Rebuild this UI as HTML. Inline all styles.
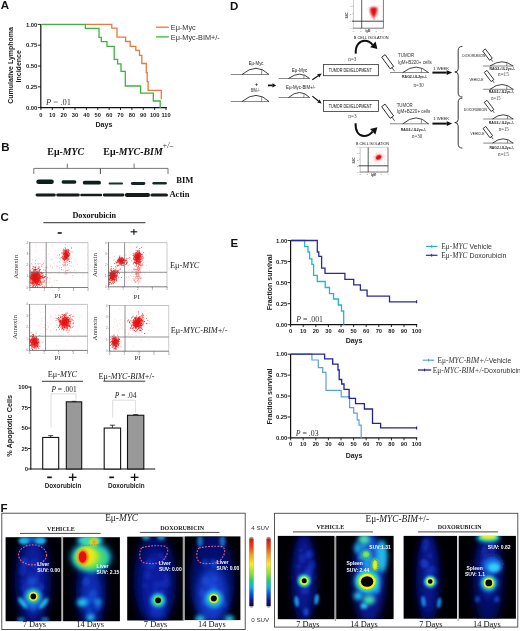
<!DOCTYPE html>
<html><head><meta charset="utf-8"><style>
html,body{margin:0;padding:0;background:#fff;width:520px;height:631px;overflow:hidden}
svg{display:block;filter:blur(0.35px)}
</style></head><body>
<svg width="520" height="631" viewBox="0 0 520 631">

<defs>
<filter id="bandblur" x="-20%" y="-50%" width="140%" height="200%"><feGaussianBlur stdDeviation="0.6"/></filter>
<filter id="b03" x="-50%" y="-50%" width="200%" height="200%"><feGaussianBlur stdDeviation="0.3"/></filter>
<filter id="b1" x="-50%" y="-50%" width="200%" height="200%"><feGaussianBlur stdDeviation="1"/></filter>
<filter id="b15" x="-50%" y="-50%" width="200%" height="200%"><feGaussianBlur stdDeviation="1.5"/></filter>
<filter id="b2" x="-50%" y="-50%" width="200%" height="200%"><feGaussianBlur stdDeviation="2"/></filter>
<filter id="b3" x="-50%" y="-50%" width="200%" height="200%"><feGaussianBlur stdDeviation="3"/></filter>
<filter id="b4" x="-50%" y="-50%" width="200%" height="200%"><feGaussianBlur stdDeviation="4"/></filter>
<linearGradient id="cbar" x1="0" y1="0" x2="0" y2="1">
<stop offset="0" stop-color="#d01818"/><stop offset="0.12" stop-color="#f04010"/><stop offset="0.25" stop-color="#f8a020"/>
<stop offset="0.38" stop-color="#f0f020"/><stop offset="0.52" stop-color="#90e030"/><stop offset="0.62" stop-color="#20d070"/>
<stop offset="0.72" stop-color="#10b0e0"/><stop offset="0.82" stop-color="#1050e0"/><stop offset="0.92" stop-color="#101890"/>
<stop offset="1" stop-color="#0a0a40"/></linearGradient>
</defs>

<rect x="0" y="0" width="520" height="631" fill="#fff"/>
<defs><clipPath id="fc11"><rect x="29.8" y="242.6" width="58.2" height="44.900000000000006"/></clipPath><clipPath id="fc12"><rect x="108.5" y="242.6" width="58.5" height="44.20000000000002"/></clipPath><clipPath id="fc13"><rect x="29.6" y="304.4" width="57.9" height="46.0"/></clipPath><clipPath id="fc14"><rect x="109.5" y="305.5" width="59.19999999999999" height="45.69999999999999"/></clipPath><clipPath id="dc21"><rect x="353.4" y="0" width="30.0" height="28.2"/></clipPath><clipPath id="dc22"><rect x="360.2" y="147.4" width="27.80000000000001" height="24.599999999999994"/></clipPath><clipPath id="pc1"><rect x="5.6" y="537.2" width="55.8" height="84.0"/></clipPath><clipPath id="pc2"><rect x="63.1" y="537.2" width="56.8" height="84.0"/></clipPath><clipPath id="pc3"><rect x="127.2" y="536.7" width="55.6" height="83.8"/></clipPath><clipPath id="pc4"><rect x="184.6" y="536.4" width="55.8" height="83.7"/></clipPath><clipPath id="pc5"><rect x="277.8" y="535.9" width="56.7" height="83.3"/></clipPath><clipPath id="pc6"><rect x="336.2" y="535.9" width="57.4" height="83.2"/></clipPath><clipPath id="pc7"><rect x="403.6" y="535.9" width="53.4" height="82.8"/></clipPath><clipPath id="pc8"><rect x="458.9" y="535.9" width="57.0" height="82.8"/></clipPath></defs>
<text x="0.80" y="9.30" font-family='"Liberation Sans", sans-serif' font-size="11.5" font-weight="bold" font-style="normal" text-anchor="start" fill="#111" >A</text>
<line x1="40.80" y1="23.90" x2="40.80" y2="108.20" stroke="#111" stroke-width="1.2" />
<line x1="40.20" y1="107.60" x2="166.90" y2="107.60" stroke="#111" stroke-width="1.2" />
<line x1="37.80" y1="107.60" x2="40.80" y2="107.60" stroke="#111" stroke-width="0.9" />
<text x="37.40" y="109.70" font-family='"Liberation Sans", sans-serif' font-size="5.9" font-weight="bold" font-style="normal" text-anchor="end" fill="#222" >0.00</text>
<line x1="37.80" y1="86.80" x2="40.80" y2="86.80" stroke="#111" stroke-width="0.9" />
<text x="37.40" y="88.90" font-family='"Liberation Sans", sans-serif' font-size="5.9" font-weight="bold" font-style="normal" text-anchor="end" fill="#222" >0.25</text>
<line x1="37.80" y1="66.00" x2="40.80" y2="66.00" stroke="#111" stroke-width="0.9" />
<text x="37.40" y="68.10" font-family='"Liberation Sans", sans-serif' font-size="5.9" font-weight="bold" font-style="normal" text-anchor="end" fill="#222" >0.50</text>
<line x1="37.80" y1="45.20" x2="40.80" y2="45.20" stroke="#111" stroke-width="0.9" />
<text x="37.40" y="47.30" font-family='"Liberation Sans", sans-serif' font-size="5.9" font-weight="bold" font-style="normal" text-anchor="end" fill="#222" >0.75</text>
<line x1="37.80" y1="24.40" x2="40.80" y2="24.40" stroke="#111" stroke-width="0.9" />
<text x="37.40" y="26.50" font-family='"Liberation Sans", sans-serif' font-size="5.9" font-weight="bold" font-style="normal" text-anchor="end" fill="#222" >1.00</text>
<line x1="40.90" y1="107.60" x2="40.90" y2="110.00" stroke="#111" stroke-width="0.9" />
<text x="40.90" y="117.30" font-family='"Liberation Sans", sans-serif' font-size="5.7" font-weight="bold" font-style="normal" text-anchor="middle" fill="#222" >0</text>
<line x1="52.27" y1="107.60" x2="52.27" y2="110.00" stroke="#111" stroke-width="0.9" />
<text x="52.27" y="117.30" font-family='"Liberation Sans", sans-serif' font-size="5.7" font-weight="bold" font-style="normal" text-anchor="middle" fill="#222" >10</text>
<line x1="63.65" y1="107.60" x2="63.65" y2="110.00" stroke="#111" stroke-width="0.9" />
<text x="63.65" y="117.30" font-family='"Liberation Sans", sans-serif' font-size="5.7" font-weight="bold" font-style="normal" text-anchor="middle" fill="#222" >20</text>
<line x1="75.02" y1="107.60" x2="75.02" y2="110.00" stroke="#111" stroke-width="0.9" />
<text x="75.02" y="117.30" font-family='"Liberation Sans", sans-serif' font-size="5.7" font-weight="bold" font-style="normal" text-anchor="middle" fill="#222" >30</text>
<line x1="86.40" y1="107.60" x2="86.40" y2="110.00" stroke="#111" stroke-width="0.9" />
<text x="86.40" y="117.30" font-family='"Liberation Sans", sans-serif' font-size="5.7" font-weight="bold" font-style="normal" text-anchor="middle" fill="#222" >40</text>
<line x1="97.77" y1="107.60" x2="97.77" y2="110.00" stroke="#111" stroke-width="0.9" />
<text x="97.77" y="117.30" font-family='"Liberation Sans", sans-serif' font-size="5.7" font-weight="bold" font-style="normal" text-anchor="middle" fill="#222" >50</text>
<line x1="109.15" y1="107.60" x2="109.15" y2="110.00" stroke="#111" stroke-width="0.9" />
<text x="109.15" y="117.30" font-family='"Liberation Sans", sans-serif' font-size="5.7" font-weight="bold" font-style="normal" text-anchor="middle" fill="#222" >60</text>
<line x1="120.52" y1="107.60" x2="120.52" y2="110.00" stroke="#111" stroke-width="0.9" />
<text x="120.52" y="117.30" font-family='"Liberation Sans", sans-serif' font-size="5.7" font-weight="bold" font-style="normal" text-anchor="middle" fill="#222" >70</text>
<line x1="131.90" y1="107.60" x2="131.90" y2="110.00" stroke="#111" stroke-width="0.9" />
<text x="131.90" y="117.30" font-family='"Liberation Sans", sans-serif' font-size="5.7" font-weight="bold" font-style="normal" text-anchor="middle" fill="#222" >80</text>
<line x1="143.28" y1="107.60" x2="143.28" y2="110.00" stroke="#111" stroke-width="0.9" />
<text x="143.28" y="117.30" font-family='"Liberation Sans", sans-serif' font-size="5.7" font-weight="bold" font-style="normal" text-anchor="middle" fill="#222" >90</text>
<line x1="154.65" y1="107.60" x2="154.65" y2="110.00" stroke="#111" stroke-width="0.9" />
<text x="154.65" y="117.30" font-family='"Liberation Sans", sans-serif' font-size="5.7" font-weight="bold" font-style="normal" text-anchor="middle" fill="#222" >100</text>
<line x1="166.03" y1="107.60" x2="166.03" y2="110.00" stroke="#111" stroke-width="0.9" />
<text x="166.03" y="117.30" font-family='"Liberation Sans", sans-serif' font-size="5.7" font-weight="bold" font-style="normal" text-anchor="middle" fill="#222" >110</text>
<text x="103.90" y="127.20" font-family='"Liberation Sans", sans-serif' font-size="7.1" font-weight="bold" font-style="normal" text-anchor="middle" fill="#222" >Days</text>
<text transform="translate(13.3,65.4) rotate(-90)" font-family='"Liberation Sans", sans-serif' font-size="7.0" font-weight="bold" text-anchor="middle" fill="#222">Cumulative Lymphoma</text>
<text transform="translate(21.4,66.3) rotate(-90)" font-family='"Liberation Sans", sans-serif' font-size="7.0" font-weight="bold" text-anchor="middle" fill="#222">Incidence</text>
<polyline points="85.40,24.40 111.80,24.40 111.80,28.10 117.00,28.10 117.00,37.10 125.60,37.10 125.60,41.50 130.20,41.50 130.20,46.30 135.80,46.30 135.80,50.40 139.50,50.40 139.50,55.40 141.80,55.40 141.80,63.50 146.30,63.50 146.30,72.70 147.20,72.70 147.20,81.70 148.10,81.70 148.10,90.30 161.30,90.30 161.30,99.20" fill="none" stroke="#e8793a" stroke-width="1.3" />
<polyline points="41.40,24.40 85.40,24.40 85.40,28.30 99.00,28.30 99.00,37.30 101.30,37.30 101.30,41.60 107.00,41.60 107.00,46.30 114.20,46.30 114.20,59.40 117.60,59.40 117.60,63.80 121.00,63.80 121.00,71.30 125.30,71.30 125.30,86.00 140.60,86.00 140.60,93.20 153.30,93.20 153.30,101.00 160.20,101.00 160.20,108.00" fill="none" stroke="#3cb43c" stroke-width="1.3" />
<line x1="156.00" y1="27.20" x2="168.80" y2="27.20" stroke="#e8793a" stroke-width="1.3" />
<line x1="156.00" y1="36.90" x2="168.80" y2="36.90" stroke="#3cb43c" stroke-width="1.3" />
<text x="170.80" y="29.80" font-family='"Liberation Sans", sans-serif' font-size="7.3" font-weight="normal" font-style="normal" text-anchor="start" fill="#333" >Eμ-Myc</text>
<text x="170.80" y="39.50" font-family='"Liberation Sans", sans-serif' font-size="7.3" font-weight="normal" font-style="normal" text-anchor="start" fill="#333" >Eμ-Myc-BIM+/-</text>
<text x="46.0" y="105.4" font-family='"Liberation Serif", serif' font-size="8.5" fill="#333"><tspan font-style="italic">P</tspan> <tspan fill="#888">=</tspan> .01</text>
<text x="1.20" y="151.20" font-family='"Liberation Sans", sans-serif' font-size="11.5" font-weight="bold" font-style="normal" text-anchor="start" fill="#111" >B</text>
<text x="47.3" y="154.5" font-family='"Liberation Serif", serif' font-size="9.9" font-weight="bold" fill="#111">Eμ-<tspan font-style="italic">MYC</tspan></text>
<text x="103.3" y="154.5" font-family='"Liberation Serif", serif' font-size="9.9" font-weight="bold" fill="#111">Eμ-<tspan font-style="italic">MYC-BIM</tspan></text>
<text x="162.2" y="148.2" font-family='"Liberation Serif", serif' font-size="7.6" font-style="italic" fill="#222">+/–</text>
<path d="M33.8,174 L33.8,168.4 L100.5,168.4 L100.5,174 M67.3,168.4 L67.3,163.6" fill="none" stroke="#555" stroke-width="0.8"/>
<path d="M100.3,174 L100.3,168.4 L168.0,168.4 L168.0,174 M134.1,168.4 L134.1,163.6" fill="none" stroke="#555" stroke-width="0.8"/>
<g filter="url(#bandblur)">
<rect x="36.3" y="179.40" width="17.50" height="4.6" rx="2.30" fill="#0c1e1c"/>
<rect x="61.6" y="180.30" width="14.80" height="3.4" rx="1.70" fill="#0e201e"/>
<rect x="82.8" y="180.80" width="18.20" height="3.8" rx="1.90" fill="#0c1e1c"/>
<rect x="108.6" y="182.50" width="14.40" height="2.0" rx="1.00" fill="#1c302e"/>
<rect x="130.9" y="182.10" width="14.40" height="2.8" rx="1.40" fill="#142826"/>
<rect x="152.4" y="182.00" width="14.40" height="2.4" rx="1.20" fill="#182c2a"/>
<rect x="35.6" y="193.60" width="20.20" height="2.8" rx="1.40" fill="#151a1a"/>
<rect x="56.2" y="193.60" width="23.60" height="2.8" rx="1.40" fill="#151a1a"/>
<rect x="80.2" y="193.70" width="22.00" height="2.6" rx="1.30" fill="#151a1a"/>
<rect x="102.8" y="193.55" width="21.70" height="2.9" rx="1.45" fill="#151a1a"/>
<rect x="124.9" y="193.10" width="25.10" height="3.8" rx="1.90" fill="#151a1a"/>
<rect x="150.4" y="193.40" width="17.60" height="3.2" rx="1.60" fill="#151a1a"/>
</g>
<text x="176.20" y="183.00" font-family='"Liberation Serif", serif' font-size="8.6" font-weight="bold" font-style="normal" text-anchor="start" fill="#111" >BIM</text>
<text x="169.40" y="197.30" font-family='"Liberation Serif", serif' font-size="8.6" font-weight="bold" font-style="normal" text-anchor="start" fill="#111" >Actin</text>
<text x="0.60" y="220.70" font-family='"Liberation Sans", sans-serif' font-size="11.5" font-weight="bold" font-style="normal" text-anchor="start" fill="#111" >C</text>
<text x="72.40" y="217.80" font-family='"Liberation Serif", serif' font-size="8.2" font-weight="bold" font-style="normal" text-anchor="start" fill="#111" >Doxorubicin</text>
<line x1="43.30" y1="222.60" x2="145.40" y2="222.60" stroke="#555" stroke-width="1.2" />
<rect x="57.7" y="232.2" width="4.0" height="1.6" fill="#111"/>
<line x1="130.60" y1="231.80" x2="137.20" y2="231.80" stroke="#111" stroke-width="1.1" />
<line x1="133.90" y1="228.90" x2="133.90" y2="234.70" stroke="#111" stroke-width="1.1" />
<rect x="29.8" y="242.6" width="58.2" height="44.900000000000006" fill="#fff"/>
<g clip-path="url(#fc11)">
<ellipse cx="35.4" cy="277.5" rx="4.50" ry="5.75" fill="#e80808" fill-opacity="0.9" filter="url(#b1)"/>
<ellipse cx="65.8" cy="254.5" rx="2.38" ry="4.00" fill="#e80808" fill-opacity="0.9" filter="url(#b1)" transform="rotate(10 65.8 254.5)"/>
<path fill="#e41010" fill-opacity="0.9" d="M31.0 279.2h.8v.8h-.8zM39.0 275.1h.8v.8h-.8zM30.6 277.2h.8v.8h-.8zM37.1 282.6h.8v.8h-.8zM31.0 271.6h.8v.8h-.8zM37.9 279.7h.8v.8h-.8zM40.9 282.0h.8v.8h-.8zM35.0 276.2h.8v.8h-.8zM44.7 276.2h.8v.8h-.8zM32.6 272.3h.8v.8h-.8zM35.7 278.2h.8v.8h-.8zM34.2 277.2h.8v.8h-.8zM36.4 280.7h.8v.8h-.8zM39.3 278.5h.8v.8h-.8zM29.0 280.7h.8v.8h-.8zM30.3 276.7h.8v.8h-.8zM30.1 277.5h.8v.8h-.8zM32.6 278.5h.8v.8h-.8zM47.3 277.3h.8v.8h-.8zM38.4 271.4h.8v.8h-.8zM34.4 280.5h.8v.8h-.8zM35.1 279.2h.8v.8h-.8zM35.8 272.9h.8v.8h-.8zM37.4 273.8h.8v.8h-.8zM42.1 275.2h.8v.8h-.8zM37.9 277.5h.8v.8h-.8zM38.8 274.7h.8v.8h-.8zM39.0 276.9h.8v.8h-.8zM39.9 280.4h.8v.8h-.8zM35.9 273.9h.8v.8h-.8zM38.2 279.7h.8v.8h-.8zM41.3 275.8h.8v.8h-.8zM37.4 279.8h.8v.8h-.8zM36.4 278.5h.8v.8h-.8zM36.1 274.7h.8v.8h-.8zM31.7 275.7h.8v.8h-.8zM37.5 284.5h.8v.8h-.8zM38.9 282.3h.8v.8h-.8zM38.2 280.7h.8v.8h-.8zM36.1 281.0h.8v.8h-.8zM41.8 276.0h.8v.8h-.8zM32.9 286.5h.8v.8h-.8zM36.3 282.0h.8v.8h-.8zM38.5 272.3h.8v.8h-.8zM44.2 285.7h.8v.8h-.8zM36.0 281.0h.8v.8h-.8zM35.9 273.4h.8v.8h-.8zM35.0 279.2h.8v.8h-.8zM39.4 280.8h.8v.8h-.8zM35.6 283.7h.8v.8h-.8zM32.7 281.1h.8v.8h-.8zM39.4 276.2h.8v.8h-.8zM29.0 273.3h.8v.8h-.8zM36.3 279.9h.8v.8h-.8zM41.0 272.9h.8v.8h-.8zM35.4 280.5h.8v.8h-.8zM34.8 266.6h.8v.8h-.8zM38.3 288.1h.8v.8h-.8zM39.0 273.3h.8v.8h-.8zM33.9 278.5h.8v.8h-.8zM44.4 280.3h.8v.8h-.8zM35.8 284.7h.8v.8h-.8zM35.1 286.1h.8v.8h-.8zM32.9 275.3h.8v.8h-.8zM38.0 284.1h.8v.8h-.8zM37.8 278.9h.8v.8h-.8zM28.8 274.2h.8v.8h-.8zM33.2 275.0h.8v.8h-.8zM37.5 276.0h.8v.8h-.8zM38.2 277.9h.8v.8h-.8zM34.2 278.0h.8v.8h-.8zM36.9 281.4h.8v.8h-.8zM33.7 276.4h.8v.8h-.8zM30.5 284.9h.8v.8h-.8zM40.6 276.7h.8v.8h-.8zM33.7 271.8h.8v.8h-.8zM36.0 278.4h.8v.8h-.8zM43.3 278.6h.8v.8h-.8zM32.6 266.3h.8v.8h-.8zM40.5 278.4h.8v.8h-.8zM29.6 278.3h.8v.8h-.8zM29.6 293.5h.8v.8h-.8zM39.4 280.1h.8v.8h-.8zM34.8 267.7h.8v.8h-.8zM34.9 270.3h.8v.8h-.8zM37.5 267.7h.8v.8h-.8zM32.1 283.1h.8v.8h-.8zM41.3 272.1h.8v.8h-.8zM29.9 281.5h.8v.8h-.8zM38.5 273.0h.8v.8h-.8zM32.9 274.3h.8v.8h-.8zM31.1 274.4h.8v.8h-.8zM39.9 280.7h.8v.8h-.8zM42.8 277.1h.8v.8h-.8zM34.9 273.0h.8v.8h-.8zM35.0 271.5h.8v.8h-.8zM29.0 280.7h.8v.8h-.8zM40.6 281.3h.8v.8h-.8zM40.2 278.7h.8v.8h-.8zM32.8 277.9h.8v.8h-.8zM34.1 272.4h.8v.8h-.8zM29.3 270.7h.8v.8h-.8zM35.4 278.2h.8v.8h-.8zM33.7 284.1h.8v.8h-.8zM36.0 280.2h.8v.8h-.8zM39.8 273.7h.8v.8h-.8zM28.3 281.0h.8v.8h-.8zM32.9 283.5h.8v.8h-.8zM36.6 282.1h.8v.8h-.8zM38.1 267.9h.8v.8h-.8zM38.0 274.4h.8v.8h-.8zM32.7 275.5h.8v.8h-.8zM38.2 281.6h.8v.8h-.8zM39.0 269.9h.8v.8h-.8zM33.3 266.6h.8v.8h-.8zM35.0 280.3h.8v.8h-.8zM32.6 278.6h.8v.8h-.8zM36.2 282.1h.8v.8h-.8zM32.4 273.7h.8v.8h-.8zM32.7 285.6h.8v.8h-.8zM39.3 276.9h.8v.8h-.8zM36.2 278.0h.8v.8h-.8zM36.1 276.5h.8v.8h-.8zM34.2 271.7h.8v.8h-.8zM33.1 285.1h.8v.8h-.8zM37.3 277.8h.8v.8h-.8zM34.6 277.8h.8v.8h-.8zM36.7 274.5h.8v.8h-.8zM36.1 278.6h.8v.8h-.8zM32.7 273.9h.8v.8h-.8zM31.8 272.6h.8v.8h-.8zM38.6 266.6h.8v.8h-.8zM34.4 274.7h.8v.8h-.8zM33.2 277.9h.8v.8h-.8zM39.5 277.9h.8v.8h-.8zM34.9 274.7h.8v.8h-.8zM34.9 281.7h.8v.8h-.8zM34.0 272.2h.8v.8h-.8zM30.8 272.4h.8v.8h-.8zM30.4 282.6h.8v.8h-.8zM36.7 276.4h.8v.8h-.8zM40.7 274.5h.8v.8h-.8zM38.1 281.2h.8v.8h-.8zM29.8 270.3h.8v.8h-.8zM32.1 281.7h.8v.8h-.8zM40.1 271.9h.8v.8h-.8zM39.2 275.7h.8v.8h-.8zM34.0 275.0h.8v.8h-.8zM34.2 269.1h.8v.8h-.8zM31.8 271.8h.8v.8h-.8zM37.2 287.1h.8v.8h-.8zM45.2 276.0h.8v.8h-.8zM29.2 275.6h.8v.8h-.8zM32.0 286.6h.8v.8h-.8zM37.5 274.1h.8v.8h-.8zM38.8 280.0h.8v.8h-.8zM29.5 275.1h.8v.8h-.8zM34.5 277.6h.8v.8h-.8zM35.9 275.9h.8v.8h-.8zM36.1 274.8h.8v.8h-.8zM32.2 284.5h.8v.8h-.8zM36.7 279.5h.8v.8h-.8zM29.7 276.7h.8v.8h-.8zM38.3 271.6h.8v.8h-.8zM39.4 275.7h.8v.8h-.8zM36.8 276.9h.8v.8h-.8zM36.2 283.0h.8v.8h-.8zM33.9 284.7h.8v.8h-.8zM32.6 273.2h.8v.8h-.8zM38.0 272.6h.8v.8h-.8zM34.1 281.7h.8v.8h-.8zM39.8 269.3h.8v.8h-.8zM37.2 286.2h.8v.8h-.8zM39.7 276.4h.8v.8h-.8zM33.2 276.1h.8v.8h-.8zM31.2 276.3h.8v.8h-.8zM34.7 276.8h.8v.8h-.8zM39.7 276.4h.8v.8h-.8zM30.2 282.3h.8v.8h-.8zM31.5 275.4h.8v.8h-.8zM34.9 275.9h.8v.8h-.8zM31.8 276.4h.8v.8h-.8zM43.3 274.7h.8v.8h-.8zM34.9 282.7h.8v.8h-.8zM38.1 281.0h.8v.8h-.8zM38.5 268.4h.8v.8h-.8zM32.3 278.1h.8v.8h-.8zM37.2 283.5h.8v.8h-.8zM37.1 276.4h.8v.8h-.8zM35.5 276.5h.8v.8h-.8zM36.3 280.6h.8v.8h-.8zM34.2 273.8h.8v.8h-.8zM32.3 282.5h.8v.8h-.8zM40.0 282.1h.8v.8h-.8zM38.5 281.3h.8v.8h-.8zM35.4 280.6h.8v.8h-.8zM31.6 276.6h.8v.8h-.8zM32.8 280.8h.8v.8h-.8zM33.3 277.0h.8v.8h-.8zM36.8 283.7h.8v.8h-.8zM32.5 273.2h.8v.8h-.8zM38.3 272.4h.8v.8h-.8zM37.0 274.9h.8v.8h-.8zM35.0 269.1h.8v.8h-.8zM38.0 275.2h.8v.8h-.8zM32.2 287.1h.8v.8h-.8zM38.0 293.6h.8v.8h-.8zM36.9 275.9h.8v.8h-.8zM35.8 284.9h.8v.8h-.8zM35.3 279.6h.8v.8h-.8zM37.3 273.3h.8v.8h-.8zM35.9 275.2h.8v.8h-.8zM30.9 281.5h.8v.8h-.8zM37.8 277.8h.8v.8h-.8zM32.1 268.3h.8v.8h-.8zM37.1 277.1h.8v.8h-.8zM29.3 277.2h.8v.8h-.8zM29.9 277.4h.8v.8h-.8zM35.9 279.1h.8v.8h-.8zM36.2 278.3h.8v.8h-.8zM31.3 275.7h.8v.8h-.8zM33.6 276.4h.8v.8h-.8zM36.4 280.3h.8v.8h-.8zM41.3 265.7h.8v.8h-.8zM36.8 276.6h.8v.8h-.8zM43.6 281.8h.8v.8h-.8zM29.4 279.3h.8v.8h-.8zM33.5 282.1h.8v.8h-.8zM31.6 277.0h.8v.8h-.8zM34.9 277.1h.8v.8h-.8zM33.3 269.0h.8v.8h-.8zM37.1 282.1h.8v.8h-.8zM35.2 272.8h.8v.8h-.8zM36.1 280.1h.8v.8h-.8zM34.8 277.4h.8v.8h-.8zM40.5 272.4h.8v.8h-.8zM33.4 268.7h.8v.8h-.8zM32.9 274.1h.8v.8h-.8zM31.9 274.3h.8v.8h-.8zM41.9 276.6h.8v.8h-.8zM35.0 287.6h.8v.8h-.8zM35.2 269.5h.8v.8h-.8zM36.9 273.2h.8v.8h-.8zM41.3 271.8h.8v.8h-.8zM33.3 270.1h.8v.8h-.8zM35.8 272.8h.8v.8h-.8zM35.2 275.8h.8v.8h-.8zM33.2 281.8h.8v.8h-.8zM38.8 277.8h.8v.8h-.8zM32.2 272.6h.8v.8h-.8zM36.4 288.5h.8v.8h-.8zM33.8 273.9h.8v.8h-.8zM32.9 272.5h.8v.8h-.8zM31.9 276.6h.8v.8h-.8zM40.6 277.5h.8v.8h-.8zM33.6 270.1h.8v.8h-.8zM36.2 277.4h.8v.8h-.8zM31.0 272.5h.8v.8h-.8zM35.2 282.2h.8v.8h-.8zM37.7 278.4h.8v.8h-.8zM34.2 279.0h.8v.8h-.8zM35.4 287.5h.8v.8h-.8zM31.3 275.8h.8v.8h-.8zM40.0 276.3h.8v.8h-.8zM40.5 277.3h.8v.8h-.8zM35.9 275.8h.8v.8h-.8zM30.4 273.0h.8v.8h-.8zM43.4 280.5h.8v.8h-.8zM37.6 281.9h.8v.8h-.8zM37.4 282.2h.8v.8h-.8zM34.4 276.5h.8v.8h-.8zM38.9 275.9h.8v.8h-.8zM30.6 276.5h.8v.8h-.8zM33.4 280.3h.8v.8h-.8zM32.8 272.6h.8v.8h-.8zM34.2 284.6h.8v.8h-.8zM35.2 278.2h.8v.8h-.8zM35.4 278.9h.8v.8h-.8zM38.7 283.9h.8v.8h-.8zM29.5 283.8h.8v.8h-.8zM35.4 276.0h.8v.8h-.8zM44.0 276.7h.8v.8h-.8zM42.4 282.0h.8v.8h-.8zM31.7 279.7h.8v.8h-.8zM38.1 276.9h.8v.8h-.8zM27.0 275.9h.8v.8h-.8zM34.7 272.4h.8v.8h-.8zM42.0 276.4h.8v.8h-.8zM34.0 276.1h.8v.8h-.8zM32.6 273.9h.8v.8h-.8zM35.7 278.9h.8v.8h-.8zM33.6 277.1h.8v.8h-.8zM30.4 279.9h.8v.8h-.8zM32.7 278.5h.8v.8h-.8zM32.1 275.1h.8v.8h-.8zM36.2 271.9h.8v.8h-.8zM44.3 277.3h.8v.8h-.8zM35.1 274.1h.8v.8h-.8zM41.1 283.9h.8v.8h-.8zM36.5 271.2h.8v.8h-.8zM33.6 280.3h.8v.8h-.8zM33.6 272.1h.8v.8h-.8zM31.1 274.0h.8v.8h-.8zM35.4 274.5h.8v.8h-.8zM35.5 290.3h.8v.8h-.8zM41.8 272.7h.8v.8h-.8zM36.6 277.9h.8v.8h-.8zM34.9 282.3h.8v.8h-.8zM34.2 276.0h.8v.8h-.8zM34.1 277.0h.8v.8h-.8zM40.0 281.1h.8v.8h-.8zM30.6 275.5h.8v.8h-.8zM32.5 281.3h.8v.8h-.8zM36.2 281.6h.8v.8h-.8zM35.2 268.7h.8v.8h-.8zM37.0 278.5h.8v.8h-.8zM37.2 271.5h.8v.8h-.8zM35.7 274.3h.8v.8h-.8zM32.9 279.1h.8v.8h-.8zM36.7 273.4h.8v.8h-.8zM29.2 266.1h.8v.8h-.8zM33.3 282.7h.8v.8h-.8zM35.2 267.1h.8v.8h-.8zM32.3 279.4h.8v.8h-.8zM41.4 282.9h.8v.8h-.8zM36.7 278.4h.8v.8h-.8zM31.6 275.4h.8v.8h-.8zM34.2 273.9h.8v.8h-.8zM35.6 275.7h.8v.8h-.8zM36.6 284.1h.8v.8h-.8zM38.1 279.4h.8v.8h-.8zM34.5 270.5h.8v.8h-.8zM35.0 280.0h.8v.8h-.8zM31.8 283.3h.8v.8h-.8zM34.2 279.2h.8v.8h-.8zM34.2 271.7h.8v.8h-.8zM42.8 272.2h.8v.8h-.8zM38.7 274.9h.8v.8h-.8zM36.4 273.8h.8v.8h-.8zM33.9 281.7h.8v.8h-.8zM42.4 273.6h.8v.8h-.8zM35.4 281.9h.8v.8h-.8zM33.1 280.8h.8v.8h-.8zM32.6 280.3h.8v.8h-.8zM37.0 283.1h.8v.8h-.8zM36.7 272.0h.8v.8h-.8zM37.8 272.4h.8v.8h-.8zM38.1 284.4h.8v.8h-.8zM37.5 275.0h.8v.8h-.8zM39.7 278.3h.8v.8h-.8zM30.9 275.9h.8v.8h-.8zM40.5 276.1h.8v.8h-.8zM35.8 275.9h.8v.8h-.8zM29.3 275.2h.8v.8h-.8zM36.7 278.5h.8v.8h-.8zM34.8 267.7h.8v.8h-.8zM39.8 280.8h.8v.8h-.8zM39.1 283.5h.8v.8h-.8zM33.8 274.7h.8v.8h-.8zM36.5 285.2h.8v.8h-.8zM29.3 276.4h.8v.8h-.8zM32.8 280.1h.8v.8h-.8zM40.7 276.1h.8v.8h-.8zM30.9 277.7h.8v.8h-.8zM34.4 270.4h.8v.8h-.8zM38.6 275.1h.8v.8h-.8zM37.9 271.4h.8v.8h-.8zM39.3 270.9h.8v.8h-.8zM39.2 269.2h.8v.8h-.8zM40.4 275.8h.8v.8h-.8zM29.8 276.4h.8v.8h-.8zM36.6 272.9h.8v.8h-.8zM33.6 278.7h.8v.8h-.8zM34.8 263.4h.8v.8h-.8zM33.9 279.5h.8v.8h-.8zM36.5 282.1h.8v.8h-.8zM32.9 289.2h.8v.8h-.8zM38.3 278.9h.8v.8h-.8zM39.3 281.9h.8v.8h-.8zM35.8 274.6h.8v.8h-.8zM39.1 279.4h.8v.8h-.8zM28.6 272.4h.8v.8h-.8zM37.1 278.0h.8v.8h-.8zM36.4 280.5h.8v.8h-.8zM35.9 284.8h.8v.8h-.8zM33.3 275.7h.8v.8h-.8zM36.6 280.9h.8v.8h-.8zM38.2 284.3h.8v.8h-.8zM33.7 282.9h.8v.8h-.8zM37.1 272.7h.8v.8h-.8zM34.9 287.1h.8v.8h-.8zM38.2 275.3h.8v.8h-.8zM26.8 274.1h.8v.8h-.8zM32.9 277.9h.8v.8h-.8zM43.7 280.9h.8v.8h-.8zM36.5 273.2h.8v.8h-.8zM31.1 276.5h.8v.8h-.8zM33.7 291.3h.8v.8h-.8zM33.9 274.7h.8v.8h-.8zM39.5 277.9h.8v.8h-.8zM31.0 283.4h.8v.8h-.8zM34.3 271.4h.8v.8h-.8zM36.6 279.7h.8v.8h-.8zM34.2 280.7h.8v.8h-.8zM38.4 273.4h.8v.8h-.8zM28.0 266.5h.8v.8h-.8zM34.9 283.2h.8v.8h-.8zM39.0 283.9h.8v.8h-.8zM42.1 277.6h.8v.8h-.8zM39.2 270.5h.8v.8h-.8zM37.9 279.3h.8v.8h-.8zM35.1 275.5h.8v.8h-.8zM31.4 278.1h.8v.8h-.8zM40.0 275.8h.8v.8h-.8zM37.3 274.4h.8v.8h-.8zM36.3 272.9h.8v.8h-.8zM36.8 276.5h.8v.8h-.8zM36.5 274.7h.8v.8h-.8zM31.2 276.0h.8v.8h-.8zM39.1 284.8h.8v.8h-.8zM34.2 281.2h.8v.8h-.8zM38.1 279.3h.8v.8h-.8zM29.8 279.0h.8v.8h-.8zM31.9 282.9h.8v.8h-.8zM38.2 280.3h.8v.8h-.8zM26.3 280.4h.8v.8h-.8zM37.9 271.6h.8v.8h-.8zM38.9 277.8h.8v.8h-.8zM34.7 274.2h.8v.8h-.8zM31.7 275.5h.8v.8h-.8zM46.5 278.4h.8v.8h-.8zM36.1 274.5h.8v.8h-.8zM33.2 275.0h.8v.8h-.8zM32.2 281.5h.8v.8h-.8zM34.4 281.5h.8v.8h-.8zM31.2 281.8h.8v.8h-.8zM35.3 280.6h.8v.8h-.8zM35.0 273.4h.8v.8h-.8zM39.8 275.5h.8v.8h-.8zM34.9 273.4h.8v.8h-.8zM36.1 275.7h.8v.8h-.8zM36.4 279.1h.8v.8h-.8zM32.9 271.0h.8v.8h-.8zM37.0 281.7h.8v.8h-.8zM37.9 272.2h.8v.8h-.8zM37.6 279.3h.8v.8h-.8zM36.4 279.5h.8v.8h-.8zM34.2 278.5h.8v.8h-.8zM38.7 275.2h.8v.8h-.8zM30.2 277.0h.8v.8h-.8zM36.1 269.0h.8v.8h-.8zM33.0 280.2h.8v.8h-.8zM34.9 277.9h.8v.8h-.8zM30.9 281.7h.8v.8h-.8zM41.7 276.6h.8v.8h-.8zM32.8 272.2h.8v.8h-.8zM38.6 278.0h.8v.8h-.8zM32.5 283.1h.8v.8h-.8zM38.2 280.3h.8v.8h-.8zM29.1 277.0h.8v.8h-.8zM37.7 271.9h.8v.8h-.8zM38.7 284.1h.8v.8h-.8zM39.1 274.2h.8v.8h-.8zM32.9 281.8h.8v.8h-.8zM39.0 283.2h.8v.8h-.8zM39.7 277.0h.8v.8h-.8zM33.9 269.0h.8v.8h-.8zM38.2 288.0h.8v.8h-.8zM33.7 275.3h.8v.8h-.8zM37.7 279.2h.8v.8h-.8zM30.5 274.2h.8v.8h-.8zM31.4 286.8h.8v.8h-.8zM32.8 281.4h.8v.8h-.8zM42.3 286.2h.8v.8h-.8zM40.5 285.0h.8v.8h-.8zM31.0 275.9h.8v.8h-.8zM32.8 276.2h.8v.8h-.8zM44.8 269.8h.8v.8h-.8zM37.4 271.8h.8v.8h-.8zM40.2 283.5h.8v.8h-.8zM33.6 287.0h.8v.8h-.8zM35.7 283.5h.8v.8h-.8zM36.5 274.9h.8v.8h-.8zM34.0 277.0h.8v.8h-.8zM37.6 278.1h.8v.8h-.8zM43.9 276.6h.8v.8h-.8zM33.7 274.2h.8v.8h-.8zM32.6 270.9h.8v.8h-.8zM31.9 281.7h.8v.8h-.8zM35.6 276.7h.8v.8h-.8zM36.7 282.4h.8v.8h-.8zM37.6 281.1h.8v.8h-.8zM33.4 276.3h.8v.8h-.8zM32.6 277.1h.8v.8h-.8zM32.5 275.8h.8v.8h-.8zM34.8 276.5h.8v.8h-.8zM34.4 275.2h.8v.8h-.8zM40.1 275.9h.8v.8h-.8zM31.8 278.4h.8v.8h-.8zM31.5 272.6h.8v.8h-.8zM68.0 251.6h.8v.8h-.8zM67.8 252.5h.8v.8h-.8zM62.3 257.8h.8v.8h-.8zM62.7 257.8h.8v.8h-.8zM65.7 257.4h.8v.8h-.8zM66.1 258.3h.8v.8h-.8zM66.1 256.4h.8v.8h-.8zM65.7 258.0h.8v.8h-.8zM64.5 257.6h.8v.8h-.8zM68.7 254.8h.8v.8h-.8zM66.9 253.0h.8v.8h-.8zM65.1 255.2h.8v.8h-.8zM65.7 251.6h.8v.8h-.8zM65.6 255.1h.8v.8h-.8zM66.0 256.8h.8v.8h-.8zM61.7 258.4h.8v.8h-.8zM65.9 252.0h.8v.8h-.8zM64.9 255.8h.8v.8h-.8zM67.6 253.6h.8v.8h-.8zM67.0 249.5h.8v.8h-.8zM66.2 254.2h.8v.8h-.8zM64.5 257.1h.8v.8h-.8zM68.6 258.3h.8v.8h-.8zM63.5 259.1h.8v.8h-.8zM65.2 254.3h.8v.8h-.8zM64.5 255.7h.8v.8h-.8zM66.8 255.1h.8v.8h-.8zM65.5 254.0h.8v.8h-.8zM64.5 257.4h.8v.8h-.8zM64.9 253.9h.8v.8h-.8zM65.8 252.1h.8v.8h-.8zM66.2 249.8h.8v.8h-.8zM66.3 256.3h.8v.8h-.8zM64.4 259.3h.8v.8h-.8zM64.0 256.0h.8v.8h-.8zM67.0 253.0h.8v.8h-.8zM64.9 257.2h.8v.8h-.8zM65.8 255.4h.8v.8h-.8zM68.3 255.6h.8v.8h-.8zM63.1 251.6h.8v.8h-.8zM67.4 254.4h.8v.8h-.8zM64.9 247.9h.8v.8h-.8zM65.6 259.3h.8v.8h-.8zM64.7 247.3h.8v.8h-.8zM67.0 253.0h.8v.8h-.8zM65.4 253.4h.8v.8h-.8zM63.9 255.6h.8v.8h-.8zM67.3 255.9h.8v.8h-.8zM64.2 257.6h.8v.8h-.8zM65.3 256.3h.8v.8h-.8zM63.7 256.3h.8v.8h-.8zM66.5 258.8h.8v.8h-.8zM65.6 255.9h.8v.8h-.8zM64.2 257.1h.8v.8h-.8zM66.6 258.1h.8v.8h-.8zM65.8 250.6h.8v.8h-.8zM65.8 253.8h.8v.8h-.8zM64.1 256.1h.8v.8h-.8zM67.3 256.0h.8v.8h-.8zM67.6 256.1h.8v.8h-.8zM64.3 252.4h.8v.8h-.8zM64.8 256.5h.8v.8h-.8zM67.4 255.2h.8v.8h-.8zM68.1 252.3h.8v.8h-.8zM64.8 259.1h.8v.8h-.8zM66.0 257.9h.8v.8h-.8zM63.2 248.7h.8v.8h-.8zM63.7 257.4h.8v.8h-.8zM69.1 253.1h.8v.8h-.8zM64.5 251.0h.8v.8h-.8zM63.9 255.9h.8v.8h-.8zM64.2 260.2h.8v.8h-.8zM67.5 252.6h.8v.8h-.8zM66.3 254.1h.8v.8h-.8zM66.8 257.6h.8v.8h-.8zM64.7 257.2h.8v.8h-.8zM66.9 254.4h.8v.8h-.8zM65.9 256.7h.8v.8h-.8zM65.6 252.3h.8v.8h-.8zM68.1 254.9h.8v.8h-.8zM64.5 255.7h.8v.8h-.8zM63.1 254.2h.8v.8h-.8zM63.5 252.7h.8v.8h-.8zM62.9 251.7h.8v.8h-.8zM67.6 254.2h.8v.8h-.8zM62.6 259.5h.8v.8h-.8zM63.8 258.9h.8v.8h-.8zM65.6 249.8h.8v.8h-.8zM69.4 253.8h.8v.8h-.8zM66.6 258.4h.8v.8h-.8zM63.4 254.3h.8v.8h-.8zM64.4 256.2h.8v.8h-.8zM66.5 250.6h.8v.8h-.8zM65.5 256.9h.8v.8h-.8zM65.0 256.2h.8v.8h-.8zM64.9 254.2h.8v.8h-.8zM66.4 255.1h.8v.8h-.8zM67.6 257.9h.8v.8h-.8zM67.0 257.0h.8v.8h-.8zM66.7 251.0h.8v.8h-.8zM66.8 260.2h.8v.8h-.8zM66.4 253.8h.8v.8h-.8zM65.1 258.2h.8v.8h-.8zM66.9 251.6h.8v.8h-.8zM65.9 252.1h.8v.8h-.8zM65.9 251.7h.8v.8h-.8zM63.4 258.8h.8v.8h-.8zM68.6 249.9h.8v.8h-.8zM64.3 252.8h.8v.8h-.8zM65.8 250.1h.8v.8h-.8zM68.3 249.8h.8v.8h-.8zM66.7 256.9h.8v.8h-.8zM65.5 252.4h.8v.8h-.8zM65.8 255.0h.8v.8h-.8zM62.7 250.0h.8v.8h-.8zM66.8 254.4h.8v.8h-.8zM65.6 251.3h.8v.8h-.8zM64.9 251.9h.8v.8h-.8zM71.6 251.6h.8v.8h-.8zM68.4 256.5h.8v.8h-.8zM66.1 255.2h.8v.8h-.8zM64.2 259.4h.8v.8h-.8zM66.8 254.6h.8v.8h-.8zM65.5 255.1h.8v.8h-.8zM63.9 253.2h.8v.8h-.8zM64.3 256.2h.8v.8h-.8zM67.9 249.0h.8v.8h-.8zM64.9 257.5h.8v.8h-.8zM64.1 250.5h.8v.8h-.8zM67.7 254.5h.8v.8h-.8zM65.6 250.6h.8v.8h-.8zM66.4 252.9h.8v.8h-.8zM66.0 255.9h.8v.8h-.8zM67.3 253.8h.8v.8h-.8zM64.8 254.5h.8v.8h-.8zM65.5 255.0h.8v.8h-.8zM65.0 253.6h.8v.8h-.8zM65.1 252.5h.8v.8h-.8zM65.5 258.1h.8v.8h-.8zM64.5 256.2h.8v.8h-.8zM66.4 255.0h.8v.8h-.8zM67.4 253.0h.8v.8h-.8zM66.7 255.6h.8v.8h-.8zM59.2 254.5h.8v.8h-.8zM65.8 260.7h.8v.8h-.8zM63.8 254.5h.8v.8h-.8zM67.0 251.7h.8v.8h-.8zM67.8 256.3h.8v.8h-.8zM65.0 250.6h.8v.8h-.8zM63.8 261.7h.8v.8h-.8zM71.1 247.6h.8v.8h-.8zM62.1 256.0h.8v.8h-.8zM66.0 252.5h.8v.8h-.8zM66.9 255.0h.8v.8h-.8zM66.2 255.4h.8v.8h-.8zM63.1 258.2h.8v.8h-.8zM64.4 257.9h.8v.8h-.8zM67.1 254.9h.8v.8h-.8zM66.1 254.4h.8v.8h-.8zM62.6 252.9h.8v.8h-.8zM67.5 249.7h.8v.8h-.8zM62.5 257.4h.8v.8h-.8zM68.1 250.0h.8v.8h-.8zM66.7 254.5h.8v.8h-.8zM67.8 253.8h.8v.8h-.8zM65.8 252.1h.8v.8h-.8zM66.2 254.2h.8v.8h-.8zM64.8 253.2h.8v.8h-.8zM64.1 256.2h.8v.8h-.8zM64.8 249.4h.8v.8h-.8zM63.4 257.6h.8v.8h-.8zM64.5 256.4h.8v.8h-.8zM67.4 253.2h.8v.8h-.8zM66.9 256.3h.8v.8h-.8zM66.1 252.3h.8v.8h-.8zM66.4 250.5h.8v.8h-.8zM65.6 252.6h.8v.8h-.8zM66.4 255.7h.8v.8h-.8zM64.2 257.0h.8v.8h-.8zM68.0 255.1h.8v.8h-.8zM64.2 255.8h.8v.8h-.8zM61.6 251.9h.8v.8h-.8zM65.8 260.9h.8v.8h-.8zM63.6 259.0h.8v.8h-.8zM69.1 261.1h.8v.8h-.8zM60.9 257.2h.8v.8h-.8zM65.6 257.7h.8v.8h-.8zM65.8 252.5h.8v.8h-.8zM64.6 259.1h.8v.8h-.8zM67.5 253.9h.8v.8h-.8zM66.0 257.3h.8v.8h-.8zM66.9 254.6h.8v.8h-.8zM65.0 252.0h.8v.8h-.8zM65.3 252.6h.8v.8h-.8zM63.7 249.6h.8v.8h-.8zM68.0 251.3h.8v.8h-.8zM63.4 253.9h.8v.8h-.8zM67.8 258.9h.8v.8h-.8zM65.6 251.1h.8v.8h-.8zM65.3 251.5h.8v.8h-.8z"/>
<path fill="#e41010" fill-opacity="0.5" d="M37.5 263.3h.8v.8h-.8zM17.7 277.0h.8v.8h-.8zM43.2 263.3h.8v.8h-.8zM31.6 279.0h.8v.8h-.8zM25.1 268.9h.8v.8h-.8zM29.8 273.6h.8v.8h-.8zM25.2 281.3h.8v.8h-.8zM36.1 277.1h.8v.8h-.8zM35.0 260.2h.8v.8h-.8zM36.1 265.6h.8v.8h-.8zM37.1 269.0h.8v.8h-.8zM35.1 273.5h.8v.8h-.8zM41.6 280.4h.8v.8h-.8zM31.0 274.9h.8v.8h-.8zM45.8 278.5h.8v.8h-.8zM32.6 274.2h.8v.8h-.8zM34.9 281.6h.8v.8h-.8zM37.2 277.6h.8v.8h-.8zM50.3 265.4h.8v.8h-.8zM30.9 262.9h.8v.8h-.8zM27.4 281.0h.8v.8h-.8zM38.8 286.4h.8v.8h-.8zM25.2 268.8h.8v.8h-.8zM45.7 282.2h.8v.8h-.8zM42.3 281.1h.8v.8h-.8zM37.2 274.9h.8v.8h-.8zM37.2 280.9h.8v.8h-.8zM36.0 277.2h.8v.8h-.8zM45.7 267.1h.8v.8h-.8zM32.5 279.0h.8v.8h-.8zM35.4 273.9h.8v.8h-.8zM49.6 277.9h.8v.8h-.8zM34.5 282.7h.8v.8h-.8zM52.1 267.2h.8v.8h-.8zM33.0 275.8h.8v.8h-.8zM33.2 290.2h.8v.8h-.8zM40.2 272.2h.8v.8h-.8zM39.9 269.4h.8v.8h-.8zM33.4 275.7h.8v.8h-.8zM51.3 259.2h.8v.8h-.8zM39.5 284.5h.8v.8h-.8zM41.4 288.5h.8v.8h-.8zM39.7 276.0h.8v.8h-.8zM36.2 269.0h.8v.8h-.8zM46.8 266.7h.8v.8h-.8zM36.3 271.3h.8v.8h-.8zM32.3 259.4h.8v.8h-.8zM34.7 276.0h.8v.8h-.8zM37.9 280.9h.8v.8h-.8zM36.0 270.5h.8v.8h-.8zM38.8 279.7h.8v.8h-.8zM31.6 264.4h.8v.8h-.8zM30.8 282.4h.8v.8h-.8zM43.0 268.8h.8v.8h-.8zM37.7 280.9h.8v.8h-.8zM45.0 270.4h.8v.8h-.8zM35.6 284.9h.8v.8h-.8zM51.5 285.7h.8v.8h-.8zM30.2 278.1h.8v.8h-.8zM35.2 274.6h.8v.8h-.8zM33.0 271.6h.8v.8h-.8zM36.9 287.6h.8v.8h-.8zM41.2 278.0h.8v.8h-.8zM37.2 269.7h.8v.8h-.8zM35.6 283.7h.8v.8h-.8zM42.0 288.7h.8v.8h-.8zM38.6 274.9h.8v.8h-.8zM27.3 277.8h.8v.8h-.8zM26.7 285.7h.8v.8h-.8zM33.2 275.0h.8v.8h-.8zM28.9 271.5h.8v.8h-.8zM31.4 282.9h.8v.8h-.8zM38.5 266.7h.8v.8h-.8zM25.4 274.5h.8v.8h-.8zM34.1 267.2h.8v.8h-.8zM40.5 273.7h.8v.8h-.8zM37.7 270.9h.8v.8h-.8zM33.6 271.8h.8v.8h-.8zM27.4 279.4h.8v.8h-.8zM39.4 262.9h.8v.8h-.8zM37.6 283.1h.8v.8h-.8zM38.4 284.1h.8v.8h-.8zM35.4 275.0h.8v.8h-.8zM29.2 268.7h.8v.8h-.8zM26.1 268.7h.8v.8h-.8zM38.5 278.6h.8v.8h-.8zM44.0 275.9h.8v.8h-.8zM31.1 278.0h.8v.8h-.8zM36.1 287.5h.8v.8h-.8zM48.8 281.7h.8v.8h-.8zM30.2 271.3h.8v.8h-.8zM38.1 270.0h.8v.8h-.8zM40.1 279.8h.8v.8h-.8zM42.0 276.6h.8v.8h-.8zM31.7 269.1h.8v.8h-.8zM36.3 284.3h.8v.8h-.8zM46.4 281.8h.8v.8h-.8zM39.2 279.7h.8v.8h-.8zM41.9 284.0h.8v.8h-.8zM42.1 264.3h.8v.8h-.8zM42.7 277.7h.8v.8h-.8zM34.2 278.7h.8v.8h-.8zM38.7 274.6h.8v.8h-.8zM26.9 275.8h.8v.8h-.8zM40.3 274.7h.8v.8h-.8zM27.5 278.2h.8v.8h-.8zM41.3 276.3h.8v.8h-.8zM39.6 272.5h.8v.8h-.8zM33.1 278.7h.8v.8h-.8zM34.9 276.3h.8v.8h-.8zM56.5 280.0h.8v.8h-.8zM37.8 263.6h.8v.8h-.8zM37.6 280.3h.8v.8h-.8zM32.8 273.3h.8v.8h-.8zM23.5 278.9h.8v.8h-.8zM33.4 279.8h.8v.8h-.8zM45.2 273.9h.8v.8h-.8zM42.9 276.8h.8v.8h-.8zM35.8 273.0h.8v.8h-.8zM31.9 284.0h.8v.8h-.8zM64.4 264.9h.8v.8h-.8zM62.8 257.4h.8v.8h-.8zM65.2 261.9h.8v.8h-.8zM63.7 257.3h.8v.8h-.8zM62.6 257.5h.8v.8h-.8zM67.6 260.6h.8v.8h-.8zM56.7 265.7h.8v.8h-.8zM65.8 256.8h.8v.8h-.8zM65.2 244.0h.8v.8h-.8zM61.1 269.0h.8v.8h-.8zM72.4 275.0h.8v.8h-.8zM63.8 262.2h.8v.8h-.8zM68.3 254.7h.8v.8h-.8zM71.2 257.7h.8v.8h-.8zM67.1 255.1h.8v.8h-.8zM67.1 261.9h.8v.8h-.8zM69.2 255.1h.8v.8h-.8zM66.0 272.9h.8v.8h-.8zM62.4 264.1h.8v.8h-.8zM67.3 259.0h.8v.8h-.8zM65.2 270.5h.8v.8h-.8zM69.4 265.4h.8v.8h-.8zM66.8 255.2h.8v.8h-.8zM66.3 272.7h.8v.8h-.8zM69.2 253.9h.8v.8h-.8zM59.8 258.0h.8v.8h-.8zM66.5 258.7h.8v.8h-.8zM65.1 264.1h.8v.8h-.8zM68.7 263.3h.8v.8h-.8zM69.8 253.5h.8v.8h-.8zM67.4 264.6h.8v.8h-.8zM61.5 269.5h.8v.8h-.8zM61.2 253.3h.8v.8h-.8zM74.0 269.8h.8v.8h-.8zM67.1 270.1h.8v.8h-.8zM69.5 255.2h.8v.8h-.8zM67.5 270.4h.8v.8h-.8zM65.5 262.4h.8v.8h-.8zM64.6 266.4h.8v.8h-.8zM64.3 258.5h.8v.8h-.8zM62.3 256.4h.8v.8h-.8zM66.7 264.8h.8v.8h-.8zM64.8 255.7h.8v.8h-.8zM67.0 264.2h.8v.8h-.8zM69.8 259.0h.8v.8h-.8zM64.8 265.1h.8v.8h-.8zM70.6 261.7h.8v.8h-.8zM65.8 256.3h.8v.8h-.8zM64.9 267.7h.8v.8h-.8zM68.6 268.7h.8v.8h-.8zM61.1 267.1h.8v.8h-.8zM63.2 265.6h.8v.8h-.8zM58.9 261.4h.8v.8h-.8zM63.3 269.7h.8v.8h-.8zM66.4 269.9h.8v.8h-.8zM64.7 273.9h.8v.8h-.8zM64.7 273.5h.8v.8h-.8zM64.5 256.1h.8v.8h-.8zM68.7 259.6h.8v.8h-.8zM65.8 253.9h.8v.8h-.8zM65.0 262.7h.8v.8h-.8zM63.9 264.4h.8v.8h-.8zM59.1 267.4h.8v.8h-.8zM64.8 270.9h.8v.8h-.8zM64.9 258.0h.8v.8h-.8zM64.6 263.7h.8v.8h-.8zM67.8 259.2h.8v.8h-.8zM63.6 264.6h.8v.8h-.8zM68.5 251.4h.8v.8h-.8zM62.8 257.9h.8v.8h-.8z"/>
<path fill="#e41010" fill-opacity="0.25" d="M82.6 274.5h.8v.8h-.8zM67.9 267.0h.8v.8h-.8zM36.9 273.4h.8v.8h-.8zM47.9 254.0h.8v.8h-.8zM86.3 247.4h.8v.8h-.8zM77.4 264.1h.8v.8h-.8zM40.1 263.8h.8v.8h-.8zM41.4 263.9h.8v.8h-.8zM44.6 250.0h.8v.8h-.8zM98.1 256.9h.8v.8h-.8zM71.0 261.5h.8v.8h-.8zM66.0 249.2h.8v.8h-.8zM38.2 228.9h.8v.8h-.8zM71.3 266.5h.8v.8h-.8zM36.0 270.5h.8v.8h-.8zM64.7 291.7h.8v.8h-.8zM58.9 271.3h.8v.8h-.8zM65.0 269.8h.8v.8h-.8zM54.7 257.8h.8v.8h-.8zM66.6 274.5h.8v.8h-.8zM36.1 250.5h.8v.8h-.8zM54.4 280.3h.8v.8h-.8zM51.7 244.8h.8v.8h-.8zM68.1 269.7h.8v.8h-.8zM86.6 264.0h.8v.8h-.8zM87.0 254.7h.8v.8h-.8zM69.7 263.4h.8v.8h-.8zM35.7 259.2h.8v.8h-.8zM76.6 273.4h.8v.8h-.8zM48.9 273.3h.8v.8h-.8zM69.7 271.1h.8v.8h-.8zM59.7 265.1h.8v.8h-.8zM41.7 261.4h.8v.8h-.8zM57.1 254.6h.8v.8h-.8zM50.4 263.7h.8v.8h-.8zM58.5 272.7h.8v.8h-.8zM38.4 258.0h.8v.8h-.8zM59.4 258.2h.8v.8h-.8zM60.5 257.3h.8v.8h-.8zM74.2 259.7h.8v.8h-.8zM36.7 269.6h.8v.8h-.8zM82.0 242.6h.8v.8h-.8zM53.0 262.8h.8v.8h-.8zM71.8 277.2h.8v.8h-.8zM52.5 246.3h.8v.8h-.8zM65.9 272.2h.8v.8h-.8zM62.6 262.9h.8v.8h-.8zM41.9 286.7h.8v.8h-.8zM35.7 246.8h.8v.8h-.8zM70.9 265.0h.8v.8h-.8zM66.0 265.7h.8v.8h-.8zM82.4 276.5h.8v.8h-.8zM46.2 272.2h.8v.8h-.8zM36.1 244.8h.8v.8h-.8zM74.6 257.7h.8v.8h-.8zM20.4 261.9h.8v.8h-.8zM44.4 267.2h.8v.8h-.8zM54.2 254.3h.8v.8h-.8zM43.6 269.8h.8v.8h-.8zM40.1 263.4h.8v.8h-.8zM39.1 266.6h.8v.8h-.8zM83.9 267.8h.8v.8h-.8zM73.1 266.6h.8v.8h-.8zM39.6 259.0h.8v.8h-.8zM56.2 266.5h.8v.8h-.8zM45.4 268.3h.8v.8h-.8zM43.5 262.7h.8v.8h-.8zM54.9 250.4h.8v.8h-.8zM71.3 262.6h.8v.8h-.8zM56.9 261.7h.8v.8h-.8z"/>
</g>
<line x1="29.80" y1="242.60" x2="88.00" y2="242.60" stroke="#999" stroke-width="0.6" />
<line x1="88.00" y1="242.60" x2="88.00" y2="287.50" stroke="#aaa" stroke-width="0.6" />
<line x1="46.20" y1="242.60" x2="46.20" y2="287.50" stroke="#666" stroke-width="0.7" />
<line x1="29.80" y1="272.70" x2="88.00" y2="272.70" stroke="#666" stroke-width="0.7" />
<line x1="29.80" y1="242.30" x2="29.80" y2="287.50" stroke="#444" stroke-width="0.7" />
<line x1="29.80" y1="287.50" x2="88.00" y2="287.50" stroke="#444" stroke-width="0.7" />
<line x1="28.60" y1="287.50" x2="29.80" y2="287.50" stroke="#555" stroke-width="0.4" />
<text x="27.20" y="288.50" font-family='"Liberation Sans", sans-serif' font-size="2.8" font-weight="normal" font-style="normal" text-anchor="middle" fill="#777" >0</text>
<line x1="29.80" y1="287.50" x2="29.80" y2="288.70" stroke="#555" stroke-width="0.4" />
<text x="29.80" y="291.10" font-family='"Liberation Sans", sans-serif' font-size="2.8" font-weight="normal" font-style="normal" text-anchor="middle" fill="#777" >0</text>
<line x1="28.60" y1="276.27" x2="29.80" y2="276.27" stroke="#555" stroke-width="0.4" />
<text x="27.20" y="277.27" font-family='"Liberation Sans", sans-serif' font-size="2.8" font-weight="normal" font-style="normal" text-anchor="middle" fill="#777" >1</text>
<line x1="44.35" y1="287.50" x2="44.35" y2="288.70" stroke="#555" stroke-width="0.4" />
<text x="44.35" y="291.10" font-family='"Liberation Sans", sans-serif' font-size="2.8" font-weight="normal" font-style="normal" text-anchor="middle" fill="#777" >1</text>
<line x1="28.60" y1="265.05" x2="29.80" y2="265.05" stroke="#555" stroke-width="0.4" />
<text x="27.20" y="266.05" font-family='"Liberation Sans", sans-serif' font-size="2.8" font-weight="normal" font-style="normal" text-anchor="middle" fill="#777" >2</text>
<line x1="58.90" y1="287.50" x2="58.90" y2="288.70" stroke="#555" stroke-width="0.4" />
<text x="58.90" y="291.10" font-family='"Liberation Sans", sans-serif' font-size="2.8" font-weight="normal" font-style="normal" text-anchor="middle" fill="#777" >2</text>
<line x1="28.60" y1="253.82" x2="29.80" y2="253.82" stroke="#555" stroke-width="0.4" />
<text x="27.20" y="254.82" font-family='"Liberation Sans", sans-serif' font-size="2.8" font-weight="normal" font-style="normal" text-anchor="middle" fill="#777" >3</text>
<line x1="73.45" y1="287.50" x2="73.45" y2="288.70" stroke="#555" stroke-width="0.4" />
<text x="73.45" y="291.10" font-family='"Liberation Sans", sans-serif' font-size="2.8" font-weight="normal" font-style="normal" text-anchor="middle" fill="#777" >3</text>
<line x1="28.60" y1="242.60" x2="29.80" y2="242.60" stroke="#555" stroke-width="0.4" />
<text x="27.20" y="243.60" font-family='"Liberation Sans", sans-serif' font-size="2.8" font-weight="normal" font-style="normal" text-anchor="middle" fill="#777" >4</text>
<line x1="88.00" y1="287.50" x2="88.00" y2="288.70" stroke="#555" stroke-width="0.4" />
<text x="88.00" y="291.10" font-family='"Liberation Sans", sans-serif' font-size="2.8" font-weight="normal" font-style="normal" text-anchor="middle" fill="#777" >4</text>
<rect x="108.5" y="242.6" width="58.5" height="44.20000000000002" fill="#fff"/>
<g clip-path="url(#fc12)">
<ellipse cx="112.8" cy="275.5" rx="2.88" ry="4.75" fill="#e80808" fill-opacity="0.9" filter="url(#b1)" transform="rotate(20 112.8 275.5)"/>
<ellipse cx="121.0" cy="260.8" rx="3.25" ry="2.38" fill="#e80808" fill-opacity="0.9" filter="url(#b1)"/>
<ellipse cx="137.6" cy="257.0" rx="2.62" ry="4.25" fill="#e80808" fill-opacity="0.9" filter="url(#b1)"/>
<path fill="#e41010" fill-opacity="0.9" d="M109.4 275.2h.8v.8h-.8zM112.8 273.6h.8v.8h-.8zM114.8 276.5h.8v.8h-.8zM109.9 281.7h.8v.8h-.8zM113.4 270.6h.8v.8h-.8zM110.5 272.5h.8v.8h-.8zM113.1 279.1h.8v.8h-.8zM112.9 283.0h.8v.8h-.8zM115.7 279.2h.8v.8h-.8zM114.8 279.0h.8v.8h-.8zM110.5 278.2h.8v.8h-.8zM113.2 275.0h.8v.8h-.8zM116.2 280.1h.8v.8h-.8zM111.9 275.1h.8v.8h-.8zM118.3 276.7h.8v.8h-.8zM113.6 278.6h.8v.8h-.8zM113.2 278.3h.8v.8h-.8zM112.4 273.7h.8v.8h-.8zM113.0 274.3h.8v.8h-.8zM112.6 282.0h.8v.8h-.8zM110.2 277.0h.8v.8h-.8zM111.6 272.5h.8v.8h-.8zM112.2 275.9h.8v.8h-.8zM115.3 266.0h.8v.8h-.8zM116.2 275.9h.8v.8h-.8zM110.6 277.7h.8v.8h-.8zM113.4 270.1h.8v.8h-.8zM113.4 277.6h.8v.8h-.8zM109.9 278.1h.8v.8h-.8zM115.2 271.9h.8v.8h-.8zM116.3 278.1h.8v.8h-.8zM109.8 276.5h.8v.8h-.8zM111.8 279.4h.8v.8h-.8zM108.5 278.4h.8v.8h-.8zM114.0 279.0h.8v.8h-.8zM112.5 281.0h.8v.8h-.8zM114.3 276.8h.8v.8h-.8zM109.5 279.1h.8v.8h-.8zM114.6 277.6h.8v.8h-.8zM112.2 278.5h.8v.8h-.8zM106.9 274.9h.8v.8h-.8zM107.1 274.6h.8v.8h-.8zM112.7 283.4h.8v.8h-.8zM111.2 276.9h.8v.8h-.8zM115.6 267.6h.8v.8h-.8zM114.5 276.2h.8v.8h-.8zM114.2 272.4h.8v.8h-.8zM112.6 276.0h.8v.8h-.8zM115.3 277.8h.8v.8h-.8zM121.0 277.0h.8v.8h-.8zM112.3 275.3h.8v.8h-.8zM109.1 280.5h.8v.8h-.8zM115.9 271.6h.8v.8h-.8zM111.6 280.0h.8v.8h-.8zM109.5 275.1h.8v.8h-.8zM109.2 284.0h.8v.8h-.8zM114.3 274.6h.8v.8h-.8zM109.1 282.1h.8v.8h-.8zM108.8 283.6h.8v.8h-.8zM109.7 273.8h.8v.8h-.8zM113.2 273.0h.8v.8h-.8zM111.5 278.0h.8v.8h-.8zM113.3 270.0h.8v.8h-.8zM113.9 282.1h.8v.8h-.8zM110.9 276.3h.8v.8h-.8zM105.8 277.4h.8v.8h-.8zM110.7 272.6h.8v.8h-.8zM119.2 272.9h.8v.8h-.8zM114.3 271.8h.8v.8h-.8zM110.3 270.0h.8v.8h-.8zM115.2 271.2h.8v.8h-.8zM110.6 277.9h.8v.8h-.8zM114.2 270.8h.8v.8h-.8zM116.0 277.3h.8v.8h-.8zM117.3 273.0h.8v.8h-.8zM118.3 272.2h.8v.8h-.8zM109.6 272.8h.8v.8h-.8zM111.7 276.4h.8v.8h-.8zM110.8 277.6h.8v.8h-.8zM116.6 274.4h.8v.8h-.8zM110.4 273.2h.8v.8h-.8zM113.6 279.3h.8v.8h-.8zM113.4 271.9h.8v.8h-.8zM111.5 279.2h.8v.8h-.8zM109.6 279.8h.8v.8h-.8zM113.0 276.9h.8v.8h-.8zM109.7 280.1h.8v.8h-.8zM114.9 270.3h.8v.8h-.8zM115.2 274.8h.8v.8h-.8zM115.0 277.2h.8v.8h-.8zM111.2 275.8h.8v.8h-.8zM112.9 272.3h.8v.8h-.8zM111.8 278.7h.8v.8h-.8zM113.1 275.4h.8v.8h-.8zM110.9 277.3h.8v.8h-.8zM112.2 279.4h.8v.8h-.8zM110.8 283.7h.8v.8h-.8zM109.5 274.2h.8v.8h-.8zM112.8 279.4h.8v.8h-.8zM111.1 270.1h.8v.8h-.8zM111.4 279.5h.8v.8h-.8zM117.2 271.1h.8v.8h-.8zM111.6 280.0h.8v.8h-.8zM114.3 272.0h.8v.8h-.8zM113.0 270.3h.8v.8h-.8zM115.8 275.7h.8v.8h-.8zM113.0 272.2h.8v.8h-.8zM113.7 272.3h.8v.8h-.8zM110.8 274.8h.8v.8h-.8zM111.7 277.2h.8v.8h-.8zM111.6 280.1h.8v.8h-.8zM112.4 276.6h.8v.8h-.8zM114.4 272.9h.8v.8h-.8zM116.2 274.6h.8v.8h-.8zM107.7 278.9h.8v.8h-.8zM115.0 274.2h.8v.8h-.8zM113.7 279.9h.8v.8h-.8zM115.9 272.0h.8v.8h-.8zM114.6 272.1h.8v.8h-.8zM112.2 273.2h.8v.8h-.8zM110.3 276.8h.8v.8h-.8zM110.3 277.3h.8v.8h-.8zM114.0 273.6h.8v.8h-.8zM112.3 278.3h.8v.8h-.8zM115.7 275.7h.8v.8h-.8zM115.9 279.1h.8v.8h-.8zM117.3 271.8h.8v.8h-.8zM108.9 279.2h.8v.8h-.8zM111.7 277.2h.8v.8h-.8zM117.4 271.4h.8v.8h-.8zM111.3 283.0h.8v.8h-.8zM114.5 276.6h.8v.8h-.8zM114.1 276.2h.8v.8h-.8zM112.8 281.0h.8v.8h-.8zM111.6 277.6h.8v.8h-.8zM112.5 278.6h.8v.8h-.8zM116.1 272.5h.8v.8h-.8zM114.2 279.7h.8v.8h-.8zM110.8 273.8h.8v.8h-.8zM110.0 273.5h.8v.8h-.8zM115.1 271.8h.8v.8h-.8zM112.3 271.9h.8v.8h-.8zM112.3 272.3h.8v.8h-.8zM109.8 276.9h.8v.8h-.8zM113.4 272.5h.8v.8h-.8zM115.7 274.4h.8v.8h-.8zM116.4 271.9h.8v.8h-.8zM116.5 275.2h.8v.8h-.8zM110.2 276.4h.8v.8h-.8zM111.3 270.7h.8v.8h-.8zM114.0 274.1h.8v.8h-.8zM113.5 276.5h.8v.8h-.8zM113.2 276.3h.8v.8h-.8zM114.4 276.2h.8v.8h-.8zM114.0 279.9h.8v.8h-.8zM110.9 267.8h.8v.8h-.8zM116.8 275.3h.8v.8h-.8zM113.4 275.4h.8v.8h-.8zM110.5 283.8h.8v.8h-.8zM111.2 275.3h.8v.8h-.8zM114.3 271.8h.8v.8h-.8zM111.3 274.0h.8v.8h-.8zM112.3 277.0h.8v.8h-.8zM110.6 268.5h.8v.8h-.8zM116.7 276.3h.8v.8h-.8zM115.2 274.8h.8v.8h-.8zM108.5 282.7h.8v.8h-.8zM111.3 271.4h.8v.8h-.8zM114.3 276.3h.8v.8h-.8zM109.1 274.9h.8v.8h-.8zM116.4 270.8h.8v.8h-.8zM110.6 278.0h.8v.8h-.8zM120.0 268.8h.8v.8h-.8zM111.3 275.2h.8v.8h-.8zM112.0 271.7h.8v.8h-.8zM111.1 277.1h.8v.8h-.8zM109.4 277.9h.8v.8h-.8zM113.5 279.4h.8v.8h-.8zM116.8 275.0h.8v.8h-.8zM111.4 279.2h.8v.8h-.8zM114.4 280.0h.8v.8h-.8zM112.5 273.6h.8v.8h-.8zM110.5 273.1h.8v.8h-.8zM111.5 273.2h.8v.8h-.8zM110.9 278.3h.8v.8h-.8zM114.8 276.2h.8v.8h-.8zM110.4 274.6h.8v.8h-.8zM112.7 279.1h.8v.8h-.8zM112.2 278.7h.8v.8h-.8zM110.6 277.5h.8v.8h-.8zM114.9 275.0h.8v.8h-.8zM109.6 279.5h.8v.8h-.8zM109.8 277.3h.8v.8h-.8zM112.7 274.2h.8v.8h-.8zM112.9 273.9h.8v.8h-.8zM110.4 282.0h.8v.8h-.8zM116.2 276.3h.8v.8h-.8zM112.7 279.3h.8v.8h-.8zM109.5 281.9h.8v.8h-.8zM112.1 277.9h.8v.8h-.8zM112.2 270.9h.8v.8h-.8zM111.5 272.6h.8v.8h-.8zM115.5 275.3h.8v.8h-.8zM115.3 274.9h.8v.8h-.8zM110.5 275.5h.8v.8h-.8zM114.1 269.4h.8v.8h-.8zM111.4 279.9h.8v.8h-.8zM113.9 271.2h.8v.8h-.8zM112.8 270.7h.8v.8h-.8zM113.5 272.1h.8v.8h-.8zM112.4 276.2h.8v.8h-.8zM117.2 272.6h.8v.8h-.8zM106.3 279.9h.8v.8h-.8zM114.2 274.7h.8v.8h-.8zM115.1 272.7h.8v.8h-.8zM111.2 277.8h.8v.8h-.8zM112.0 275.9h.8v.8h-.8zM113.6 276.4h.8v.8h-.8zM111.6 277.3h.8v.8h-.8zM114.0 281.2h.8v.8h-.8zM109.9 277.7h.8v.8h-.8zM110.6 269.1h.8v.8h-.8zM113.0 277.9h.8v.8h-.8zM118.0 270.6h.8v.8h-.8zM115.9 274.6h.8v.8h-.8zM111.2 276.9h.8v.8h-.8zM117.1 273.4h.8v.8h-.8zM109.9 272.2h.8v.8h-.8zM111.0 279.8h.8v.8h-.8zM114.0 274.9h.8v.8h-.8zM112.3 273.6h.8v.8h-.8zM117.1 270.5h.8v.8h-.8zM112.5 272.0h.8v.8h-.8zM115.1 277.0h.8v.8h-.8zM110.4 277.8h.8v.8h-.8zM115.7 280.8h.8v.8h-.8zM110.3 273.9h.8v.8h-.8zM117.6 270.1h.8v.8h-.8zM110.7 273.2h.8v.8h-.8zM115.0 273.1h.8v.8h-.8zM113.4 275.2h.8v.8h-.8zM115.1 271.6h.8v.8h-.8zM110.8 266.2h.8v.8h-.8zM111.9 279.2h.8v.8h-.8zM115.9 270.3h.8v.8h-.8zM109.4 273.2h.8v.8h-.8zM113.2 268.3h.8v.8h-.8zM112.6 272.3h.8v.8h-.8zM112.1 276.9h.8v.8h-.8zM113.0 276.4h.8v.8h-.8zM114.1 275.6h.8v.8h-.8zM112.3 274.0h.8v.8h-.8zM115.7 275.5h.8v.8h-.8zM112.4 282.1h.8v.8h-.8zM119.4 269.3h.8v.8h-.8zM111.9 279.2h.8v.8h-.8zM112.8 272.7h.8v.8h-.8zM110.6 272.1h.8v.8h-.8zM115.3 268.9h.8v.8h-.8zM113.9 272.6h.8v.8h-.8zM121.1 258.8h.8v.8h-.8zM121.3 261.1h.8v.8h-.8zM119.2 259.6h.8v.8h-.8zM123.5 262.0h.8v.8h-.8zM119.0 261.7h.8v.8h-.8zM118.0 259.8h.8v.8h-.8zM113.5 259.8h.8v.8h-.8zM122.8 259.9h.8v.8h-.8zM122.6 259.6h.8v.8h-.8zM121.8 260.5h.8v.8h-.8zM118.5 264.8h.8v.8h-.8zM118.8 258.3h.8v.8h-.8zM121.4 261.7h.8v.8h-.8zM121.9 260.6h.8v.8h-.8zM122.2 262.6h.8v.8h-.8zM122.7 258.2h.8v.8h-.8zM125.5 260.8h.8v.8h-.8zM115.7 262.4h.8v.8h-.8zM120.7 261.4h.8v.8h-.8zM126.2 259.8h.8v.8h-.8zM119.4 259.0h.8v.8h-.8zM121.5 262.1h.8v.8h-.8zM122.1 261.1h.8v.8h-.8zM115.5 261.3h.8v.8h-.8zM123.8 259.9h.8v.8h-.8zM119.6 258.9h.8v.8h-.8zM121.7 257.9h.8v.8h-.8zM126.0 260.5h.8v.8h-.8zM119.5 258.5h.8v.8h-.8zM122.4 262.7h.8v.8h-.8zM119.6 261.2h.8v.8h-.8zM121.8 262.7h.8v.8h-.8zM122.6 263.2h.8v.8h-.8zM117.4 265.8h.8v.8h-.8zM119.7 258.7h.8v.8h-.8zM118.6 261.6h.8v.8h-.8zM123.0 265.4h.8v.8h-.8zM124.2 259.4h.8v.8h-.8zM120.1 259.9h.8v.8h-.8zM119.5 260.5h.8v.8h-.8zM119.4 263.1h.8v.8h-.8zM121.9 262.0h.8v.8h-.8zM120.6 258.6h.8v.8h-.8zM122.2 260.1h.8v.8h-.8zM126.2 263.2h.8v.8h-.8zM117.9 259.0h.8v.8h-.8zM119.6 260.4h.8v.8h-.8zM124.0 260.5h.8v.8h-.8zM122.2 260.2h.8v.8h-.8zM120.5 263.2h.8v.8h-.8zM121.1 264.6h.8v.8h-.8zM120.9 261.6h.8v.8h-.8zM122.1 262.1h.8v.8h-.8zM126.1 259.5h.8v.8h-.8zM119.7 259.0h.8v.8h-.8zM125.7 261.7h.8v.8h-.8zM122.2 261.7h.8v.8h-.8zM116.2 262.3h.8v.8h-.8zM121.4 261.4h.8v.8h-.8zM121.3 260.7h.8v.8h-.8zM120.9 259.8h.8v.8h-.8zM120.5 262.0h.8v.8h-.8zM115.6 262.4h.8v.8h-.8zM122.7 258.8h.8v.8h-.8zM122.4 261.4h.8v.8h-.8zM119.7 264.0h.8v.8h-.8zM121.5 260.6h.8v.8h-.8zM117.7 265.0h.8v.8h-.8zM121.6 261.4h.8v.8h-.8zM120.5 264.8h.8v.8h-.8zM120.7 263.8h.8v.8h-.8zM123.8 262.7h.8v.8h-.8zM122.7 263.0h.8v.8h-.8zM120.7 256.9h.8v.8h-.8zM114.1 263.0h.8v.8h-.8zM115.7 263.4h.8v.8h-.8zM129.1 257.3h.8v.8h-.8zM122.6 261.7h.8v.8h-.8zM119.2 257.1h.8v.8h-.8zM120.8 264.0h.8v.8h-.8zM120.8 260.8h.8v.8h-.8zM121.3 260.9h.8v.8h-.8zM121.8 265.2h.8v.8h-.8zM118.8 257.4h.8v.8h-.8zM123.2 259.8h.8v.8h-.8zM119.7 258.2h.8v.8h-.8zM120.6 260.0h.8v.8h-.8zM122.2 260.1h.8v.8h-.8zM117.3 261.8h.8v.8h-.8zM120.8 257.2h.8v.8h-.8zM120.2 262.3h.8v.8h-.8zM120.9 260.2h.8v.8h-.8zM122.6 259.6h.8v.8h-.8zM119.2 261.8h.8v.8h-.8zM120.6 259.7h.8v.8h-.8zM121.6 261.3h.8v.8h-.8zM123.5 262.7h.8v.8h-.8zM121.3 260.8h.8v.8h-.8zM118.6 261.2h.8v.8h-.8zM120.1 262.4h.8v.8h-.8zM123.1 262.1h.8v.8h-.8zM120.9 261.5h.8v.8h-.8zM124.9 264.1h.8v.8h-.8zM119.5 255.5h.8v.8h-.8zM122.7 257.9h.8v.8h-.8zM121.2 261.7h.8v.8h-.8zM124.9 260.5h.8v.8h-.8zM120.8 259.8h.8v.8h-.8zM121.8 258.5h.8v.8h-.8zM122.5 261.5h.8v.8h-.8zM124.6 260.3h.8v.8h-.8zM121.9 261.2h.8v.8h-.8zM121.0 259.0h.8v.8h-.8zM119.6 260.9h.8v.8h-.8zM122.3 262.8h.8v.8h-.8zM119.5 261.3h.8v.8h-.8zM122.6 262.5h.8v.8h-.8zM121.7 261.2h.8v.8h-.8zM120.2 260.9h.8v.8h-.8zM120.6 257.6h.8v.8h-.8zM119.2 256.3h.8v.8h-.8zM122.4 262.5h.8v.8h-.8zM120.1 261.2h.8v.8h-.8zM121.5 260.4h.8v.8h-.8zM124.9 260.5h.8v.8h-.8zM121.9 260.7h.8v.8h-.8zM126.3 257.8h.8v.8h-.8zM121.6 258.3h.8v.8h-.8zM119.2 259.1h.8v.8h-.8zM123.1 258.8h.8v.8h-.8zM118.5 260.2h.8v.8h-.8zM118.6 259.0h.8v.8h-.8zM125.2 259.6h.8v.8h-.8zM119.0 263.5h.8v.8h-.8zM121.3 263.0h.8v.8h-.8zM116.9 260.3h.8v.8h-.8zM122.3 261.3h.8v.8h-.8zM122.5 263.2h.8v.8h-.8zM122.6 262.9h.8v.8h-.8zM123.0 259.4h.8v.8h-.8zM121.6 263.3h.8v.8h-.8zM118.6 261.9h.8v.8h-.8zM122.7 263.4h.8v.8h-.8zM116.8 265.4h.8v.8h-.8zM117.1 260.9h.8v.8h-.8zM127.6 258.3h.8v.8h-.8zM126.9 261.4h.8v.8h-.8zM126.0 263.6h.8v.8h-.8zM121.5 259.4h.8v.8h-.8zM120.3 258.4h.8v.8h-.8zM117.5 261.6h.8v.8h-.8zM117.3 261.5h.8v.8h-.8zM120.9 260.6h.8v.8h-.8zM118.4 258.5h.8v.8h-.8zM123.2 259.0h.8v.8h-.8zM119.6 260.5h.8v.8h-.8zM122.8 264.6h.8v.8h-.8zM126.2 262.4h.8v.8h-.8zM122.8 262.1h.8v.8h-.8zM120.5 260.5h.8v.8h-.8zM116.6 261.9h.8v.8h-.8zM119.8 261.6h.8v.8h-.8zM126.9 262.5h.8v.8h-.8zM124.1 262.5h.8v.8h-.8zM119.6 259.6h.8v.8h-.8zM117.3 259.8h.8v.8h-.8zM121.5 262.2h.8v.8h-.8zM122.6 260.2h.8v.8h-.8zM118.1 260.9h.8v.8h-.8zM121.9 257.1h.8v.8h-.8zM121.3 258.1h.8v.8h-.8zM119.9 260.6h.8v.8h-.8zM118.5 259.9h.8v.8h-.8zM121.1 259.0h.8v.8h-.8zM122.8 262.1h.8v.8h-.8zM122.5 258.9h.8v.8h-.8zM120.6 260.2h.8v.8h-.8zM121.4 262.3h.8v.8h-.8zM119.7 260.9h.8v.8h-.8zM123.2 260.2h.8v.8h-.8zM139.2 257.0h.8v.8h-.8zM134.7 257.0h.8v.8h-.8zM138.0 255.7h.8v.8h-.8zM141.7 255.8h.8v.8h-.8zM134.6 256.6h.8v.8h-.8zM137.2 258.8h.8v.8h-.8zM142.9 257.6h.8v.8h-.8zM139.4 254.6h.8v.8h-.8zM135.7 254.7h.8v.8h-.8zM137.2 255.6h.8v.8h-.8zM137.6 254.9h.8v.8h-.8zM135.1 254.4h.8v.8h-.8zM139.3 253.2h.8v.8h-.8zM139.3 262.6h.8v.8h-.8zM135.7 260.1h.8v.8h-.8zM139.4 248.1h.8v.8h-.8zM139.4 259.3h.8v.8h-.8zM136.0 263.1h.8v.8h-.8zM133.9 261.5h.8v.8h-.8zM138.2 253.6h.8v.8h-.8zM137.9 251.9h.8v.8h-.8zM138.9 258.9h.8v.8h-.8zM140.2 261.8h.8v.8h-.8zM136.2 258.8h.8v.8h-.8zM136.3 247.2h.8v.8h-.8zM139.6 261.0h.8v.8h-.8zM138.1 263.0h.8v.8h-.8zM137.5 251.2h.8v.8h-.8zM136.7 256.1h.8v.8h-.8zM138.2 255.7h.8v.8h-.8zM132.9 252.9h.8v.8h-.8zM137.3 260.9h.8v.8h-.8zM136.2 252.6h.8v.8h-.8zM136.6 260.2h.8v.8h-.8zM140.2 253.7h.8v.8h-.8zM139.1 261.6h.8v.8h-.8zM139.3 253.3h.8v.8h-.8zM138.9 255.4h.8v.8h-.8zM136.6 263.6h.8v.8h-.8zM137.6 258.8h.8v.8h-.8zM140.2 262.6h.8v.8h-.8zM138.2 255.0h.8v.8h-.8zM137.5 254.7h.8v.8h-.8zM137.4 256.7h.8v.8h-.8zM134.5 254.4h.8v.8h-.8zM134.6 256.9h.8v.8h-.8zM139.3 259.5h.8v.8h-.8zM138.0 253.8h.8v.8h-.8zM137.5 252.4h.8v.8h-.8zM138.8 251.8h.8v.8h-.8zM136.3 262.9h.8v.8h-.8zM138.5 253.7h.8v.8h-.8zM137.2 253.6h.8v.8h-.8zM135.9 255.6h.8v.8h-.8zM135.8 257.7h.8v.8h-.8zM139.9 254.1h.8v.8h-.8zM135.7 254.3h.8v.8h-.8zM136.3 257.5h.8v.8h-.8zM136.2 254.1h.8v.8h-.8zM136.2 260.4h.8v.8h-.8zM139.7 260.6h.8v.8h-.8zM138.0 253.8h.8v.8h-.8zM140.5 264.6h.8v.8h-.8zM136.3 255.0h.8v.8h-.8zM139.9 259.4h.8v.8h-.8zM138.5 264.1h.8v.8h-.8zM137.2 254.3h.8v.8h-.8zM136.9 257.8h.8v.8h-.8zM138.0 261.3h.8v.8h-.8zM139.2 254.6h.8v.8h-.8zM139.2 256.4h.8v.8h-.8zM140.8 260.9h.8v.8h-.8zM136.4 258.9h.8v.8h-.8zM134.9 258.6h.8v.8h-.8zM137.8 258.6h.8v.8h-.8zM135.1 254.1h.8v.8h-.8zM136.4 256.3h.8v.8h-.8zM139.0 254.2h.8v.8h-.8zM133.4 255.2h.8v.8h-.8zM139.2 260.0h.8v.8h-.8zM134.9 259.2h.8v.8h-.8zM137.8 259.5h.8v.8h-.8zM138.0 261.3h.8v.8h-.8zM136.1 264.4h.8v.8h-.8zM139.9 253.0h.8v.8h-.8zM134.3 260.5h.8v.8h-.8zM134.3 254.3h.8v.8h-.8zM138.6 256.5h.8v.8h-.8zM137.9 249.7h.8v.8h-.8zM136.0 258.7h.8v.8h-.8zM142.0 258.4h.8v.8h-.8zM137.7 257.4h.8v.8h-.8zM139.7 259.2h.8v.8h-.8zM135.7 250.3h.8v.8h-.8zM137.1 255.7h.8v.8h-.8zM141.4 254.1h.8v.8h-.8zM139.2 250.2h.8v.8h-.8zM139.2 252.6h.8v.8h-.8zM137.6 256.3h.8v.8h-.8zM137.8 257.0h.8v.8h-.8zM135.2 259.0h.8v.8h-.8zM135.7 256.8h.8v.8h-.8zM135.8 256.8h.8v.8h-.8zM137.3 256.3h.8v.8h-.8zM135.9 261.1h.8v.8h-.8zM137.2 257.2h.8v.8h-.8zM132.9 259.0h.8v.8h-.8zM134.2 256.2h.8v.8h-.8zM133.2 263.4h.8v.8h-.8zM133.8 256.0h.8v.8h-.8zM134.9 252.6h.8v.8h-.8zM133.8 261.9h.8v.8h-.8zM142.1 256.5h.8v.8h-.8zM139.3 255.2h.8v.8h-.8zM135.3 263.1h.8v.8h-.8zM138.9 253.0h.8v.8h-.8zM137.3 256.8h.8v.8h-.8zM136.9 256.6h.8v.8h-.8zM136.1 256.6h.8v.8h-.8zM136.6 255.8h.8v.8h-.8zM135.9 262.2h.8v.8h-.8zM136.6 256.1h.8v.8h-.8zM138.0 256.9h.8v.8h-.8zM134.8 259.8h.8v.8h-.8zM134.9 254.6h.8v.8h-.8zM138.4 256.1h.8v.8h-.8zM136.0 256.9h.8v.8h-.8zM135.7 254.8h.8v.8h-.8zM135.0 252.6h.8v.8h-.8zM135.4 257.0h.8v.8h-.8zM136.4 256.3h.8v.8h-.8zM139.4 255.2h.8v.8h-.8zM133.6 257.1h.8v.8h-.8zM141.2 246.9h.8v.8h-.8zM136.9 253.0h.8v.8h-.8zM134.3 259.5h.8v.8h-.8zM137.4 256.7h.8v.8h-.8zM134.7 255.0h.8v.8h-.8zM135.1 262.0h.8v.8h-.8zM137.4 249.9h.8v.8h-.8zM136.8 261.8h.8v.8h-.8zM135.8 255.8h.8v.8h-.8zM137.3 258.4h.8v.8h-.8zM138.5 254.7h.8v.8h-.8zM136.7 259.1h.8v.8h-.8zM135.3 255.6h.8v.8h-.8zM138.2 256.0h.8v.8h-.8zM135.4 262.4h.8v.8h-.8zM137.8 255.8h.8v.8h-.8zM131.4 260.5h.8v.8h-.8zM139.4 256.6h.8v.8h-.8zM137.5 254.0h.8v.8h-.8zM141.7 259.9h.8v.8h-.8zM142.2 264.5h.8v.8h-.8zM133.7 259.0h.8v.8h-.8zM133.1 258.1h.8v.8h-.8zM137.6 254.9h.8v.8h-.8zM138.9 257.3h.8v.8h-.8zM136.8 256.0h.8v.8h-.8zM139.4 258.5h.8v.8h-.8zM139.3 258.0h.8v.8h-.8zM136.6 255.2h.8v.8h-.8zM138.0 254.4h.8v.8h-.8zM136.2 259.6h.8v.8h-.8zM138.0 256.1h.8v.8h-.8zM138.0 255.6h.8v.8h-.8zM140.2 256.2h.8v.8h-.8zM137.6 252.9h.8v.8h-.8zM136.1 252.5h.8v.8h-.8zM138.4 258.8h.8v.8h-.8zM138.8 255.7h.8v.8h-.8zM137.6 258.1h.8v.8h-.8zM136.8 251.2h.8v.8h-.8zM141.7 258.6h.8v.8h-.8zM139.4 259.6h.8v.8h-.8zM136.0 256.8h.8v.8h-.8zM136.5 260.5h.8v.8h-.8zM137.9 254.5h.8v.8h-.8zM138.2 266.3h.8v.8h-.8zM137.5 258.6h.8v.8h-.8zM142.0 253.8h.8v.8h-.8zM138.2 261.1h.8v.8h-.8zM138.9 254.9h.8v.8h-.8zM137.5 257.3h.8v.8h-.8zM139.6 260.4h.8v.8h-.8zM133.4 257.1h.8v.8h-.8zM136.0 257.9h.8v.8h-.8zM136.7 258.2h.8v.8h-.8zM134.4 257.7h.8v.8h-.8zM138.7 261.1h.8v.8h-.8zM140.8 256.9h.8v.8h-.8zM136.4 261.5h.8v.8h-.8zM138.4 258.0h.8v.8h-.8zM138.8 252.0h.8v.8h-.8zM135.7 253.9h.8v.8h-.8zM135.2 262.2h.8v.8h-.8zM133.7 256.4h.8v.8h-.8zM137.4 253.9h.8v.8h-.8zM138.4 254.1h.8v.8h-.8zM134.6 252.6h.8v.8h-.8zM140.4 255.6h.8v.8h-.8zM138.0 258.9h.8v.8h-.8zM138.5 254.4h.8v.8h-.8zM139.3 260.5h.8v.8h-.8zM134.6 259.8h.8v.8h-.8zM138.7 260.7h.8v.8h-.8zM138.8 256.4h.8v.8h-.8zM136.0 259.2h.8v.8h-.8zM138.4 258.4h.8v.8h-.8zM136.6 260.9h.8v.8h-.8zM139.5 260.7h.8v.8h-.8zM136.4 259.0h.8v.8h-.8zM139.6 252.5h.8v.8h-.8zM136.1 257.9h.8v.8h-.8zM134.6 256.7h.8v.8h-.8zM137.8 252.0h.8v.8h-.8zM138.8 257.0h.8v.8h-.8zM140.2 256.9h.8v.8h-.8zM136.6 256.9h.8v.8h-.8zM138.5 250.8h.8v.8h-.8zM137.0 259.5h.8v.8h-.8zM139.2 258.3h.8v.8h-.8zM135.3 256.7h.8v.8h-.8zM138.6 257.1h.8v.8h-.8zM138.0 263.4h.8v.8h-.8zM141.7 255.5h.8v.8h-.8zM135.6 257.1h.8v.8h-.8zM140.4 253.5h.8v.8h-.8zM135.6 252.8h.8v.8h-.8zM140.0 255.4h.8v.8h-.8zM137.5 262.5h.8v.8h-.8zM139.0 256.0h.8v.8h-.8zM134.9 260.8h.8v.8h-.8zM137.8 255.9h.8v.8h-.8zM138.1 254.6h.8v.8h-.8zM138.1 257.8h.8v.8h-.8zM135.4 257.9h.8v.8h-.8zM138.9 261.9h.8v.8h-.8zM139.5 264.2h.8v.8h-.8zM139.5 257.0h.8v.8h-.8zM138.4 257.2h.8v.8h-.8zM135.7 256.3h.8v.8h-.8zM138.0 253.6h.8v.8h-.8zM137.5 259.0h.8v.8h-.8zM141.2 256.7h.8v.8h-.8zM137.0 254.8h.8v.8h-.8zM134.3 259.0h.8v.8h-.8zM136.6 254.8h.8v.8h-.8zM135.3 262.0h.8v.8h-.8zM140.5 258.6h.8v.8h-.8zM136.9 253.1h.8v.8h-.8zM133.1 254.5h.8v.8h-.8zM136.0 262.1h.8v.8h-.8zM137.0 251.5h.8v.8h-.8zM140.5 259.1h.8v.8h-.8zM136.8 258.3h.8v.8h-.8zM139.0 255.5h.8v.8h-.8zM135.8 257.6h.8v.8h-.8zM138.9 258.8h.8v.8h-.8zM135.3 253.8h.8v.8h-.8zM137.6 255.0h.8v.8h-.8zM137.0 263.3h.8v.8h-.8zM134.2 256.1h.8v.8h-.8zM135.5 257.8h.8v.8h-.8zM141.5 258.3h.8v.8h-.8zM140.4 254.0h.8v.8h-.8zM138.2 261.7h.8v.8h-.8zM136.9 254.5h.8v.8h-.8zM134.5 262.0h.8v.8h-.8zM137.4 261.7h.8v.8h-.8zM138.0 257.2h.8v.8h-.8zM139.3 257.8h.8v.8h-.8zM140.1 255.1h.8v.8h-.8zM136.4 257.2h.8v.8h-.8zM136.6 256.4h.8v.8h-.8zM139.3 258.2h.8v.8h-.8zM137.4 262.9h.8v.8h-.8zM134.8 255.1h.8v.8h-.8zM137.2 260.3h.8v.8h-.8zM138.9 258.8h.8v.8h-.8zM140.7 256.8h.8v.8h-.8zM136.1 261.1h.8v.8h-.8zM140.9 253.7h.8v.8h-.8zM136.4 256.7h.8v.8h-.8zM138.4 257.4h.8v.8h-.8zM139.2 251.6h.8v.8h-.8zM136.6 251.8h.8v.8h-.8zM139.4 260.4h.8v.8h-.8zM138.1 257.1h.8v.8h-.8zM137.4 256.7h.8v.8h-.8zM135.9 258.6h.8v.8h-.8zM138.9 254.7h.8v.8h-.8zM138.5 261.9h.8v.8h-.8zM140.9 264.8h.8v.8h-.8zM143.3 252.1h.8v.8h-.8zM136.6 255.5h.8v.8h-.8zM138.6 262.1h.8v.8h-.8zM134.6 259.0h.8v.8h-.8zM138.3 261.3h.8v.8h-.8zM138.7 254.8h.8v.8h-.8z"/>
<path fill="#e41010" fill-opacity="0.55" d="M137.6 267.9h.8v.8h-.8zM136.7 269.4h.8v.8h-.8zM137.0 273.5h.8v.8h-.8zM137.9 278.5h.8v.8h-.8zM138.5 260.0h.8v.8h-.8zM138.4 268.5h.8v.8h-.8zM139.1 268.4h.8v.8h-.8zM135.2 262.0h.8v.8h-.8zM136.8 276.2h.8v.8h-.8zM135.1 273.3h.8v.8h-.8zM136.4 258.1h.8v.8h-.8zM136.6 269.3h.8v.8h-.8zM138.1 260.4h.8v.8h-.8zM138.4 270.6h.8v.8h-.8zM139.0 268.3h.8v.8h-.8zM135.6 269.5h.8v.8h-.8zM137.0 277.8h.8v.8h-.8zM135.4 269.1h.8v.8h-.8zM134.8 268.8h.8v.8h-.8zM137.6 280.2h.8v.8h-.8zM136.7 272.6h.8v.8h-.8zM137.1 277.8h.8v.8h-.8zM136.4 269.4h.8v.8h-.8zM137.7 269.3h.8v.8h-.8zM137.5 270.5h.8v.8h-.8zM136.3 276.5h.8v.8h-.8zM136.6 268.5h.8v.8h-.8zM138.1 282.7h.8v.8h-.8zM137.7 269.9h.8v.8h-.8zM138.6 274.4h.8v.8h-.8zM134.9 278.5h.8v.8h-.8zM139.9 267.7h.8v.8h-.8zM136.2 275.0h.8v.8h-.8zM137.8 271.9h.8v.8h-.8zM139.9 261.1h.8v.8h-.8zM135.9 274.4h.8v.8h-.8zM138.0 267.4h.8v.8h-.8zM133.2 278.6h.8v.8h-.8zM139.0 271.9h.8v.8h-.8zM137.8 277.7h.8v.8h-.8zM142.1 264.5h.8v.8h-.8zM137.1 258.4h.8v.8h-.8zM134.4 278.5h.8v.8h-.8zM136.4 257.0h.8v.8h-.8zM134.2 280.5h.8v.8h-.8zM138.1 279.0h.8v.8h-.8zM140.4 267.5h.8v.8h-.8zM137.1 266.9h.8v.8h-.8zM135.0 277.0h.8v.8h-.8zM137.5 266.5h.8v.8h-.8zM133.5 268.3h.8v.8h-.8zM136.4 266.4h.8v.8h-.8zM138.7 274.6h.8v.8h-.8zM138.0 278.8h.8v.8h-.8zM136.3 270.7h.8v.8h-.8zM141.5 265.4h.8v.8h-.8zM137.6 275.9h.8v.8h-.8zM137.5 270.6h.8v.8h-.8zM138.1 276.2h.8v.8h-.8zM137.4 269.1h.8v.8h-.8zM133.4 269.1h.8v.8h-.8zM135.3 266.0h.8v.8h-.8zM135.0 262.7h.8v.8h-.8zM135.3 271.5h.8v.8h-.8zM134.3 262.3h.8v.8h-.8zM139.6 276.4h.8v.8h-.8zM135.9 272.9h.8v.8h-.8zM136.6 273.2h.8v.8h-.8zM138.2 263.5h.8v.8h-.8zM132.9 276.2h.8v.8h-.8zM138.0 265.2h.8v.8h-.8zM139.9 272.8h.8v.8h-.8zM137.3 279.8h.8v.8h-.8zM140.2 277.8h.8v.8h-.8zM137.8 267.7h.8v.8h-.8zM137.4 268.4h.8v.8h-.8zM138.8 277.6h.8v.8h-.8zM137.2 277.5h.8v.8h-.8zM134.5 279.0h.8v.8h-.8zM137.7 257.7h.8v.8h-.8zM137.1 276.0h.8v.8h-.8zM138.1 265.3h.8v.8h-.8zM139.0 276.1h.8v.8h-.8zM137.2 280.2h.8v.8h-.8zM135.9 273.2h.8v.8h-.8zM137.0 257.3h.8v.8h-.8zM137.9 274.7h.8v.8h-.8zM135.7 271.0h.8v.8h-.8zM139.3 269.4h.8v.8h-.8zM138.3 272.9h.8v.8h-.8zM137.3 275.8h.8v.8h-.8zM133.5 262.6h.8v.8h-.8zM134.8 276.0h.8v.8h-.8zM139.5 269.0h.8v.8h-.8zM133.8 280.0h.8v.8h-.8zM136.0 264.9h.8v.8h-.8zM137.7 266.5h.8v.8h-.8zM138.3 273.8h.8v.8h-.8zM134.9 282.1h.8v.8h-.8zM137.0 273.5h.8v.8h-.8zM140.1 278.4h.8v.8h-.8zM131.6 270.8h.8v.8h-.8zM136.4 274.1h.8v.8h-.8zM138.5 280.9h.8v.8h-.8zM132.8 270.7h.8v.8h-.8zM139.4 268.6h.8v.8h-.8zM140.6 277.8h.8v.8h-.8zM139.1 265.3h.8v.8h-.8zM133.2 268.8h.8v.8h-.8zM136.7 272.0h.8v.8h-.8zM139.4 269.0h.8v.8h-.8zM134.6 282.4h.8v.8h-.8zM139.0 267.1h.8v.8h-.8zM136.6 245.9h.8v.8h-.8zM134.4 270.2h.8v.8h-.8zM138.1 269.7h.8v.8h-.8zM136.6 266.8h.8v.8h-.8zM135.3 281.1h.8v.8h-.8zM141.3 277.7h.8v.8h-.8zM136.0 256.4h.8v.8h-.8zM138.7 263.8h.8v.8h-.8zM136.2 272.7h.8v.8h-.8zM140.3 265.1h.8v.8h-.8zM136.2 275.9h.8v.8h-.8zM138.9 269.8h.8v.8h-.8zM137.8 275.1h.8v.8h-.8zM136.0 259.5h.8v.8h-.8zM136.6 280.7h.8v.8h-.8zM134.3 265.4h.8v.8h-.8zM139.0 280.7h.8v.8h-.8zM137.8 272.9h.8v.8h-.8zM133.2 262.6h.8v.8h-.8zM135.4 259.1h.8v.8h-.8zM139.0 263.4h.8v.8h-.8zM142.2 263.0h.8v.8h-.8zM137.6 267.9h.8v.8h-.8zM136.4 277.9h.8v.8h-.8zM134.6 268.9h.8v.8h-.8zM139.4 265.1h.8v.8h-.8zM142.9 261.9h.8v.8h-.8zM138.7 272.4h.8v.8h-.8zM138.0 270.7h.8v.8h-.8zM136.0 273.7h.8v.8h-.8zM135.8 264.8h.8v.8h-.8zM140.9 258.5h.8v.8h-.8zM138.4 267.3h.8v.8h-.8zM132.5 255.1h.8v.8h-.8zM134.9 274.3h.8v.8h-.8zM139.9 270.5h.8v.8h-.8zM139.8 271.6h.8v.8h-.8z"/>
<path fill="#e41010" fill-opacity="0.25" d="M129.2 264.0h.8v.8h-.8zM141.5 250.4h.8v.8h-.8zM104.1 275.5h.8v.8h-.8zM127.7 265.1h.8v.8h-.8zM140.0 266.1h.8v.8h-.8zM126.2 276.7h.8v.8h-.8zM140.4 259.8h.8v.8h-.8zM130.0 257.7h.8v.8h-.8zM125.6 255.2h.8v.8h-.8zM136.3 252.2h.8v.8h-.8zM119.4 269.7h.8v.8h-.8zM129.4 277.9h.8v.8h-.8zM120.4 262.5h.8v.8h-.8zM124.9 271.6h.8v.8h-.8zM125.7 267.8h.8v.8h-.8zM109.0 257.1h.8v.8h-.8zM145.3 262.4h.8v.8h-.8zM131.5 273.1h.8v.8h-.8zM130.6 254.2h.8v.8h-.8zM129.8 258.4h.8v.8h-.8zM126.7 262.6h.8v.8h-.8zM137.3 274.7h.8v.8h-.8zM145.4 254.3h.8v.8h-.8zM130.2 275.4h.8v.8h-.8zM120.6 256.0h.8v.8h-.8zM149.0 269.9h.8v.8h-.8zM136.9 258.1h.8v.8h-.8zM143.9 272.9h.8v.8h-.8zM128.3 265.0h.8v.8h-.8zM135.0 261.6h.8v.8h-.8zM128.2 276.6h.8v.8h-.8zM123.8 247.8h.8v.8h-.8zM139.9 280.5h.8v.8h-.8zM121.5 267.0h.8v.8h-.8zM129.1 255.0h.8v.8h-.8zM118.7 265.6h.8v.8h-.8zM107.0 264.7h.8v.8h-.8zM159.9 289.5h.8v.8h-.8zM103.7 261.6h.8v.8h-.8zM115.9 264.9h.8v.8h-.8zM122.8 260.5h.8v.8h-.8zM128.9 266.8h.8v.8h-.8zM131.2 269.0h.8v.8h-.8zM139.8 281.8h.8v.8h-.8zM135.9 264.2h.8v.8h-.8zM141.7 267.4h.8v.8h-.8zM138.4 253.6h.8v.8h-.8zM111.0 273.2h.8v.8h-.8zM111.5 252.9h.8v.8h-.8zM125.5 254.3h.8v.8h-.8zM136.2 265.6h.8v.8h-.8zM132.1 277.9h.8v.8h-.8zM129.4 259.0h.8v.8h-.8zM113.8 256.1h.8v.8h-.8zM118.6 264.5h.8v.8h-.8zM148.5 261.4h.8v.8h-.8zM129.7 243.5h.8v.8h-.8zM149.4 252.5h.8v.8h-.8zM130.6 247.4h.8v.8h-.8zM137.4 263.6h.8v.8h-.8zM116.6 277.0h.8v.8h-.8zM146.0 265.2h.8v.8h-.8zM122.1 264.2h.8v.8h-.8zM120.2 267.6h.8v.8h-.8zM122.6 255.2h.8v.8h-.8zM127.8 280.3h.8v.8h-.8zM110.5 272.3h.8v.8h-.8zM134.6 269.3h.8v.8h-.8zM131.1 268.7h.8v.8h-.8zM102.8 261.3h.8v.8h-.8z"/>
</g>
<line x1="108.50" y1="242.60" x2="167.00" y2="242.60" stroke="#999" stroke-width="0.6" />
<line x1="167.00" y1="242.60" x2="167.00" y2="286.80" stroke="#aaa" stroke-width="0.6" />
<line x1="124.60" y1="242.60" x2="124.60" y2="286.80" stroke="#666" stroke-width="0.7" />
<line x1="108.50" y1="272.30" x2="167.00" y2="272.30" stroke="#666" stroke-width="0.7" />
<line x1="108.50" y1="242.30" x2="108.50" y2="286.80" stroke="#444" stroke-width="0.7" />
<line x1="108.50" y1="286.80" x2="167.00" y2="286.80" stroke="#444" stroke-width="0.7" />
<line x1="107.30" y1="286.80" x2="108.50" y2="286.80" stroke="#555" stroke-width="0.4" />
<text x="105.90" y="287.80" font-family='"Liberation Sans", sans-serif' font-size="2.8" font-weight="normal" font-style="normal" text-anchor="middle" fill="#777" >0</text>
<line x1="108.50" y1="286.80" x2="108.50" y2="288.00" stroke="#555" stroke-width="0.4" />
<text x="108.50" y="290.40" font-family='"Liberation Sans", sans-serif' font-size="2.8" font-weight="normal" font-style="normal" text-anchor="middle" fill="#777" >0</text>
<line x1="107.30" y1="275.75" x2="108.50" y2="275.75" stroke="#555" stroke-width="0.4" />
<text x="105.90" y="276.75" font-family='"Liberation Sans", sans-serif' font-size="2.8" font-weight="normal" font-style="normal" text-anchor="middle" fill="#777" >1</text>
<line x1="123.12" y1="286.80" x2="123.12" y2="288.00" stroke="#555" stroke-width="0.4" />
<text x="123.12" y="290.40" font-family='"Liberation Sans", sans-serif' font-size="2.8" font-weight="normal" font-style="normal" text-anchor="middle" fill="#777" >1</text>
<line x1="107.30" y1="264.70" x2="108.50" y2="264.70" stroke="#555" stroke-width="0.4" />
<text x="105.90" y="265.70" font-family='"Liberation Sans", sans-serif' font-size="2.8" font-weight="normal" font-style="normal" text-anchor="middle" fill="#777" >2</text>
<line x1="137.75" y1="286.80" x2="137.75" y2="288.00" stroke="#555" stroke-width="0.4" />
<text x="137.75" y="290.40" font-family='"Liberation Sans", sans-serif' font-size="2.8" font-weight="normal" font-style="normal" text-anchor="middle" fill="#777" >2</text>
<line x1="107.30" y1="253.65" x2="108.50" y2="253.65" stroke="#555" stroke-width="0.4" />
<text x="105.90" y="254.65" font-family='"Liberation Sans", sans-serif' font-size="2.8" font-weight="normal" font-style="normal" text-anchor="middle" fill="#777" >3</text>
<line x1="152.38" y1="286.80" x2="152.38" y2="288.00" stroke="#555" stroke-width="0.4" />
<text x="152.38" y="290.40" font-family='"Liberation Sans", sans-serif' font-size="2.8" font-weight="normal" font-style="normal" text-anchor="middle" fill="#777" >3</text>
<line x1="107.30" y1="242.60" x2="108.50" y2="242.60" stroke="#555" stroke-width="0.4" />
<text x="105.90" y="243.60" font-family='"Liberation Sans", sans-serif' font-size="2.8" font-weight="normal" font-style="normal" text-anchor="middle" fill="#777" >4</text>
<line x1="167.00" y1="286.80" x2="167.00" y2="288.00" stroke="#555" stroke-width="0.4" />
<text x="167.00" y="290.40" font-family='"Liberation Sans", sans-serif' font-size="2.8" font-weight="normal" font-style="normal" text-anchor="middle" fill="#777" >4</text>
<rect x="29.6" y="304.4" width="57.9" height="46.0" fill="#fff"/>
<g clip-path="url(#fc13)">
<ellipse cx="34.2" cy="341.6" rx="3.00" ry="3.88" fill="#e80808" fill-opacity="0.9" filter="url(#b1)"/>
<ellipse cx="64.8" cy="321.8" rx="3.75" ry="4.50" fill="#e80808" fill-opacity="0.9" filter="url(#b1)" transform="rotate(25 64.8 321.8)"/>
<path fill="#e41010" fill-opacity="0.9" d="M34.0 346.3h.8v.8h-.8zM32.3 336.1h.8v.8h-.8zM34.9 343.7h.8v.8h-.8zM35.2 343.4h.8v.8h-.8zM34.1 340.0h.8v.8h-.8zM32.6 341.2h.8v.8h-.8zM33.5 344.8h.8v.8h-.8zM35.9 338.0h.8v.8h-.8zM36.1 341.8h.8v.8h-.8zM37.1 346.6h.8v.8h-.8zM35.8 336.4h.8v.8h-.8zM36.0 337.1h.8v.8h-.8zM38.3 339.9h.8v.8h-.8zM34.0 347.6h.8v.8h-.8zM30.2 342.0h.8v.8h-.8zM31.9 340.3h.8v.8h-.8zM32.5 344.1h.8v.8h-.8zM33.7 343.0h.8v.8h-.8zM36.0 336.6h.8v.8h-.8zM37.9 341.2h.8v.8h-.8zM30.4 339.9h.8v.8h-.8zM36.6 345.1h.8v.8h-.8zM32.8 342.3h.8v.8h-.8zM35.1 345.2h.8v.8h-.8zM34.1 345.0h.8v.8h-.8zM32.3 339.7h.8v.8h-.8zM36.1 344.2h.8v.8h-.8zM34.4 343.9h.8v.8h-.8zM35.0 344.4h.8v.8h-.8zM37.3 343.6h.8v.8h-.8zM36.5 340.7h.8v.8h-.8zM33.1 334.5h.8v.8h-.8zM35.5 342.1h.8v.8h-.8zM35.8 336.0h.8v.8h-.8zM33.3 340.2h.8v.8h-.8zM30.1 344.8h.8v.8h-.8zM37.5 337.9h.8v.8h-.8zM35.6 347.4h.8v.8h-.8zM31.5 345.1h.8v.8h-.8zM38.4 347.9h.8v.8h-.8zM31.1 338.6h.8v.8h-.8zM35.0 345.8h.8v.8h-.8zM31.4 339.6h.8v.8h-.8zM31.7 345.5h.8v.8h-.8zM33.1 343.8h.8v.8h-.8zM36.1 345.6h.8v.8h-.8zM35.5 343.0h.8v.8h-.8zM37.3 343.5h.8v.8h-.8zM31.4 340.3h.8v.8h-.8zM36.7 342.4h.8v.8h-.8zM33.6 342.7h.8v.8h-.8zM42.6 341.8h.8v.8h-.8zM35.7 343.4h.8v.8h-.8zM33.8 345.8h.8v.8h-.8zM36.6 343.2h.8v.8h-.8zM31.2 346.0h.8v.8h-.8zM36.4 341.7h.8v.8h-.8zM27.9 341.8h.8v.8h-.8zM31.5 341.2h.8v.8h-.8zM33.2 339.3h.8v.8h-.8zM37.0 342.3h.8v.8h-.8zM37.5 338.9h.8v.8h-.8zM34.0 346.3h.8v.8h-.8zM35.3 339.7h.8v.8h-.8zM32.3 340.1h.8v.8h-.8zM34.3 344.2h.8v.8h-.8zM34.8 344.4h.8v.8h-.8zM36.5 342.3h.8v.8h-.8zM37.7 344.3h.8v.8h-.8zM34.0 341.4h.8v.8h-.8zM34.4 339.6h.8v.8h-.8zM31.2 342.1h.8v.8h-.8zM33.2 343.8h.8v.8h-.8zM33.0 342.3h.8v.8h-.8zM35.0 340.5h.8v.8h-.8zM35.0 339.7h.8v.8h-.8zM33.4 344.5h.8v.8h-.8zM35.4 341.9h.8v.8h-.8zM32.5 344.2h.8v.8h-.8zM39.4 335.0h.8v.8h-.8zM37.1 342.6h.8v.8h-.8zM37.2 345.7h.8v.8h-.8zM32.0 347.5h.8v.8h-.8zM33.0 341.1h.8v.8h-.8zM36.0 341.7h.8v.8h-.8zM35.1 340.3h.8v.8h-.8zM31.9 342.0h.8v.8h-.8zM31.8 346.2h.8v.8h-.8zM35.1 346.4h.8v.8h-.8zM31.4 335.3h.8v.8h-.8zM28.8 340.7h.8v.8h-.8zM31.3 343.1h.8v.8h-.8zM30.9 337.5h.8v.8h-.8zM35.2 340.7h.8v.8h-.8zM36.1 344.5h.8v.8h-.8zM35.3 338.1h.8v.8h-.8zM32.3 349.1h.8v.8h-.8zM33.9 342.9h.8v.8h-.8zM34.8 341.8h.8v.8h-.8zM34.0 340.1h.8v.8h-.8zM33.2 335.5h.8v.8h-.8zM38.6 341.6h.8v.8h-.8zM31.2 343.6h.8v.8h-.8zM36.1 337.3h.8v.8h-.8zM33.2 346.7h.8v.8h-.8zM35.8 343.3h.8v.8h-.8zM36.9 341.5h.8v.8h-.8zM33.7 347.0h.8v.8h-.8zM34.0 341.7h.8v.8h-.8zM36.0 342.0h.8v.8h-.8zM31.4 347.9h.8v.8h-.8zM34.3 347.6h.8v.8h-.8zM35.7 339.0h.8v.8h-.8zM38.3 341.4h.8v.8h-.8zM32.3 341.8h.8v.8h-.8zM29.2 343.2h.8v.8h-.8zM32.7 341.1h.8v.8h-.8zM32.3 344.1h.8v.8h-.8zM35.3 345.4h.8v.8h-.8zM38.6 342.8h.8v.8h-.8zM34.7 342.9h.8v.8h-.8zM32.5 340.2h.8v.8h-.8zM36.3 339.2h.8v.8h-.8zM29.7 340.8h.8v.8h-.8zM35.1 346.6h.8v.8h-.8zM32.7 339.0h.8v.8h-.8zM34.7 341.4h.8v.8h-.8zM35.1 340.3h.8v.8h-.8zM34.9 340.1h.8v.8h-.8zM36.9 342.8h.8v.8h-.8zM35.9 340.5h.8v.8h-.8zM30.9 342.0h.8v.8h-.8zM34.3 345.4h.8v.8h-.8zM36.8 341.8h.8v.8h-.8zM34.3 338.8h.8v.8h-.8zM34.3 342.6h.8v.8h-.8zM33.4 338.5h.8v.8h-.8zM37.6 339.0h.8v.8h-.8zM38.5 345.7h.8v.8h-.8zM38.2 339.2h.8v.8h-.8zM36.0 337.5h.8v.8h-.8zM33.6 337.1h.8v.8h-.8zM32.6 340.3h.8v.8h-.8zM36.8 345.3h.8v.8h-.8zM33.5 341.0h.8v.8h-.8zM32.1 338.3h.8v.8h-.8zM30.1 341.2h.8v.8h-.8zM35.9 339.5h.8v.8h-.8zM35.3 338.3h.8v.8h-.8zM32.0 340.2h.8v.8h-.8zM36.6 340.2h.8v.8h-.8zM36.3 340.8h.8v.8h-.8zM31.7 335.6h.8v.8h-.8zM33.3 338.9h.8v.8h-.8zM36.6 343.3h.8v.8h-.8zM30.4 344.5h.8v.8h-.8zM35.7 332.7h.8v.8h-.8zM31.9 342.6h.8v.8h-.8zM30.5 339.6h.8v.8h-.8zM35.7 342.6h.8v.8h-.8zM35.5 343.8h.8v.8h-.8zM32.3 349.3h.8v.8h-.8zM35.7 348.6h.8v.8h-.8zM33.8 343.6h.8v.8h-.8zM35.2 341.4h.8v.8h-.8zM35.2 342.7h.8v.8h-.8zM36.4 342.9h.8v.8h-.8zM34.5 343.4h.8v.8h-.8zM37.9 342.1h.8v.8h-.8zM35.9 342.3h.8v.8h-.8zM29.6 339.0h.8v.8h-.8zM32.2 337.5h.8v.8h-.8zM32.9 336.3h.8v.8h-.8zM35.0 340.2h.8v.8h-.8zM37.4 343.0h.8v.8h-.8zM31.3 341.2h.8v.8h-.8zM34.5 339.7h.8v.8h-.8zM33.5 338.5h.8v.8h-.8zM32.6 342.7h.8v.8h-.8zM33.6 345.6h.8v.8h-.8zM29.3 339.4h.8v.8h-.8zM33.5 346.4h.8v.8h-.8zM37.1 344.2h.8v.8h-.8zM36.7 346.8h.8v.8h-.8zM36.0 341.1h.8v.8h-.8zM34.8 339.6h.8v.8h-.8zM33.8 343.0h.8v.8h-.8zM33.1 342.1h.8v.8h-.8zM33.3 337.7h.8v.8h-.8zM30.9 343.9h.8v.8h-.8zM34.4 344.4h.8v.8h-.8zM34.1 341.7h.8v.8h-.8zM35.0 340.7h.8v.8h-.8zM37.7 344.9h.8v.8h-.8zM35.3 338.5h.8v.8h-.8zM33.0 342.4h.8v.8h-.8zM37.1 341.6h.8v.8h-.8zM34.3 343.4h.8v.8h-.8zM34.6 341.3h.8v.8h-.8zM31.6 345.5h.8v.8h-.8zM34.2 340.1h.8v.8h-.8zM34.0 337.6h.8v.8h-.8zM30.3 336.2h.8v.8h-.8zM35.2 337.6h.8v.8h-.8zM34.5 338.0h.8v.8h-.8zM30.0 339.8h.8v.8h-.8zM32.5 339.5h.8v.8h-.8zM38.4 342.3h.8v.8h-.8zM32.8 344.4h.8v.8h-.8zM33.5 345.4h.8v.8h-.8zM30.5 345.0h.8v.8h-.8zM31.7 339.4h.8v.8h-.8zM34.7 338.3h.8v.8h-.8zM30.3 340.4h.8v.8h-.8zM33.5 336.6h.8v.8h-.8zM36.6 339.1h.8v.8h-.8zM32.7 340.9h.8v.8h-.8zM34.3 344.9h.8v.8h-.8zM29.1 341.6h.8v.8h-.8zM36.3 342.4h.8v.8h-.8zM34.0 338.2h.8v.8h-.8zM35.0 340.1h.8v.8h-.8zM34.5 338.3h.8v.8h-.8zM33.5 341.2h.8v.8h-.8zM30.7 344.8h.8v.8h-.8zM33.9 337.6h.8v.8h-.8zM33.6 342.0h.8v.8h-.8zM33.4 338.4h.8v.8h-.8zM33.7 337.4h.8v.8h-.8zM30.2 345.2h.8v.8h-.8zM38.3 347.4h.8v.8h-.8zM39.6 345.8h.8v.8h-.8zM32.0 339.8h.8v.8h-.8zM36.8 340.1h.8v.8h-.8zM33.4 341.5h.8v.8h-.8zM35.2 337.4h.8v.8h-.8zM34.3 343.1h.8v.8h-.8zM29.3 345.1h.8v.8h-.8zM36.0 339.1h.8v.8h-.8zM38.6 342.9h.8v.8h-.8zM35.4 346.4h.8v.8h-.8zM28.0 341.6h.8v.8h-.8zM36.8 346.0h.8v.8h-.8zM34.1 341.0h.8v.8h-.8zM32.4 340.6h.8v.8h-.8zM32.1 334.2h.8v.8h-.8zM32.8 338.5h.8v.8h-.8zM32.8 340.2h.8v.8h-.8zM33.0 341.9h.8v.8h-.8zM34.0 340.5h.8v.8h-.8zM32.7 341.3h.8v.8h-.8zM33.4 341.2h.8v.8h-.8zM37.5 342.3h.8v.8h-.8zM33.2 335.2h.8v.8h-.8zM30.7 332.4h.8v.8h-.8zM36.3 345.0h.8v.8h-.8zM33.2 340.1h.8v.8h-.8zM35.3 343.4h.8v.8h-.8zM30.0 340.8h.8v.8h-.8zM33.4 337.7h.8v.8h-.8zM37.6 343.9h.8v.8h-.8zM32.7 341.5h.8v.8h-.8zM32.9 340.0h.8v.8h-.8zM33.3 344.8h.8v.8h-.8zM34.2 340.1h.8v.8h-.8zM32.6 342.4h.8v.8h-.8zM32.1 336.6h.8v.8h-.8zM33.9 346.5h.8v.8h-.8zM32.6 342.1h.8v.8h-.8zM33.7 345.4h.8v.8h-.8zM35.3 337.7h.8v.8h-.8zM38.4 341.6h.8v.8h-.8zM32.0 340.0h.8v.8h-.8zM34.3 344.9h.8v.8h-.8zM33.5 339.3h.8v.8h-.8zM37.4 346.5h.8v.8h-.8zM33.3 342.0h.8v.8h-.8zM35.1 340.7h.8v.8h-.8zM32.0 344.8h.8v.8h-.8zM31.6 335.9h.8v.8h-.8zM35.6 345.2h.8v.8h-.8zM36.2 339.2h.8v.8h-.8zM33.6 338.2h.8v.8h-.8zM32.9 334.0h.8v.8h-.8zM32.1 345.9h.8v.8h-.8zM31.4 347.0h.8v.8h-.8zM34.6 335.5h.8v.8h-.8zM36.5 338.6h.8v.8h-.8zM35.5 341.0h.8v.8h-.8zM33.4 341.1h.8v.8h-.8zM31.0 339.2h.8v.8h-.8zM33.2 347.1h.8v.8h-.8zM32.8 342.6h.8v.8h-.8zM35.3 345.4h.8v.8h-.8zM33.6 342.2h.8v.8h-.8zM32.0 349.5h.8v.8h-.8zM30.6 342.4h.8v.8h-.8zM33.4 342.1h.8v.8h-.8zM32.9 340.2h.8v.8h-.8zM36.6 344.6h.8v.8h-.8zM64.8 321.3h.8v.8h-.8zM65.4 321.8h.8v.8h-.8zM64.8 324.9h.8v.8h-.8zM68.5 317.3h.8v.8h-.8zM66.3 318.3h.8v.8h-.8zM66.5 321.5h.8v.8h-.8zM65.8 321.9h.8v.8h-.8zM65.3 327.5h.8v.8h-.8zM67.6 317.2h.8v.8h-.8zM61.8 328.4h.8v.8h-.8zM63.1 320.7h.8v.8h-.8zM68.9 330.5h.8v.8h-.8zM66.2 323.4h.8v.8h-.8zM58.7 325.6h.8v.8h-.8zM69.9 317.5h.8v.8h-.8zM64.7 321.3h.8v.8h-.8zM65.7 319.6h.8v.8h-.8zM72.9 322.2h.8v.8h-.8zM67.8 325.8h.8v.8h-.8zM64.2 323.4h.8v.8h-.8zM68.0 320.3h.8v.8h-.8zM62.0 325.4h.8v.8h-.8zM66.8 324.4h.8v.8h-.8zM64.0 315.0h.8v.8h-.8zM66.7 328.5h.8v.8h-.8zM65.6 323.8h.8v.8h-.8zM63.2 323.1h.8v.8h-.8zM66.9 325.9h.8v.8h-.8zM62.8 322.4h.8v.8h-.8zM63.5 321.0h.8v.8h-.8zM65.4 312.8h.8v.8h-.8zM61.7 321.2h.8v.8h-.8zM61.8 322.7h.8v.8h-.8zM62.8 322.2h.8v.8h-.8zM61.4 326.0h.8v.8h-.8zM63.7 321.5h.8v.8h-.8zM65.7 328.2h.8v.8h-.8zM59.4 325.3h.8v.8h-.8zM63.4 317.4h.8v.8h-.8zM61.0 324.2h.8v.8h-.8zM61.0 322.5h.8v.8h-.8zM66.3 321.8h.8v.8h-.8zM62.9 329.3h.8v.8h-.8zM70.5 321.2h.8v.8h-.8zM66.2 321.0h.8v.8h-.8zM65.3 320.0h.8v.8h-.8zM67.6 319.9h.8v.8h-.8zM61.4 320.5h.8v.8h-.8zM63.9 326.3h.8v.8h-.8zM68.0 320.0h.8v.8h-.8zM61.8 321.8h.8v.8h-.8zM64.5 324.7h.8v.8h-.8zM71.8 316.3h.8v.8h-.8zM62.3 323.0h.8v.8h-.8zM59.4 326.0h.8v.8h-.8zM63.7 323.8h.8v.8h-.8zM63.7 322.9h.8v.8h-.8zM65.1 324.2h.8v.8h-.8zM64.0 314.0h.8v.8h-.8zM63.4 324.5h.8v.8h-.8zM64.4 321.1h.8v.8h-.8zM66.8 325.5h.8v.8h-.8zM62.0 321.3h.8v.8h-.8zM64.2 321.9h.8v.8h-.8zM63.7 323.8h.8v.8h-.8zM64.3 323.1h.8v.8h-.8zM65.3 321.4h.8v.8h-.8zM62.9 322.2h.8v.8h-.8zM63.7 327.7h.8v.8h-.8zM72.6 322.9h.8v.8h-.8zM61.5 324.6h.8v.8h-.8zM63.5 321.9h.8v.8h-.8zM60.5 322.3h.8v.8h-.8zM59.4 323.4h.8v.8h-.8zM62.2 321.7h.8v.8h-.8zM68.8 320.5h.8v.8h-.8zM61.3 328.8h.8v.8h-.8zM60.9 320.7h.8v.8h-.8zM58.9 320.6h.8v.8h-.8zM66.1 318.1h.8v.8h-.8zM59.7 324.6h.8v.8h-.8zM68.5 318.9h.8v.8h-.8zM68.5 320.0h.8v.8h-.8zM62.1 322.3h.8v.8h-.8zM63.7 323.6h.8v.8h-.8zM68.7 321.3h.8v.8h-.8zM65.9 323.7h.8v.8h-.8zM59.2 322.5h.8v.8h-.8zM69.7 318.8h.8v.8h-.8zM62.5 324.8h.8v.8h-.8zM67.8 321.9h.8v.8h-.8zM64.7 320.7h.8v.8h-.8zM61.4 320.8h.8v.8h-.8zM72.7 320.0h.8v.8h-.8zM66.2 318.9h.8v.8h-.8zM71.4 318.5h.8v.8h-.8zM66.6 324.6h.8v.8h-.8zM63.0 319.9h.8v.8h-.8zM62.4 327.6h.8v.8h-.8zM63.8 326.2h.8v.8h-.8zM67.6 323.7h.8v.8h-.8zM65.1 321.8h.8v.8h-.8zM67.3 328.3h.8v.8h-.8zM68.5 321.1h.8v.8h-.8zM62.9 324.1h.8v.8h-.8zM66.4 317.4h.8v.8h-.8zM60.1 321.6h.8v.8h-.8zM66.1 324.7h.8v.8h-.8zM71.5 318.8h.8v.8h-.8zM59.8 320.1h.8v.8h-.8zM68.5 320.3h.8v.8h-.8zM65.0 323.4h.8v.8h-.8zM64.8 318.6h.8v.8h-.8zM64.1 321.3h.8v.8h-.8zM67.3 321.9h.8v.8h-.8zM63.9 317.2h.8v.8h-.8zM62.8 323.0h.8v.8h-.8zM63.1 319.7h.8v.8h-.8zM65.9 323.4h.8v.8h-.8zM69.6 326.1h.8v.8h-.8zM63.3 329.6h.8v.8h-.8zM62.4 313.9h.8v.8h-.8zM62.5 321.3h.8v.8h-.8zM67.0 325.6h.8v.8h-.8zM65.6 316.5h.8v.8h-.8zM66.2 321.5h.8v.8h-.8zM64.1 316.6h.8v.8h-.8zM67.1 321.8h.8v.8h-.8zM65.5 321.8h.8v.8h-.8zM63.5 319.3h.8v.8h-.8zM63.2 320.8h.8v.8h-.8zM62.0 322.9h.8v.8h-.8zM61.7 321.3h.8v.8h-.8zM64.2 323.9h.8v.8h-.8zM55.6 320.0h.8v.8h-.8zM66.4 320.7h.8v.8h-.8zM64.4 320.0h.8v.8h-.8zM56.2 329.5h.8v.8h-.8zM63.5 322.8h.8v.8h-.8zM62.2 318.6h.8v.8h-.8zM58.5 318.2h.8v.8h-.8zM62.3 320.3h.8v.8h-.8zM63.8 326.4h.8v.8h-.8zM66.5 317.9h.8v.8h-.8zM62.5 322.6h.8v.8h-.8zM73.4 315.7h.8v.8h-.8zM62.3 317.5h.8v.8h-.8zM63.3 323.2h.8v.8h-.8zM67.6 325.0h.8v.8h-.8zM69.6 321.0h.8v.8h-.8zM65.0 314.9h.8v.8h-.8zM61.5 322.5h.8v.8h-.8zM61.6 327.8h.8v.8h-.8zM65.3 317.5h.8v.8h-.8zM69.2 315.2h.8v.8h-.8zM66.3 323.3h.8v.8h-.8zM60.1 320.9h.8v.8h-.8zM63.3 325.4h.8v.8h-.8zM64.7 318.9h.8v.8h-.8zM64.8 320.6h.8v.8h-.8zM60.4 322.7h.8v.8h-.8zM68.3 319.8h.8v.8h-.8zM64.7 316.7h.8v.8h-.8zM64.3 318.1h.8v.8h-.8zM63.5 323.1h.8v.8h-.8zM70.1 319.8h.8v.8h-.8zM64.2 316.1h.8v.8h-.8zM63.3 323.4h.8v.8h-.8zM62.2 319.7h.8v.8h-.8zM64.0 314.9h.8v.8h-.8zM61.8 322.8h.8v.8h-.8zM66.2 314.6h.8v.8h-.8zM62.3 318.5h.8v.8h-.8zM71.7 319.4h.8v.8h-.8zM70.7 327.5h.8v.8h-.8zM66.6 325.5h.8v.8h-.8zM57.2 318.3h.8v.8h-.8zM64.4 322.8h.8v.8h-.8zM68.1 322.2h.8v.8h-.8zM61.6 321.4h.8v.8h-.8zM64.3 322.5h.8v.8h-.8zM63.4 320.2h.8v.8h-.8zM55.8 317.7h.8v.8h-.8zM67.3 322.6h.8v.8h-.8zM63.4 322.9h.8v.8h-.8zM64.1 319.9h.8v.8h-.8zM66.6 328.9h.8v.8h-.8zM60.6 316.8h.8v.8h-.8zM64.2 324.0h.8v.8h-.8zM62.2 317.7h.8v.8h-.8zM64.6 325.9h.8v.8h-.8zM62.5 319.0h.8v.8h-.8zM62.1 324.5h.8v.8h-.8zM65.3 323.2h.8v.8h-.8zM68.6 326.3h.8v.8h-.8zM62.5 326.7h.8v.8h-.8zM66.9 328.3h.8v.8h-.8zM69.2 325.1h.8v.8h-.8zM59.6 317.7h.8v.8h-.8zM65.3 321.6h.8v.8h-.8zM66.4 323.5h.8v.8h-.8zM69.2 326.0h.8v.8h-.8zM65.5 326.8h.8v.8h-.8zM69.6 321.9h.8v.8h-.8zM68.8 323.5h.8v.8h-.8zM56.6 324.8h.8v.8h-.8zM63.6 326.2h.8v.8h-.8zM60.9 322.5h.8v.8h-.8zM59.1 328.8h.8v.8h-.8zM69.1 323.5h.8v.8h-.8zM58.1 318.8h.8v.8h-.8zM65.8 321.8h.8v.8h-.8zM66.3 321.2h.8v.8h-.8zM65.9 324.0h.8v.8h-.8zM61.4 323.5h.8v.8h-.8zM66.5 322.0h.8v.8h-.8zM64.3 317.8h.8v.8h-.8zM67.6 332.5h.8v.8h-.8zM67.7 321.3h.8v.8h-.8zM68.1 320.2h.8v.8h-.8zM65.0 313.8h.8v.8h-.8zM64.3 318.7h.8v.8h-.8zM67.1 324.3h.8v.8h-.8zM63.5 319.7h.8v.8h-.8zM64.5 321.3h.8v.8h-.8zM63.0 325.5h.8v.8h-.8zM60.3 320.4h.8v.8h-.8zM63.8 324.5h.8v.8h-.8zM65.8 319.0h.8v.8h-.8zM65.3 326.5h.8v.8h-.8zM61.0 324.3h.8v.8h-.8zM72.7 323.4h.8v.8h-.8zM70.6 314.2h.8v.8h-.8zM66.9 319.1h.8v.8h-.8zM66.4 321.7h.8v.8h-.8zM63.9 325.9h.8v.8h-.8zM66.0 326.1h.8v.8h-.8zM63.3 320.3h.8v.8h-.8zM65.4 320.4h.8v.8h-.8zM62.5 321.0h.8v.8h-.8zM66.5 321.8h.8v.8h-.8zM60.0 323.9h.8v.8h-.8zM60.4 326.8h.8v.8h-.8zM65.2 323.0h.8v.8h-.8zM68.1 323.7h.8v.8h-.8zM61.2 320.8h.8v.8h-.8zM58.8 320.4h.8v.8h-.8zM64.3 323.7h.8v.8h-.8zM62.0 328.0h.8v.8h-.8zM66.0 320.6h.8v.8h-.8zM72.9 325.7h.8v.8h-.8zM67.2 322.3h.8v.8h-.8zM64.1 321.2h.8v.8h-.8zM63.2 320.9h.8v.8h-.8zM65.0 319.8h.8v.8h-.8zM63.1 319.6h.8v.8h-.8zM57.8 319.6h.8v.8h-.8zM58.1 317.1h.8v.8h-.8zM65.5 319.3h.8v.8h-.8zM61.9 327.8h.8v.8h-.8zM65.9 320.1h.8v.8h-.8zM66.8 319.6h.8v.8h-.8zM60.9 316.5h.8v.8h-.8zM66.7 321.5h.8v.8h-.8zM65.2 324.4h.8v.8h-.8zM61.7 314.0h.8v.8h-.8zM64.3 316.0h.8v.8h-.8zM67.7 319.1h.8v.8h-.8zM59.4 324.3h.8v.8h-.8zM62.9 315.2h.8v.8h-.8zM67.9 323.2h.8v.8h-.8zM63.3 322.8h.8v.8h-.8zM63.4 319.4h.8v.8h-.8zM61.9 324.8h.8v.8h-.8zM66.5 316.7h.8v.8h-.8zM60.4 321.2h.8v.8h-.8zM63.0 314.7h.8v.8h-.8zM65.3 315.0h.8v.8h-.8zM62.1 328.3h.8v.8h-.8zM69.7 324.4h.8v.8h-.8zM68.3 323.9h.8v.8h-.8zM63.7 323.6h.8v.8h-.8zM65.6 320.0h.8v.8h-.8zM64.9 320.4h.8v.8h-.8zM64.0 325.3h.8v.8h-.8zM62.2 318.1h.8v.8h-.8zM59.0 325.2h.8v.8h-.8zM66.4 323.0h.8v.8h-.8zM60.6 323.2h.8v.8h-.8zM64.2 314.7h.8v.8h-.8zM60.7 324.5h.8v.8h-.8zM65.0 319.7h.8v.8h-.8zM61.6 323.5h.8v.8h-.8zM63.2 318.2h.8v.8h-.8zM65.2 324.0h.8v.8h-.8zM63.7 322.8h.8v.8h-.8zM68.8 315.3h.8v.8h-.8zM65.7 319.4h.8v.8h-.8zM64.4 321.1h.8v.8h-.8zM64.2 324.5h.8v.8h-.8zM63.0 317.9h.8v.8h-.8zM63.5 320.6h.8v.8h-.8zM60.3 319.6h.8v.8h-.8zM67.7 320.4h.8v.8h-.8zM58.6 321.4h.8v.8h-.8zM67.8 324.7h.8v.8h-.8zM67.1 327.2h.8v.8h-.8zM64.9 320.5h.8v.8h-.8zM70.0 326.8h.8v.8h-.8zM61.7 325.2h.8v.8h-.8zM63.2 319.2h.8v.8h-.8zM66.9 326.5h.8v.8h-.8zM62.0 324.1h.8v.8h-.8zM70.2 315.4h.8v.8h-.8zM62.9 324.4h.8v.8h-.8zM66.9 318.5h.8v.8h-.8zM67.8 320.8h.8v.8h-.8zM66.5 323.7h.8v.8h-.8zM68.9 320.6h.8v.8h-.8zM70.2 323.2h.8v.8h-.8zM64.9 319.6h.8v.8h-.8zM64.2 321.9h.8v.8h-.8zM62.9 323.3h.8v.8h-.8zM66.6 321.8h.8v.8h-.8zM64.2 322.2h.8v.8h-.8zM65.3 327.1h.8v.8h-.8zM61.1 322.8h.8v.8h-.8zM68.7 318.1h.8v.8h-.8zM63.4 327.5h.8v.8h-.8zM65.2 317.1h.8v.8h-.8zM58.8 318.9h.8v.8h-.8zM64.3 320.8h.8v.8h-.8zM68.8 318.7h.8v.8h-.8zM61.7 327.2h.8v.8h-.8zM69.8 321.5h.8v.8h-.8zM59.3 320.3h.8v.8h-.8zM65.3 322.7h.8v.8h-.8zM61.0 322.8h.8v.8h-.8zM64.1 316.9h.8v.8h-.8zM62.4 320.2h.8v.8h-.8zM66.4 317.5h.8v.8h-.8zM63.8 326.4h.8v.8h-.8zM59.4 321.1h.8v.8h-.8zM66.7 311.7h.8v.8h-.8zM66.9 318.0h.8v.8h-.8zM64.8 318.9h.8v.8h-.8zM58.5 314.8h.8v.8h-.8zM65.8 325.1h.8v.8h-.8zM59.9 322.2h.8v.8h-.8zM64.2 327.1h.8v.8h-.8zM67.6 329.7h.8v.8h-.8zM67.2 325.7h.8v.8h-.8zM66.7 317.6h.8v.8h-.8zM63.1 324.7h.8v.8h-.8zM68.2 320.6h.8v.8h-.8zM60.0 315.8h.8v.8h-.8zM59.6 320.1h.8v.8h-.8zM62.3 316.3h.8v.8h-.8zM64.3 320.1h.8v.8h-.8zM63.9 324.5h.8v.8h-.8zM63.5 326.4h.8v.8h-.8zM61.8 322.3h.8v.8h-.8zM72.2 326.7h.8v.8h-.8zM62.9 321.1h.8v.8h-.8zM64.7 320.3h.8v.8h-.8zM65.9 329.9h.8v.8h-.8zM64.8 318.5h.8v.8h-.8zM65.9 327.1h.8v.8h-.8zM63.6 324.8h.8v.8h-.8zM62.0 326.0h.8v.8h-.8zM64.3 322.9h.8v.8h-.8zM68.3 319.4h.8v.8h-.8zM65.1 323.0h.8v.8h-.8zM68.5 321.0h.8v.8h-.8zM60.2 317.1h.8v.8h-.8zM66.0 322.6h.8v.8h-.8zM63.7 327.2h.8v.8h-.8zM66.2 325.8h.8v.8h-.8zM67.0 319.0h.8v.8h-.8zM64.8 320.8h.8v.8h-.8zM62.0 320.9h.8v.8h-.8zM64.9 318.3h.8v.8h-.8zM64.5 314.4h.8v.8h-.8zM70.5 321.4h.8v.8h-.8zM66.7 312.9h.8v.8h-.8zM64.2 321.8h.8v.8h-.8zM67.0 319.3h.8v.8h-.8zM58.2 327.1h.8v.8h-.8zM63.1 322.3h.8v.8h-.8zM65.0 321.7h.8v.8h-.8zM68.0 325.3h.8v.8h-.8zM64.7 327.4h.8v.8h-.8zM67.0 322.9h.8v.8h-.8zM60.5 323.2h.8v.8h-.8zM66.9 316.8h.8v.8h-.8zM63.8 328.7h.8v.8h-.8zM67.0 324.2h.8v.8h-.8zM68.4 325.6h.8v.8h-.8zM61.6 321.1h.8v.8h-.8zM67.1 321.7h.8v.8h-.8z"/>
<path fill="#e41010" fill-opacity="0.25" d="M42.7 311.8h.8v.8h-.8zM76.7 327.9h.8v.8h-.8zM42.7 332.9h.8v.8h-.8zM55.2 314.8h.8v.8h-.8zM43.6 327.1h.8v.8h-.8zM69.6 328.1h.8v.8h-.8zM49.5 302.0h.8v.8h-.8zM38.4 325.5h.8v.8h-.8zM39.8 311.6h.8v.8h-.8zM36.9 304.8h.8v.8h-.8zM74.7 304.7h.8v.8h-.8zM38.5 325.6h.8v.8h-.8zM63.3 330.4h.8v.8h-.8zM41.9 321.4h.8v.8h-.8zM81.2 315.3h.8v.8h-.8zM60.0 315.9h.8v.8h-.8zM30.9 314.3h.8v.8h-.8zM40.6 328.7h.8v.8h-.8zM66.8 339.8h.8v.8h-.8zM41.3 318.1h.8v.8h-.8zM62.0 317.1h.8v.8h-.8zM40.9 320.4h.8v.8h-.8zM68.2 316.3h.8v.8h-.8zM79.5 317.0h.8v.8h-.8zM69.2 328.9h.8v.8h-.8zM47.0 322.3h.8v.8h-.8zM73.4 311.7h.8v.8h-.8zM70.9 320.3h.8v.8h-.8zM67.6 331.2h.8v.8h-.8zM60.8 316.6h.8v.8h-.8zM55.9 312.8h.8v.8h-.8zM24.8 336.9h.8v.8h-.8zM43.2 301.9h.8v.8h-.8zM59.1 307.2h.8v.8h-.8zM60.5 334.9h.8v.8h-.8zM74.4 330.0h.8v.8h-.8zM49.7 314.5h.8v.8h-.8zM23.8 311.9h.8v.8h-.8zM50.3 315.9h.8v.8h-.8zM78.8 318.8h.8v.8h-.8zM50.3 329.9h.8v.8h-.8zM46.5 329.2h.8v.8h-.8zM62.2 315.3h.8v.8h-.8zM66.2 319.6h.8v.8h-.8zM47.8 327.3h.8v.8h-.8zM56.6 318.3h.8v.8h-.8zM69.0 334.2h.8v.8h-.8zM54.7 317.4h.8v.8h-.8zM50.7 323.3h.8v.8h-.8zM71.1 308.5h.8v.8h-.8zM78.8 325.5h.8v.8h-.8zM55.7 344.9h.8v.8h-.8zM74.3 337.8h.8v.8h-.8zM50.0 331.8h.8v.8h-.8zM31.2 317.7h.8v.8h-.8zM40.3 333.2h.8v.8h-.8zM61.4 310.8h.8v.8h-.8zM69.5 324.8h.8v.8h-.8zM63.6 347.8h.8v.8h-.8zM29.6 330.0h.8v.8h-.8zM45.6 325.1h.8v.8h-.8zM63.1 333.8h.8v.8h-.8zM67.8 327.4h.8v.8h-.8zM20.8 318.3h.8v.8h-.8zM57.7 319.4h.8v.8h-.8zM45.7 328.6h.8v.8h-.8zM56.1 318.3h.8v.8h-.8zM51.0 315.8h.8v.8h-.8zM44.5 317.3h.8v.8h-.8zM68.1 335.8h.8v.8h-.8zM62.0 315.6h.8v.8h-.8zM48.3 326.0h.8v.8h-.8zM46.5 328.7h.8v.8h-.8zM77.7 334.4h.8v.8h-.8zM44.8 324.1h.8v.8h-.8zM54.5 326.7h.8v.8h-.8zM40.7 323.3h.8v.8h-.8zM58.3 315.2h.8v.8h-.8zM56.8 326.8h.8v.8h-.8zM52.9 317.4h.8v.8h-.8z"/>
</g>
<line x1="29.60" y1="304.40" x2="87.50" y2="304.40" stroke="#999" stroke-width="0.6" />
<line x1="87.50" y1="304.40" x2="87.50" y2="350.40" stroke="#aaa" stroke-width="0.6" />
<line x1="45.50" y1="304.40" x2="45.50" y2="350.40" stroke="#666" stroke-width="0.7" />
<line x1="29.60" y1="336.20" x2="87.50" y2="336.20" stroke="#666" stroke-width="0.7" />
<line x1="29.60" y1="304.10" x2="29.60" y2="350.40" stroke="#444" stroke-width="0.7" />
<line x1="29.60" y1="350.40" x2="87.50" y2="350.40" stroke="#444" stroke-width="0.7" />
<line x1="28.40" y1="350.40" x2="29.60" y2="350.40" stroke="#555" stroke-width="0.4" />
<text x="27.00" y="351.40" font-family='"Liberation Sans", sans-serif' font-size="2.8" font-weight="normal" font-style="normal" text-anchor="middle" fill="#777" >0</text>
<line x1="29.60" y1="350.40" x2="29.60" y2="351.60" stroke="#555" stroke-width="0.4" />
<text x="29.60" y="354.00" font-family='"Liberation Sans", sans-serif' font-size="2.8" font-weight="normal" font-style="normal" text-anchor="middle" fill="#777" >0</text>
<line x1="28.40" y1="338.90" x2="29.60" y2="338.90" stroke="#555" stroke-width="0.4" />
<text x="27.00" y="339.90" font-family='"Liberation Sans", sans-serif' font-size="2.8" font-weight="normal" font-style="normal" text-anchor="middle" fill="#777" >1</text>
<line x1="44.08" y1="350.40" x2="44.08" y2="351.60" stroke="#555" stroke-width="0.4" />
<text x="44.08" y="354.00" font-family='"Liberation Sans", sans-serif' font-size="2.8" font-weight="normal" font-style="normal" text-anchor="middle" fill="#777" >1</text>
<line x1="28.40" y1="327.40" x2="29.60" y2="327.40" stroke="#555" stroke-width="0.4" />
<text x="27.00" y="328.40" font-family='"Liberation Sans", sans-serif' font-size="2.8" font-weight="normal" font-style="normal" text-anchor="middle" fill="#777" >2</text>
<line x1="58.55" y1="350.40" x2="58.55" y2="351.60" stroke="#555" stroke-width="0.4" />
<text x="58.55" y="354.00" font-family='"Liberation Sans", sans-serif' font-size="2.8" font-weight="normal" font-style="normal" text-anchor="middle" fill="#777" >2</text>
<line x1="28.40" y1="315.90" x2="29.60" y2="315.90" stroke="#555" stroke-width="0.4" />
<text x="27.00" y="316.90" font-family='"Liberation Sans", sans-serif' font-size="2.8" font-weight="normal" font-style="normal" text-anchor="middle" fill="#777" >3</text>
<line x1="73.03" y1="350.40" x2="73.03" y2="351.60" stroke="#555" stroke-width="0.4" />
<text x="73.03" y="354.00" font-family='"Liberation Sans", sans-serif' font-size="2.8" font-weight="normal" font-style="normal" text-anchor="middle" fill="#777" >3</text>
<line x1="28.40" y1="304.40" x2="29.60" y2="304.40" stroke="#555" stroke-width="0.4" />
<text x="27.00" y="305.40" font-family='"Liberation Sans", sans-serif' font-size="2.8" font-weight="normal" font-style="normal" text-anchor="middle" fill="#777" >4</text>
<line x1="87.50" y1="350.40" x2="87.50" y2="351.60" stroke="#555" stroke-width="0.4" />
<text x="87.50" y="354.00" font-family='"Liberation Sans", sans-serif' font-size="2.8" font-weight="normal" font-style="normal" text-anchor="middle" fill="#777" >4</text>
<rect x="109.5" y="305.5" width="59.19999999999999" height="45.69999999999999" fill="#fff"/>
<g clip-path="url(#fc14)">
<ellipse cx="115.0" cy="341.5" rx="2.38" ry="3.50" fill="#e80808" fill-opacity="0.9" filter="url(#b1)"/>
<ellipse cx="137.3" cy="322.6" rx="3.75" ry="4.50" fill="#e80808" fill-opacity="0.9" filter="url(#b1)" transform="rotate(25 137.3 322.6)"/>
<path fill="#e41010" fill-opacity="0.9" d="M117.3 344.2h.8v.8h-.8zM112.4 336.1h.8v.8h-.8zM114.8 343.6h.8v.8h-.8zM114.7 337.4h.8v.8h-.8zM114.1 345.5h.8v.8h-.8zM112.4 344.4h.8v.8h-.8zM116.0 342.8h.8v.8h-.8zM116.5 340.0h.8v.8h-.8zM114.8 346.5h.8v.8h-.8zM114.3 340.3h.8v.8h-.8zM112.3 340.2h.8v.8h-.8zM116.4 345.0h.8v.8h-.8zM116.2 343.3h.8v.8h-.8zM116.1 342.4h.8v.8h-.8zM116.9 341.1h.8v.8h-.8zM117.0 341.3h.8v.8h-.8zM112.0 337.9h.8v.8h-.8zM114.6 340.2h.8v.8h-.8zM112.7 339.4h.8v.8h-.8zM115.4 342.6h.8v.8h-.8zM116.6 339.1h.8v.8h-.8zM115.7 344.4h.8v.8h-.8zM115.7 346.4h.8v.8h-.8zM114.1 341.5h.8v.8h-.8zM115.3 340.4h.8v.8h-.8zM114.9 342.2h.8v.8h-.8zM114.9 340.1h.8v.8h-.8zM114.2 341.3h.8v.8h-.8zM112.1 342.0h.8v.8h-.8zM113.0 340.8h.8v.8h-.8zM113.0 341.8h.8v.8h-.8zM114.3 340.8h.8v.8h-.8zM113.6 341.8h.8v.8h-.8zM118.0 336.5h.8v.8h-.8zM116.0 342.1h.8v.8h-.8zM114.3 338.0h.8v.8h-.8zM117.9 342.0h.8v.8h-.8zM116.9 340.5h.8v.8h-.8zM113.6 344.5h.8v.8h-.8zM116.4 340.7h.8v.8h-.8zM114.6 343.2h.8v.8h-.8zM113.5 339.2h.8v.8h-.8zM114.9 344.3h.8v.8h-.8zM116.6 342.0h.8v.8h-.8zM117.5 341.1h.8v.8h-.8zM114.1 347.9h.8v.8h-.8zM114.1 343.2h.8v.8h-.8zM116.0 341.8h.8v.8h-.8zM115.4 343.4h.8v.8h-.8zM116.0 339.9h.8v.8h-.8zM115.0 345.3h.8v.8h-.8zM116.4 340.3h.8v.8h-.8zM115.1 338.8h.8v.8h-.8zM112.6 340.1h.8v.8h-.8zM118.0 339.8h.8v.8h-.8zM111.4 341.2h.8v.8h-.8zM113.7 343.6h.8v.8h-.8zM117.3 340.6h.8v.8h-.8zM115.2 339.1h.8v.8h-.8zM117.3 339.5h.8v.8h-.8zM115.1 348.0h.8v.8h-.8zM113.3 342.0h.8v.8h-.8zM114.9 342.8h.8v.8h-.8zM115.9 345.6h.8v.8h-.8zM115.9 343.2h.8v.8h-.8zM112.7 342.6h.8v.8h-.8zM112.6 344.8h.8v.8h-.8zM114.9 344.2h.8v.8h-.8zM114.1 342.2h.8v.8h-.8zM115.2 343.1h.8v.8h-.8zM114.8 339.9h.8v.8h-.8zM114.3 339.8h.8v.8h-.8zM113.3 338.2h.8v.8h-.8zM112.3 346.7h.8v.8h-.8zM113.7 338.5h.8v.8h-.8zM116.9 342.3h.8v.8h-.8zM114.8 344.6h.8v.8h-.8zM118.5 339.2h.8v.8h-.8zM117.7 343.1h.8v.8h-.8zM117.2 340.1h.8v.8h-.8zM118.1 344.7h.8v.8h-.8zM110.2 345.0h.8v.8h-.8zM117.5 337.8h.8v.8h-.8zM115.6 341.1h.8v.8h-.8zM115.4 339.2h.8v.8h-.8zM116.2 343.6h.8v.8h-.8zM114.8 341.4h.8v.8h-.8zM111.8 343.0h.8v.8h-.8zM112.7 341.6h.8v.8h-.8zM113.5 348.7h.8v.8h-.8zM115.0 345.7h.8v.8h-.8zM115.0 341.4h.8v.8h-.8zM116.4 341.5h.8v.8h-.8zM119.4 341.0h.8v.8h-.8zM118.0 338.3h.8v.8h-.8zM113.3 343.3h.8v.8h-.8zM112.5 346.9h.8v.8h-.8zM116.0 341.8h.8v.8h-.8zM118.3 340.1h.8v.8h-.8zM113.6 334.4h.8v.8h-.8zM111.4 340.7h.8v.8h-.8zM111.2 343.6h.8v.8h-.8zM116.8 342.8h.8v.8h-.8zM112.0 339.2h.8v.8h-.8zM112.5 343.5h.8v.8h-.8zM116.9 340.9h.8v.8h-.8zM115.1 342.2h.8v.8h-.8zM116.4 339.1h.8v.8h-.8zM113.2 343.7h.8v.8h-.8zM116.0 342.9h.8v.8h-.8zM115.1 343.6h.8v.8h-.8zM115.9 339.9h.8v.8h-.8zM118.2 344.5h.8v.8h-.8zM114.6 341.3h.8v.8h-.8zM113.7 337.7h.8v.8h-.8zM113.1 337.6h.8v.8h-.8zM113.8 342.4h.8v.8h-.8zM114.9 337.6h.8v.8h-.8zM114.7 339.8h.8v.8h-.8zM113.0 344.6h.8v.8h-.8zM113.1 344.0h.8v.8h-.8zM111.9 342.3h.8v.8h-.8zM113.7 344.2h.8v.8h-.8zM115.8 339.4h.8v.8h-.8zM116.2 345.1h.8v.8h-.8zM117.5 345.6h.8v.8h-.8zM114.4 347.5h.8v.8h-.8zM113.9 341.2h.8v.8h-.8zM112.1 340.9h.8v.8h-.8zM112.3 341.8h.8v.8h-.8zM111.7 346.7h.8v.8h-.8zM116.6 346.0h.8v.8h-.8zM117.2 342.0h.8v.8h-.8zM115.9 342.1h.8v.8h-.8zM111.5 338.3h.8v.8h-.8zM114.3 344.1h.8v.8h-.8zM112.4 342.1h.8v.8h-.8zM114.0 343.6h.8v.8h-.8zM116.5 338.7h.8v.8h-.8zM112.9 345.6h.8v.8h-.8zM117.0 341.5h.8v.8h-.8zM116.6 341.7h.8v.8h-.8zM115.9 340.5h.8v.8h-.8zM116.1 346.2h.8v.8h-.8zM117.8 345.1h.8v.8h-.8zM115.3 344.2h.8v.8h-.8zM114.2 340.7h.8v.8h-.8zM115.3 338.5h.8v.8h-.8zM115.4 336.8h.8v.8h-.8zM118.1 343.9h.8v.8h-.8zM115.6 339.6h.8v.8h-.8zM113.9 340.5h.8v.8h-.8zM111.9 340.4h.8v.8h-.8zM113.3 343.9h.8v.8h-.8zM117.6 345.6h.8v.8h-.8zM112.5 337.7h.8v.8h-.8zM117.7 343.7h.8v.8h-.8zM117.0 343.4h.8v.8h-.8zM115.5 347.5h.8v.8h-.8zM116.7 343.5h.8v.8h-.8zM113.2 342.0h.8v.8h-.8zM117.6 343.1h.8v.8h-.8zM116.8 341.0h.8v.8h-.8zM116.4 340.0h.8v.8h-.8zM114.7 344.6h.8v.8h-.8zM118.3 340.7h.8v.8h-.8zM114.6 340.9h.8v.8h-.8zM114.7 341.6h.8v.8h-.8zM116.7 342.5h.8v.8h-.8zM115.0 342.8h.8v.8h-.8zM111.7 341.1h.8v.8h-.8zM118.8 338.7h.8v.8h-.8zM113.9 342.3h.8v.8h-.8zM116.9 340.8h.8v.8h-.8zM113.0 345.9h.8v.8h-.8zM110.6 339.0h.8v.8h-.8zM113.6 335.1h.8v.8h-.8zM117.6 347.0h.8v.8h-.8zM112.2 340.4h.8v.8h-.8zM114.6 343.5h.8v.8h-.8zM114.7 343.1h.8v.8h-.8zM115.9 341.2h.8v.8h-.8zM115.1 345.5h.8v.8h-.8zM115.4 343.4h.8v.8h-.8zM115.0 343.5h.8v.8h-.8zM118.1 341.8h.8v.8h-.8zM114.1 339.5h.8v.8h-.8zM117.0 339.4h.8v.8h-.8zM115.9 348.6h.8v.8h-.8zM115.4 346.6h.8v.8h-.8zM115.1 341.3h.8v.8h-.8zM116.1 339.1h.8v.8h-.8zM110.4 341.4h.8v.8h-.8zM113.7 342.1h.8v.8h-.8zM118.8 343.3h.8v.8h-.8zM112.1 342.7h.8v.8h-.8zM111.6 335.4h.8v.8h-.8zM119.1 338.9h.8v.8h-.8zM110.8 341.3h.8v.8h-.8zM114.7 342.9h.8v.8h-.8zM114.7 341.0h.8v.8h-.8zM116.7 341.1h.8v.8h-.8zM113.6 342.6h.8v.8h-.8zM114.0 344.6h.8v.8h-.8zM115.1 341.0h.8v.8h-.8zM114.2 343.3h.8v.8h-.8zM117.0 340.7h.8v.8h-.8zM110.8 343.8h.8v.8h-.8zM113.6 343.3h.8v.8h-.8zM113.9 342.7h.8v.8h-.8zM114.6 339.3h.8v.8h-.8zM112.5 341.3h.8v.8h-.8zM115.3 336.9h.8v.8h-.8zM110.4 342.3h.8v.8h-.8zM119.2 339.3h.8v.8h-.8zM114.5 338.5h.8v.8h-.8zM112.6 345.8h.8v.8h-.8zM111.9 342.3h.8v.8h-.8zM113.6 343.2h.8v.8h-.8zM118.1 342.0h.8v.8h-.8zM114.5 344.7h.8v.8h-.8zM114.5 336.3h.8v.8h-.8zM117.6 340.1h.8v.8h-.8zM115.5 347.9h.8v.8h-.8zM116.8 342.5h.8v.8h-.8zM118.3 339.0h.8v.8h-.8zM111.8 338.3h.8v.8h-.8zM115.2 342.2h.8v.8h-.8zM113.7 347.7h.8v.8h-.8zM116.6 342.1h.8v.8h-.8zM113.7 341.4h.8v.8h-.8zM115.6 340.5h.8v.8h-.8zM120.6 346.5h.8v.8h-.8zM116.3 341.7h.8v.8h-.8zM111.7 344.6h.8v.8h-.8zM113.7 344.6h.8v.8h-.8zM115.9 337.8h.8v.8h-.8zM115.2 341.1h.8v.8h-.8zM114.6 341.4h.8v.8h-.8zM115.3 341.0h.8v.8h-.8zM116.7 343.2h.8v.8h-.8zM114.8 341.2h.8v.8h-.8zM114.4 340.5h.8v.8h-.8zM114.8 342.2h.8v.8h-.8zM114.5 336.3h.8v.8h-.8zM115.2 339.0h.8v.8h-.8zM115.0 348.7h.8v.8h-.8zM117.0 334.8h.8v.8h-.8zM111.6 344.4h.8v.8h-.8zM113.5 337.1h.8v.8h-.8zM111.7 341.1h.8v.8h-.8zM113.5 341.5h.8v.8h-.8zM114.5 341.6h.8v.8h-.8zM114.2 339.3h.8v.8h-.8zM116.4 346.0h.8v.8h-.8zM113.4 341.1h.8v.8h-.8zM119.0 338.4h.8v.8h-.8zM112.9 343.1h.8v.8h-.8zM116.8 341.5h.8v.8h-.8zM117.3 341.2h.8v.8h-.8zM138.0 322.9h.8v.8h-.8zM138.2 323.2h.8v.8h-.8zM140.2 327.0h.8v.8h-.8zM142.1 324.3h.8v.8h-.8zM136.1 319.7h.8v.8h-.8zM135.7 323.3h.8v.8h-.8zM135.7 323.1h.8v.8h-.8zM140.3 319.4h.8v.8h-.8zM131.4 325.3h.8v.8h-.8zM132.7 328.1h.8v.8h-.8zM138.6 317.7h.8v.8h-.8zM135.3 318.5h.8v.8h-.8zM147.5 319.9h.8v.8h-.8zM132.2 316.6h.8v.8h-.8zM134.0 330.1h.8v.8h-.8zM141.6 320.8h.8v.8h-.8zM139.6 329.0h.8v.8h-.8zM134.6 323.8h.8v.8h-.8zM138.6 322.7h.8v.8h-.8zM137.0 320.2h.8v.8h-.8zM139.4 321.5h.8v.8h-.8zM138.7 326.1h.8v.8h-.8zM132.2 322.0h.8v.8h-.8zM135.6 325.1h.8v.8h-.8zM134.5 326.1h.8v.8h-.8zM138.2 326.8h.8v.8h-.8zM141.2 318.9h.8v.8h-.8zM135.4 326.3h.8v.8h-.8zM138.9 325.8h.8v.8h-.8zM137.4 322.5h.8v.8h-.8zM136.3 315.0h.8v.8h-.8zM135.6 325.2h.8v.8h-.8zM137.4 320.6h.8v.8h-.8zM134.8 326.9h.8v.8h-.8zM135.8 321.6h.8v.8h-.8zM136.6 326.7h.8v.8h-.8zM139.3 321.6h.8v.8h-.8zM137.7 318.3h.8v.8h-.8zM135.3 325.7h.8v.8h-.8zM138.5 321.5h.8v.8h-.8zM134.8 320.1h.8v.8h-.8zM138.5 325.8h.8v.8h-.8zM137.3 326.1h.8v.8h-.8zM140.4 325.0h.8v.8h-.8zM142.1 317.2h.8v.8h-.8zM139.7 322.5h.8v.8h-.8zM139.5 320.0h.8v.8h-.8zM138.3 318.7h.8v.8h-.8zM138.7 319.2h.8v.8h-.8zM140.7 323.1h.8v.8h-.8zM138.7 320.9h.8v.8h-.8zM138.1 320.3h.8v.8h-.8zM134.3 323.3h.8v.8h-.8zM137.2 318.1h.8v.8h-.8zM132.8 329.6h.8v.8h-.8zM139.9 324.9h.8v.8h-.8zM137.7 324.2h.8v.8h-.8zM135.0 330.9h.8v.8h-.8zM141.3 325.3h.8v.8h-.8zM134.1 317.6h.8v.8h-.8zM138.7 321.6h.8v.8h-.8zM139.0 322.4h.8v.8h-.8zM138.0 324.9h.8v.8h-.8zM138.1 318.0h.8v.8h-.8zM137.6 320.2h.8v.8h-.8zM134.7 321.9h.8v.8h-.8zM141.2 323.2h.8v.8h-.8zM137.9 318.8h.8v.8h-.8zM137.8 324.0h.8v.8h-.8zM135.5 328.2h.8v.8h-.8zM136.5 326.6h.8v.8h-.8zM135.8 323.7h.8v.8h-.8zM133.8 324.4h.8v.8h-.8zM142.7 321.7h.8v.8h-.8zM134.7 322.7h.8v.8h-.8zM136.1 325.7h.8v.8h-.8zM131.0 317.6h.8v.8h-.8zM138.4 324.3h.8v.8h-.8zM133.3 323.8h.8v.8h-.8zM137.7 323.1h.8v.8h-.8zM136.9 322.2h.8v.8h-.8zM141.1 319.1h.8v.8h-.8zM127.1 320.6h.8v.8h-.8zM130.4 320.4h.8v.8h-.8zM136.9 324.0h.8v.8h-.8zM133.5 323.2h.8v.8h-.8zM137.3 320.8h.8v.8h-.8zM137.9 319.7h.8v.8h-.8zM142.8 322.8h.8v.8h-.8zM137.9 321.7h.8v.8h-.8zM137.8 323.2h.8v.8h-.8zM136.5 322.6h.8v.8h-.8zM137.5 323.8h.8v.8h-.8zM140.4 323.9h.8v.8h-.8zM136.3 324.4h.8v.8h-.8zM136.3 324.0h.8v.8h-.8zM142.4 316.3h.8v.8h-.8zM138.3 321.6h.8v.8h-.8zM135.0 316.7h.8v.8h-.8zM131.9 324.3h.8v.8h-.8zM140.4 324.4h.8v.8h-.8zM138.8 319.1h.8v.8h-.8zM140.8 330.4h.8v.8h-.8zM139.3 320.5h.8v.8h-.8zM138.0 320.5h.8v.8h-.8zM135.7 317.7h.8v.8h-.8zM135.9 319.4h.8v.8h-.8zM140.0 320.2h.8v.8h-.8zM138.3 324.1h.8v.8h-.8zM137.9 328.5h.8v.8h-.8zM142.2 328.9h.8v.8h-.8zM136.7 321.6h.8v.8h-.8zM146.6 322.9h.8v.8h-.8zM135.7 326.9h.8v.8h-.8zM136.6 324.4h.8v.8h-.8zM140.9 328.1h.8v.8h-.8zM136.6 324.9h.8v.8h-.8zM137.2 325.5h.8v.8h-.8zM139.4 322.7h.8v.8h-.8zM137.2 323.8h.8v.8h-.8zM137.6 321.0h.8v.8h-.8zM143.3 316.9h.8v.8h-.8zM135.1 326.0h.8v.8h-.8zM140.0 319.5h.8v.8h-.8zM131.7 328.1h.8v.8h-.8zM139.3 323.5h.8v.8h-.8zM138.1 322.0h.8v.8h-.8zM139.7 320.5h.8v.8h-.8zM137.9 322.8h.8v.8h-.8zM136.5 326.1h.8v.8h-.8zM132.7 320.3h.8v.8h-.8zM137.5 323.7h.8v.8h-.8zM136.7 324.1h.8v.8h-.8zM141.0 322.7h.8v.8h-.8zM136.7 325.7h.8v.8h-.8zM135.4 326.0h.8v.8h-.8zM133.7 325.9h.8v.8h-.8zM135.9 327.9h.8v.8h-.8zM142.5 321.6h.8v.8h-.8zM139.2 325.7h.8v.8h-.8zM138.3 321.7h.8v.8h-.8zM138.8 322.6h.8v.8h-.8zM137.5 323.0h.8v.8h-.8zM138.0 322.2h.8v.8h-.8zM133.4 321.7h.8v.8h-.8zM128.1 319.6h.8v.8h-.8zM137.2 322.3h.8v.8h-.8zM135.5 323.2h.8v.8h-.8zM139.5 321.8h.8v.8h-.8zM137.2 318.9h.8v.8h-.8zM133.5 322.7h.8v.8h-.8zM135.0 327.2h.8v.8h-.8zM134.9 317.2h.8v.8h-.8zM138.4 321.5h.8v.8h-.8zM139.5 320.5h.8v.8h-.8zM141.1 323.5h.8v.8h-.8zM136.6 326.8h.8v.8h-.8zM134.7 320.1h.8v.8h-.8zM133.3 324.2h.8v.8h-.8zM133.3 318.9h.8v.8h-.8zM134.2 324.8h.8v.8h-.8zM141.6 325.0h.8v.8h-.8zM141.4 327.4h.8v.8h-.8zM134.0 320.5h.8v.8h-.8zM133.4 324.1h.8v.8h-.8zM138.1 324.3h.8v.8h-.8zM135.3 321.0h.8v.8h-.8zM134.2 321.0h.8v.8h-.8zM141.5 323.8h.8v.8h-.8zM141.0 325.0h.8v.8h-.8zM135.7 324.1h.8v.8h-.8zM131.1 326.0h.8v.8h-.8zM139.7 319.5h.8v.8h-.8zM140.8 320.6h.8v.8h-.8zM137.9 327.9h.8v.8h-.8zM141.7 320.1h.8v.8h-.8zM134.8 325.8h.8v.8h-.8zM137.9 325.0h.8v.8h-.8zM142.2 329.0h.8v.8h-.8zM138.4 318.6h.8v.8h-.8zM137.8 317.2h.8v.8h-.8zM135.1 322.1h.8v.8h-.8zM133.8 321.2h.8v.8h-.8zM135.1 323.5h.8v.8h-.8zM135.0 318.6h.8v.8h-.8zM136.7 324.4h.8v.8h-.8zM142.0 313.2h.8v.8h-.8zM139.5 316.3h.8v.8h-.8zM138.4 319.2h.8v.8h-.8zM135.5 319.6h.8v.8h-.8zM138.7 323.0h.8v.8h-.8zM138.8 323.2h.8v.8h-.8zM134.2 326.0h.8v.8h-.8zM143.6 322.7h.8v.8h-.8zM139.7 318.1h.8v.8h-.8zM138.6 319.8h.8v.8h-.8zM140.2 325.4h.8v.8h-.8zM136.3 326.4h.8v.8h-.8zM142.3 314.0h.8v.8h-.8zM139.1 329.9h.8v.8h-.8zM135.8 326.7h.8v.8h-.8zM140.8 318.5h.8v.8h-.8zM130.9 325.4h.8v.8h-.8zM137.2 329.1h.8v.8h-.8zM142.8 324.5h.8v.8h-.8zM138.3 325.7h.8v.8h-.8zM138.5 325.3h.8v.8h-.8zM135.5 323.1h.8v.8h-.8zM131.6 321.8h.8v.8h-.8zM137.2 319.7h.8v.8h-.8zM137.8 324.1h.8v.8h-.8zM139.2 320.7h.8v.8h-.8zM136.0 321.1h.8v.8h-.8zM137.5 321.1h.8v.8h-.8zM134.1 321.9h.8v.8h-.8zM135.5 321.6h.8v.8h-.8zM138.0 313.8h.8v.8h-.8zM137.0 324.0h.8v.8h-.8zM135.5 325.3h.8v.8h-.8zM138.1 322.2h.8v.8h-.8zM140.0 325.2h.8v.8h-.8zM135.2 322.2h.8v.8h-.8zM137.6 319.1h.8v.8h-.8zM139.4 323.0h.8v.8h-.8zM136.0 321.7h.8v.8h-.8zM140.4 330.0h.8v.8h-.8zM142.3 320.6h.8v.8h-.8zM133.3 320.6h.8v.8h-.8zM136.6 324.8h.8v.8h-.8zM136.6 325.3h.8v.8h-.8zM133.7 323.7h.8v.8h-.8zM135.6 325.5h.8v.8h-.8zM141.4 317.7h.8v.8h-.8zM135.3 326.8h.8v.8h-.8zM139.0 326.9h.8v.8h-.8zM136.7 320.6h.8v.8h-.8zM141.1 319.8h.8v.8h-.8zM139.7 323.0h.8v.8h-.8zM137.9 328.5h.8v.8h-.8zM138.4 320.2h.8v.8h-.8zM135.4 322.6h.8v.8h-.8zM128.9 321.2h.8v.8h-.8zM135.7 325.6h.8v.8h-.8zM146.0 317.9h.8v.8h-.8zM134.0 320.6h.8v.8h-.8zM133.1 320.4h.8v.8h-.8zM144.2 321.1h.8v.8h-.8zM135.2 319.9h.8v.8h-.8zM141.6 319.8h.8v.8h-.8zM138.6 323.1h.8v.8h-.8zM139.6 316.6h.8v.8h-.8zM136.9 322.9h.8v.8h-.8zM130.1 328.3h.8v.8h-.8zM138.8 319.7h.8v.8h-.8zM138.5 321.8h.8v.8h-.8zM139.0 318.4h.8v.8h-.8zM139.7 323.4h.8v.8h-.8zM134.7 324.4h.8v.8h-.8zM133.9 322.7h.8v.8h-.8zM136.8 326.4h.8v.8h-.8zM140.2 325.8h.8v.8h-.8zM139.7 320.7h.8v.8h-.8zM129.3 322.1h.8v.8h-.8zM141.4 319.3h.8v.8h-.8zM132.9 315.7h.8v.8h-.8zM133.2 321.6h.8v.8h-.8zM140.2 321.4h.8v.8h-.8zM132.7 323.0h.8v.8h-.8zM138.7 317.2h.8v.8h-.8zM134.8 323.2h.8v.8h-.8zM140.2 317.7h.8v.8h-.8zM135.4 321.3h.8v.8h-.8zM139.5 325.7h.8v.8h-.8zM143.6 321.2h.8v.8h-.8zM138.8 319.1h.8v.8h-.8zM143.4 319.4h.8v.8h-.8zM134.4 325.8h.8v.8h-.8zM135.4 323.7h.8v.8h-.8zM135.3 321.8h.8v.8h-.8zM145.8 323.0h.8v.8h-.8zM136.3 324.5h.8v.8h-.8zM136.0 330.4h.8v.8h-.8zM132.4 326.8h.8v.8h-.8zM139.8 323.7h.8v.8h-.8zM138.6 321.7h.8v.8h-.8zM140.6 325.8h.8v.8h-.8zM135.5 324.5h.8v.8h-.8zM132.6 320.1h.8v.8h-.8zM133.4 322.6h.8v.8h-.8zM138.0 321.2h.8v.8h-.8zM136.6 322.2h.8v.8h-.8zM137.0 324.4h.8v.8h-.8zM136.8 330.5h.8v.8h-.8zM140.2 324.5h.8v.8h-.8zM137.5 323.0h.8v.8h-.8zM141.0 322.2h.8v.8h-.8zM141.4 320.1h.8v.8h-.8zM134.3 318.1h.8v.8h-.8zM139.1 323.5h.8v.8h-.8zM138.0 311.6h.8v.8h-.8zM136.8 326.1h.8v.8h-.8zM137.6 318.0h.8v.8h-.8zM137.7 321.6h.8v.8h-.8zM135.2 327.6h.8v.8h-.8zM139.3 317.7h.8v.8h-.8zM141.5 317.8h.8v.8h-.8zM139.6 323.7h.8v.8h-.8zM138.2 323.9h.8v.8h-.8zM138.4 319.2h.8v.8h-.8zM138.0 322.3h.8v.8h-.8zM129.0 321.8h.8v.8h-.8zM132.8 325.0h.8v.8h-.8zM142.6 319.8h.8v.8h-.8zM134.5 325.2h.8v.8h-.8zM139.6 318.8h.8v.8h-.8zM129.8 323.4h.8v.8h-.8zM134.8 327.6h.8v.8h-.8zM133.3 325.1h.8v.8h-.8zM140.7 315.9h.8v.8h-.8zM140.1 319.5h.8v.8h-.8zM134.8 318.5h.8v.8h-.8zM140.9 315.3h.8v.8h-.8zM137.8 322.9h.8v.8h-.8zM141.6 323.2h.8v.8h-.8zM138.5 325.0h.8v.8h-.8zM137.8 325.5h.8v.8h-.8zM138.2 328.0h.8v.8h-.8zM137.7 326.3h.8v.8h-.8zM139.3 324.9h.8v.8h-.8zM135.2 326.6h.8v.8h-.8zM136.1 324.8h.8v.8h-.8zM130.5 327.1h.8v.8h-.8zM138.9 323.2h.8v.8h-.8zM137.8 321.5h.8v.8h-.8zM133.0 327.0h.8v.8h-.8zM139.0 317.3h.8v.8h-.8zM134.3 321.4h.8v.8h-.8zM140.4 325.9h.8v.8h-.8zM136.8 319.4h.8v.8h-.8zM137.6 325.2h.8v.8h-.8zM138.3 321.5h.8v.8h-.8zM135.0 317.6h.8v.8h-.8zM138.8 319.5h.8v.8h-.8zM137.5 320.2h.8v.8h-.8zM134.6 327.0h.8v.8h-.8zM138.6 326.3h.8v.8h-.8zM137.4 321.6h.8v.8h-.8zM141.3 326.5h.8v.8h-.8zM143.2 315.3h.8v.8h-.8zM139.4 328.5h.8v.8h-.8zM134.9 319.4h.8v.8h-.8zM137.1 325.9h.8v.8h-.8zM137.2 323.3h.8v.8h-.8zM137.6 321.0h.8v.8h-.8zM140.0 327.5h.8v.8h-.8zM138.5 321.5h.8v.8h-.8zM135.5 322.6h.8v.8h-.8zM134.2 324.8h.8v.8h-.8zM135.4 325.3h.8v.8h-.8zM132.5 322.0h.8v.8h-.8zM136.9 324.7h.8v.8h-.8zM134.8 322.2h.8v.8h-.8zM136.6 324.5h.8v.8h-.8zM141.8 318.2h.8v.8h-.8zM138.8 327.2h.8v.8h-.8zM136.2 322.6h.8v.8h-.8zM144.2 333.1h.8v.8h-.8zM138.7 326.2h.8v.8h-.8zM138.4 316.8h.8v.8h-.8zM137.6 321.2h.8v.8h-.8zM135.8 323.2h.8v.8h-.8zM139.0 316.5h.8v.8h-.8zM135.7 327.1h.8v.8h-.8zM135.9 325.7h.8v.8h-.8zM137.0 325.7h.8v.8h-.8zM137.4 323.2h.8v.8h-.8zM131.5 324.4h.8v.8h-.8zM136.2 317.8h.8v.8h-.8zM135.5 322.3h.8v.8h-.8zM136.6 324.1h.8v.8h-.8zM136.6 320.8h.8v.8h-.8zM137.3 321.8h.8v.8h-.8zM138.2 320.0h.8v.8h-.8zM137.4 326.4h.8v.8h-.8zM135.5 328.6h.8v.8h-.8zM137.0 318.8h.8v.8h-.8zM133.3 319.3h.8v.8h-.8zM137.0 319.0h.8v.8h-.8zM135.1 320.1h.8v.8h-.8zM136.0 316.6h.8v.8h-.8zM141.9 315.0h.8v.8h-.8zM138.2 323.3h.8v.8h-.8zM139.9 330.2h.8v.8h-.8zM133.8 324.3h.8v.8h-.8zM133.9 322.4h.8v.8h-.8zM137.4 317.7h.8v.8h-.8zM136.4 326.6h.8v.8h-.8zM140.4 320.5h.8v.8h-.8zM134.8 322.3h.8v.8h-.8zM134.2 323.3h.8v.8h-.8z"/>
<path fill="#e41010" fill-opacity="0.25" d="M136.2 335.0h.8v.8h-.8zM138.2 327.5h.8v.8h-.8zM151.7 326.5h.8v.8h-.8zM119.4 328.4h.8v.8h-.8zM143.4 315.0h.8v.8h-.8zM130.3 336.3h.8v.8h-.8zM128.3 332.5h.8v.8h-.8zM141.7 330.6h.8v.8h-.8zM124.1 320.2h.8v.8h-.8zM124.2 329.7h.8v.8h-.8zM118.9 308.4h.8v.8h-.8zM142.5 314.3h.8v.8h-.8zM133.8 317.3h.8v.8h-.8zM120.8 340.7h.8v.8h-.8zM148.9 323.2h.8v.8h-.8zM129.9 327.9h.8v.8h-.8zM126.9 322.5h.8v.8h-.8zM134.5 321.0h.8v.8h-.8zM129.0 328.8h.8v.8h-.8zM131.3 320.1h.8v.8h-.8zM135.5 331.6h.8v.8h-.8zM133.3 327.1h.8v.8h-.8zM140.7 320.9h.8v.8h-.8zM130.1 330.0h.8v.8h-.8zM129.8 323.0h.8v.8h-.8zM117.2 324.4h.8v.8h-.8zM119.1 323.2h.8v.8h-.8zM133.5 323.7h.8v.8h-.8zM130.3 320.4h.8v.8h-.8zM135.2 326.2h.8v.8h-.8zM128.0 334.1h.8v.8h-.8zM130.6 329.9h.8v.8h-.8zM144.7 335.8h.8v.8h-.8zM138.0 321.1h.8v.8h-.8zM131.3 313.2h.8v.8h-.8zM145.9 310.7h.8v.8h-.8zM122.2 322.3h.8v.8h-.8zM118.2 330.6h.8v.8h-.8zM139.2 327.7h.8v.8h-.8zM145.3 332.8h.8v.8h-.8zM130.6 329.6h.8v.8h-.8zM126.6 335.8h.8v.8h-.8zM126.4 317.7h.8v.8h-.8zM127.7 326.5h.8v.8h-.8zM113.2 326.8h.8v.8h-.8zM113.9 321.4h.8v.8h-.8zM108.7 320.5h.8v.8h-.8zM139.3 317.9h.8v.8h-.8zM134.4 321.2h.8v.8h-.8zM140.7 340.5h.8v.8h-.8zM124.6 331.9h.8v.8h-.8zM141.6 332.1h.8v.8h-.8zM129.1 321.9h.8v.8h-.8zM129.0 327.5h.8v.8h-.8zM122.3 327.6h.8v.8h-.8zM114.6 318.7h.8v.8h-.8zM117.6 329.2h.8v.8h-.8zM147.7 323.0h.8v.8h-.8zM146.7 333.3h.8v.8h-.8zM105.8 329.1h.8v.8h-.8zM138.5 332.1h.8v.8h-.8zM151.0 322.9h.8v.8h-.8zM143.8 309.9h.8v.8h-.8zM141.7 316.0h.8v.8h-.8zM148.3 329.6h.8v.8h-.8zM125.1 325.1h.8v.8h-.8zM148.2 339.0h.8v.8h-.8zM138.5 325.2h.8v.8h-.8zM140.8 305.6h.8v.8h-.8zM133.0 346.2h.8v.8h-.8zM119.9 319.4h.8v.8h-.8zM116.7 325.4h.8v.8h-.8zM124.3 323.4h.8v.8h-.8zM135.3 317.7h.8v.8h-.8zM124.9 328.9h.8v.8h-.8zM135.5 335.0h.8v.8h-.8zM136.5 322.5h.8v.8h-.8zM129.9 309.0h.8v.8h-.8zM106.4 320.0h.8v.8h-.8zM143.8 318.2h.8v.8h-.8z"/>
</g>
<line x1="109.50" y1="305.50" x2="168.70" y2="305.50" stroke="#999" stroke-width="0.6" />
<line x1="168.70" y1="305.50" x2="168.70" y2="351.20" stroke="#aaa" stroke-width="0.6" />
<line x1="125.00" y1="305.50" x2="125.00" y2="351.20" stroke="#666" stroke-width="0.7" />
<line x1="109.50" y1="337.00" x2="168.70" y2="337.00" stroke="#666" stroke-width="0.7" />
<line x1="109.50" y1="305.20" x2="109.50" y2="351.20" stroke="#444" stroke-width="0.7" />
<line x1="109.50" y1="351.20" x2="168.70" y2="351.20" stroke="#444" stroke-width="0.7" />
<line x1="108.30" y1="351.20" x2="109.50" y2="351.20" stroke="#555" stroke-width="0.4" />
<text x="106.90" y="352.20" font-family='"Liberation Sans", sans-serif' font-size="2.8" font-weight="normal" font-style="normal" text-anchor="middle" fill="#777" >0</text>
<line x1="109.50" y1="351.20" x2="109.50" y2="352.40" stroke="#555" stroke-width="0.4" />
<text x="109.50" y="354.80" font-family='"Liberation Sans", sans-serif' font-size="2.8" font-weight="normal" font-style="normal" text-anchor="middle" fill="#777" >0</text>
<line x1="108.30" y1="339.77" x2="109.50" y2="339.77" stroke="#555" stroke-width="0.4" />
<text x="106.90" y="340.77" font-family='"Liberation Sans", sans-serif' font-size="2.8" font-weight="normal" font-style="normal" text-anchor="middle" fill="#777" >1</text>
<line x1="124.30" y1="351.20" x2="124.30" y2="352.40" stroke="#555" stroke-width="0.4" />
<text x="124.30" y="354.80" font-family='"Liberation Sans", sans-serif' font-size="2.8" font-weight="normal" font-style="normal" text-anchor="middle" fill="#777" >1</text>
<line x1="108.30" y1="328.35" x2="109.50" y2="328.35" stroke="#555" stroke-width="0.4" />
<text x="106.90" y="329.35" font-family='"Liberation Sans", sans-serif' font-size="2.8" font-weight="normal" font-style="normal" text-anchor="middle" fill="#777" >2</text>
<line x1="139.10" y1="351.20" x2="139.10" y2="352.40" stroke="#555" stroke-width="0.4" />
<text x="139.10" y="354.80" font-family='"Liberation Sans", sans-serif' font-size="2.8" font-weight="normal" font-style="normal" text-anchor="middle" fill="#777" >2</text>
<line x1="108.30" y1="316.93" x2="109.50" y2="316.93" stroke="#555" stroke-width="0.4" />
<text x="106.90" y="317.93" font-family='"Liberation Sans", sans-serif' font-size="2.8" font-weight="normal" font-style="normal" text-anchor="middle" fill="#777" >3</text>
<line x1="153.90" y1="351.20" x2="153.90" y2="352.40" stroke="#555" stroke-width="0.4" />
<text x="153.90" y="354.80" font-family='"Liberation Sans", sans-serif' font-size="2.8" font-weight="normal" font-style="normal" text-anchor="middle" fill="#777" >3</text>
<line x1="108.30" y1="305.50" x2="109.50" y2="305.50" stroke="#555" stroke-width="0.4" />
<text x="106.90" y="306.50" font-family='"Liberation Sans", sans-serif' font-size="2.8" font-weight="normal" font-style="normal" text-anchor="middle" fill="#777" >4</text>
<line x1="168.70" y1="351.20" x2="168.70" y2="352.40" stroke="#555" stroke-width="0.4" />
<text x="168.70" y="354.80" font-family='"Liberation Sans", sans-serif' font-size="2.8" font-weight="normal" font-style="normal" text-anchor="middle" fill="#777" >4</text>
<text transform="translate(18.0,266.8) rotate(-90)" font-family='"Liberation Serif", serif' font-size="7.0" text-anchor="middle" fill="#333">Annexin</text>
<text transform="translate(97.2,265.0) rotate(-90)" font-family='"Liberation Serif", serif' font-size="7.0" text-anchor="middle" fill="#333">Annexin</text>
<text transform="translate(17.2,327.0) rotate(-90)" font-family='"Liberation Serif", serif' font-size="7.0" text-anchor="middle" fill="#333">Annexin</text>
<text transform="translate(96.80000000000001,328.5) rotate(-90)" font-family='"Liberation Serif", serif' font-size="7.0" text-anchor="middle" fill="#333">Annexin</text>
<text x="57.70" y="298.20" font-family='"Liberation Serif", serif' font-size="7.0" font-weight="normal" font-style="normal" text-anchor="middle" fill="#333" >PI</text>
<text x="136.70" y="298.60" font-family='"Liberation Serif", serif' font-size="7.0" font-weight="normal" font-style="normal" text-anchor="middle" fill="#333" >PI</text>
<text x="57.60" y="359.80" font-family='"Liberation Serif", serif' font-size="7.0" font-weight="normal" font-style="normal" text-anchor="middle" fill="#333" >PI</text>
<text x="137.50" y="360.00" font-family='"Liberation Serif", serif' font-size="7.0" font-weight="normal" font-style="normal" text-anchor="middle" fill="#333" >PI</text>
<text x="170.0" y="268.4" font-family='"Liberation Serif", serif' font-size="8.3" fill="#222">Eμ-<tspan font-style="italic">MYC</tspan></text>
<text x="170.8" y="332.6" font-family='"Liberation Serif", serif' font-size="8.3" fill="#222">Eμ-<tspan font-style="italic">MYC-BIM</tspan>+/-</text>
<text x="47.8" y="377.4" font-family='"Liberation Serif", serif' font-size="8.3" fill="#222">Eμ-<tspan font-style="italic">MYC</tspan></text>
<line x1="42.00" y1="381.30" x2="83.00" y2="381.30" stroke="#222" stroke-width="0.9" />
<text x="98.6" y="378.6" font-family='"Liberation Serif", serif' font-size="8.2" fill="#222">Eμ-<tspan font-style="italic">MYC-BIM</tspan>+/-</text>
<line x1="103.40" y1="381.20" x2="145.30" y2="381.20" stroke="#222" stroke-width="0.9" />
<line x1="30.80" y1="386.60" x2="30.80" y2="469.50" stroke="#111" stroke-width="1.1" />
<line x1="30.30" y1="469.00" x2="155.20" y2="469.00" stroke="#111" stroke-width="1.1" />
<line x1="28.00" y1="469.00" x2="30.80" y2="469.00" stroke="#111" stroke-width="0.9" />
<text x="28.00" y="471.10" font-family='"Liberation Sans", sans-serif' font-size="5.9" font-weight="bold" font-style="normal" text-anchor="end" fill="#222" >0</text>
<line x1="28.00" y1="448.52" x2="30.80" y2="448.52" stroke="#111" stroke-width="0.9" />
<text x="28.00" y="450.62" font-family='"Liberation Sans", sans-serif' font-size="5.9" font-weight="bold" font-style="normal" text-anchor="end" fill="#222" >25</text>
<line x1="28.00" y1="428.05" x2="30.80" y2="428.05" stroke="#111" stroke-width="0.9" />
<text x="28.00" y="430.15" font-family='"Liberation Sans", sans-serif' font-size="5.9" font-weight="bold" font-style="normal" text-anchor="end" fill="#222" >50</text>
<line x1="28.00" y1="407.58" x2="30.80" y2="407.58" stroke="#111" stroke-width="0.9" />
<text x="28.00" y="409.68" font-family='"Liberation Sans", sans-serif' font-size="5.9" font-weight="bold" font-style="normal" text-anchor="end" fill="#222" >75</text>
<line x1="28.00" y1="387.10" x2="30.80" y2="387.10" stroke="#111" stroke-width="0.9" />
<text x="28.00" y="389.20" font-family='"Liberation Sans", sans-serif' font-size="5.9" font-weight="bold" font-style="normal" text-anchor="end" fill="#222" >100</text>
<text transform="translate(12.2,425.8) rotate(-90)" font-family='"Liberation Sans", sans-serif' font-size="7.3" font-weight="bold" text-anchor="middle" fill="#222">% Apoptotic Cells</text>
<line x1="50.70" y1="437.47" x2="50.70" y2="435.67" stroke="#111" stroke-width="0.8" />
<line x1="48.20" y1="435.67" x2="53.20" y2="435.67" stroke="#111" stroke-width="0.8" />
<rect x="42.7" y="437.47" width="16.00" height="31.53" fill="#fff" stroke="#111" stroke-width="1.1"/>
<line x1="74.00" y1="401.84" x2="74.00" y2="401.35" stroke="#111" stroke-width="0.8" />
<line x1="71.50" y1="401.35" x2="76.50" y2="401.35" stroke="#111" stroke-width="0.8" />
<rect x="66.3" y="401.84" width="15.40" height="67.16" fill="#999" stroke="#111" stroke-width="1.1"/>
<line x1="112.40" y1="428.05" x2="112.40" y2="425.18" stroke="#111" stroke-width="0.8" />
<line x1="109.90" y1="425.18" x2="114.90" y2="425.18" stroke="#111" stroke-width="0.8" />
<rect x="104.2" y="428.05" width="16.40" height="40.95" fill="#fff" stroke="#111" stroke-width="1.1"/>
<line x1="135.65" y1="415.27" x2="135.65" y2="414.62" stroke="#111" stroke-width="0.8" />
<line x1="133.15" y1="414.62" x2="138.15" y2="414.62" stroke="#111" stroke-width="0.8" />
<rect x="127.5" y="415.27" width="16.30" height="53.73" fill="#999" stroke="#111" stroke-width="1.1"/>
<path d="M51,427.5 L51,393.8 L76,393.8 L76,399.6" fill="none" stroke="#bbb" stroke-width="0.5"/>
<path d="M112.7,417.5 L112.7,400.2 L135.4,400.2 L135.4,412.5" fill="none" stroke="#bbb" stroke-width="0.5"/>
<text x="51.4" y="391.6" font-family='"Liberation Serif", serif' font-size="7.4" fill="#222"><tspan font-style="italic">P</tspan> = .001</text>
<text x="114.8" y="398.0" font-family='"Liberation Serif", serif' font-size="7.4" fill="#222"><tspan font-style="italic">P</tspan> = .04</text>
<rect x="47.20" y="476.5" width="4.6" height="1.7" fill="#111"/>
<rect x="109.30" y="476.5" width="4.6" height="1.7" fill="#111"/>
<line x1="68.80" y1="477.30" x2="76.60" y2="477.30" stroke="#111" stroke-width="1.3" />
<line x1="72.70" y1="473.60" x2="72.70" y2="481.00" stroke="#111" stroke-width="1.3" />
<line x1="130.70" y1="477.30" x2="138.50" y2="477.30" stroke="#111" stroke-width="1.3" />
<line x1="134.60" y1="473.60" x2="134.60" y2="481.00" stroke="#111" stroke-width="1.3" />
<text x="63.10" y="488.00" font-family='"Liberation Sans", sans-serif' font-size="6.3" font-weight="bold" font-style="normal" text-anchor="middle" fill="#222" >Doxorubicin</text>
<text x="126.30" y="488.00" font-family='"Liberation Sans", sans-serif' font-size="6.3" font-weight="bold" font-style="normal" text-anchor="middle" fill="#222" >Doxorubicin</text>
<text x="230.00" y="9.60" font-family='"Liberation Sans", sans-serif' font-size="11.5" font-weight="bold" font-style="normal" text-anchor="start" fill="#111" >D</text>
<path d="M230.80,74.50 L268.80,74.50" fill="none" stroke="#555" stroke-width="0.7"/>
<path d="M242.00,74.50 Q256.50,62.10 269.00,74.50" fill="none" stroke="#111" stroke-width="0.8"/>
<path d="M261.94,69.30 L261.44,74.50" stroke="#333" stroke-width="0.55"/>
<path d="M230.80,101.50 L268.80,101.50" fill="none" stroke="#555" stroke-width="0.7"/>
<path d="M242.00,101.50 Q256.50,89.30 269.00,101.50" fill="none" stroke="#111" stroke-width="0.8"/>
<path d="M261.94,96.40 L261.44,101.50" stroke="#333" stroke-width="0.55"/>
<text x="248.70" y="65.10" font-family='"Liberation Sans", sans-serif' font-size="5.0" font-weight="normal" fill="#222" textLength="14.80" lengthAdjust="spacingAndGlyphs">Eμ-Myc</text>
<text x="256.70" y="85.90" font-family='"Liberation Sans", sans-serif' font-size="5.5" font-weight="bold" font-style="normal" text-anchor="middle" fill="#222" >+</text>
<text x="251.00" y="92.40" font-family='"Liberation Sans", sans-serif' font-size="5.0" font-weight="normal" fill="#222" textLength="8.60" lengthAdjust="spacingAndGlyphs">BIM-/-</text>
<line x1="268.00" y1="85.40" x2="272.40" y2="85.40" stroke="#111" stroke-width="1.7"/>
<path d="M276.20,85.40 L272.40,87.50 L272.40,83.30 Z" fill="#111"/>
<path d="M278.80,78.50 L309.60,78.50" fill="none" stroke="#555" stroke-width="0.7"/>
<path d="M288.50,78.50 Q300.05,69.90 309.60,78.50" fill="none" stroke="#111" stroke-width="0.8"/>
<path d="M304.19,75.20 L303.69,78.50" stroke="#333" stroke-width="0.55"/>
<path d="M278.80,97.50 L309.60,97.50" fill="none" stroke="#555" stroke-width="0.7"/>
<path d="M288.50,97.50 Q300.05,87.50 309.60,97.50" fill="none" stroke="#111" stroke-width="0.8"/>
<path d="M304.19,93.50 L303.69,97.50" stroke="#333" stroke-width="0.55"/>
<text x="291.80" y="71.60" font-family='"Liberation Sans", sans-serif' font-size="5.0" font-weight="normal" fill="#222" textLength="15.40" lengthAdjust="spacingAndGlyphs">Eμ-Myc</text>
<text x="286.00" y="89.20" font-family='"Liberation Sans", sans-serif' font-size="5.0" font-weight="normal" fill="#222" textLength="29.40" lengthAdjust="spacingAndGlyphs">Eμ-Myc-BIM+/-</text>
<line x1="312.30" y1="79.80" x2="318.27" y2="75.82" stroke="#111" stroke-width="1.2"/>
<path d="M321.60,73.60 L319.33,77.40 L317.22,74.24 Z" fill="#111"/>
<line x1="312.30" y1="96.10" x2="318.45" y2="100.93" stroke="#111" stroke-width="1.2"/>
<path d="M321.60,103.40 L317.28,102.42 L319.63,99.44 Z" fill="#111"/>
<rect x="323.4" y="64.5" width="55.0" height="11.20" fill="#fff" stroke="#333" stroke-width="0.8"/>
<text x="328.70" y="72.00" font-family='"Liberation Sans", sans-serif' font-size="4.5" font-weight="normal" fill="#111" textLength="43.10" lengthAdjust="spacingAndGlyphs">TUMOR DEVELOPMENT</text>
<rect x="323.4" y="100.4" width="55.0" height="11.00" fill="#fff" stroke="#333" stroke-width="0.8"/>
<text x="328.70" y="107.90" font-family='"Liberation Sans", sans-serif' font-size="4.5" font-weight="normal" fill="#111" textLength="43.10" lengthAdjust="spacingAndGlyphs">TUMOR DEVELOPMENT</text>
<text x="348.30" y="60.90" font-family='"Liberation Serif", serif' font-size="5.8" font-weight="normal" fill="#444" textLength="8.10" lengthAdjust="spacingAndGlyphs">n=3</text>
<text x="348.30" y="117.90" font-family='"Liberation Serif", serif' font-size="5.8" font-weight="normal" fill="#444" textLength="8.30" lengthAdjust="spacingAndGlyphs">n=3</text>
<path d="M355.8,53.6 C355.2,45.5 359.5,40.8 364.8,40.8 C368.2,40.8 370.8,42.6 372.6,44.8" fill="none" stroke="#111" stroke-width="2.0"/>
<path d="M377.4,49.0 L370.2,47.2 L375.6,41.6 Z" fill="#111"/>
<path d="M355.6,123.3 C355.2,131.5 358.8,136.0 364.0,136.0 C367.6,136.0 370.6,134.2 372.6,131.6" fill="none" stroke="#111" stroke-width="2.0"/>
<path d="M377.4,127.2 L370.0,129.0 L375.4,134.6 Z" fill="#111"/>
<text x="353.80" y="39.10" font-family='"Liberation Sans", sans-serif' font-size="4.2" font-weight="normal" fill="#111" textLength="34.70" lengthAdjust="spacingAndGlyphs">B CELL ISOLATION</text>
<text x="356.00" y="145.30" font-family='"Liberation Sans", sans-serif' font-size="4.2" font-weight="normal" fill="#111" textLength="33.00" lengthAdjust="spacingAndGlyphs">B CELL ISOLATION</text>
<g clip-path="url(#dc21)">
<path fill="#ee6666" fill-opacity="0.3" d="M377.1 18.7h.7v.7h-.7zM370.8 6.8h.7v.7h-.7zM375.5 21.0h.7v.7h-.7zM375.7 5.4h.7v.7h-.7zM370.8 11.4h.7v.7h-.7zM377.9 11.6h.7v.7h-.7zM372.5 10.4h.7v.7h-.7zM374.7 7.7h.7v.7h-.7zM374.0 13.1h.7v.7h-.7zM380.7 11.4h.7v.7h-.7zM378.0 6.2h.7v.7h-.7zM377.5 12.5h.7v.7h-.7zM371.8 11.5h.7v.7h-.7zM377.7 9.9h.7v.7h-.7zM378.2 19.8h.7v.7h-.7zM380.7 20.3h.7v.7h-.7zM368.9 13.5h.7v.7h-.7zM371.3 16.7h.7v.7h-.7zM374.3 12.9h.7v.7h-.7zM375.9 8.5h.7v.7h-.7zM374.4 7.8h.7v.7h-.7zM382.5 9.2h.7v.7h-.7zM374.1 2.2h.7v.7h-.7zM368.0 7.2h.7v.7h-.7zM377.3 15.8h.7v.7h-.7zM375.2 8.3h.7v.7h-.7zM381.6 6.2h.7v.7h-.7zM370.6 14.3h.7v.7h-.7zM370.0 13.1h.7v.7h-.7zM378.0 11.3h.7v.7h-.7zM375.7 11.9h.7v.7h-.7zM371.3 -5.3h.7v.7h-.7zM369.1 11.7h.7v.7h-.7zM367.3 8.7h.7v.7h-.7zM374.9 18.9h.7v.7h-.7zM368.5 8.9h.7v.7h-.7zM375.0 14.5h.7v.7h-.7zM368.4 21.7h.7v.7h-.7zM370.7 17.5h.7v.7h-.7zM373.2 13.9h.7v.7h-.7zM355.4 22.9h.6v.6h-.6zM376.7 10.6h.6v.6h-.6zM373.9 19.1h.6v.6h-.6zM380.4 27.0h.6v.6h-.6zM365.6 27.9h.6v.6h-.6zM382.2 16.7h.6v.6h-.6zM379.9 13.8h.6v.6h-.6zM364.7 7.0h.6v.6h-.6zM379.7 4.6h.6v.6h-.6zM355.5 22.7h.6v.6h-.6zM376.6 13.6h.6v.6h-.6zM378.5 1.5h.6v.6h-.6z"/>
<path d="M369.8,8.2 Q373.5,6.0 377.6,8.0 Q377.2,13.5 374.5,17.5 Q373.2,18.5 372.2,16.5 Q369.8,12.5 369.8,8.2 Z" fill="#e40c0c" filter="url(#b1)"/><path d="M373.6,15 L374.2,20" stroke="#f05050" stroke-width="1.2" opacity="0.5"/>
</g>
<line x1="353.40" y1="0.00" x2="353.40" y2="28.20" stroke="#999" stroke-width="0.5" />
<line x1="353.40" y1="28.20" x2="383.40" y2="28.20" stroke="#444" stroke-width="0.7" />
<line x1="383.40" y1="0.00" x2="383.40" y2="28.20" stroke="#444" stroke-width="0.7" />
<line x1="361.70" y1="0.00" x2="361.70" y2="28.20" stroke="#333" stroke-width="0.8" />
<line x1="351.90" y1="21.20" x2="383.40" y2="21.20" stroke="#333" stroke-width="0.9" />
<line x1="352.20" y1="28.20" x2="353.40" y2="28.20" stroke="#666" stroke-width="0.3" />
<text x="350.80" y="29.10" font-family='"Liberation Sans", sans-serif' font-size="2.5" font-weight="normal" font-style="normal" text-anchor="middle" fill="#777" >0</text>
<line x1="353.40" y1="28.20" x2="353.40" y2="29.40" stroke="#666" stroke-width="0.3" />
<text x="353.40" y="31.50" font-family='"Liberation Sans", sans-serif' font-size="2.5" font-weight="normal" font-style="normal" text-anchor="middle" fill="#777" >0</text>
<line x1="352.20" y1="20.90" x2="353.40" y2="20.90" stroke="#666" stroke-width="0.3" />
<text x="350.80" y="21.80" font-family='"Liberation Sans", sans-serif' font-size="2.5" font-weight="normal" font-style="normal" text-anchor="middle" fill="#777" >1</text>
<line x1="360.90" y1="28.20" x2="360.90" y2="29.40" stroke="#666" stroke-width="0.3" />
<text x="360.90" y="31.50" font-family='"Liberation Sans", sans-serif' font-size="2.5" font-weight="normal" font-style="normal" text-anchor="middle" fill="#777" >1</text>
<line x1="352.20" y1="13.60" x2="353.40" y2="13.60" stroke="#666" stroke-width="0.3" />
<text x="350.80" y="14.50" font-family='"Liberation Sans", sans-serif' font-size="2.5" font-weight="normal" font-style="normal" text-anchor="middle" fill="#777" >2</text>
<line x1="368.40" y1="28.20" x2="368.40" y2="29.40" stroke="#666" stroke-width="0.3" />
<text x="368.40" y="31.50" font-family='"Liberation Sans", sans-serif' font-size="2.5" font-weight="normal" font-style="normal" text-anchor="middle" fill="#777" >2</text>
<line x1="352.20" y1="6.30" x2="353.40" y2="6.30" stroke="#666" stroke-width="0.3" />
<text x="350.80" y="7.20" font-family='"Liberation Sans", sans-serif' font-size="2.5" font-weight="normal" font-style="normal" text-anchor="middle" fill="#777" >3</text>
<line x1="375.90" y1="28.20" x2="375.90" y2="29.40" stroke="#666" stroke-width="0.3" />
<text x="375.90" y="31.50" font-family='"Liberation Sans", sans-serif' font-size="2.5" font-weight="normal" font-style="normal" text-anchor="middle" fill="#777" >3</text>
<line x1="352.20" y1="-1.00" x2="353.40" y2="-1.00" stroke="#666" stroke-width="0.3" />
<text x="350.80" y="-0.10" font-family='"Liberation Sans", sans-serif' font-size="2.5" font-weight="normal" font-style="normal" text-anchor="middle" fill="#777" >4</text>
<line x1="383.40" y1="28.20" x2="383.40" y2="29.40" stroke="#666" stroke-width="0.3" />
<text x="383.40" y="31.50" font-family='"Liberation Sans", sans-serif' font-size="2.5" font-weight="normal" font-style="normal" text-anchor="middle" fill="#777" >4</text>
<text transform="translate(348.0,15.5) rotate(-90)" font-family='"Liberation Sans", sans-serif' font-size="3" font-weight="bold" text-anchor="middle" fill="#333">SSC</text>
<text x="368.00" y="31.80" font-family='"Liberation Sans", sans-serif' font-size="2.8" font-weight="bold" font-style="normal" text-anchor="middle" fill="#333" >IgM</text>
<g clip-path="url(#dc22)">
<path fill="#ee6666" fill-opacity="0.3" d="M381.2 156.8h.7v.7h-.7zM396.3 159.3h.7v.7h-.7zM379.6 159.0h.7v.7h-.7zM376.0 154.6h.7v.7h-.7zM381.4 155.6h.7v.7h-.7zM382.8 156.5h.7v.7h-.7zM369.4 152.3h.7v.7h-.7zM374.2 149.7h.7v.7h-.7zM378.2 156.2h.7v.7h-.7zM383.4 154.0h.7v.7h-.7zM377.4 159.5h.7v.7h-.7zM382.4 153.4h.7v.7h-.7zM386.5 154.9h.7v.7h-.7zM384.8 156.2h.7v.7h-.7zM376.4 152.6h.7v.7h-.7zM377.9 166.4h.7v.7h-.7zM375.3 163.2h.7v.7h-.7zM385.5 155.8h.7v.7h-.7zM384.4 162.6h.7v.7h-.7zM377.0 155.3h.7v.7h-.7zM384.4 158.7h.7v.7h-.7zM389.6 159.0h.7v.7h-.7zM372.6 157.1h.7v.7h-.7zM372.5 160.2h.7v.7h-.7zM382.3 155.7h.7v.7h-.7zM374.0 160.7h.7v.7h-.7zM376.7 162.0h.7v.7h-.7zM373.5 156.3h.7v.7h-.7zM375.8 153.3h.7v.7h-.7zM392.7 163.7h.7v.7h-.7zM375.4 160.3h.7v.7h-.7zM369.3 162.1h.7v.7h-.7zM384.3 156.0h.7v.7h-.7zM376.8 158.3h.7v.7h-.7zM381.0 155.9h.7v.7h-.7zM374.2 156.3h.7v.7h-.7zM376.4 160.3h.7v.7h-.7zM379.1 158.2h.7v.7h-.7zM370.0 155.9h.7v.7h-.7zM376.6 155.4h.7v.7h-.7zM379.5 148.7h.6v.6h-.6zM371.6 167.8h.6v.6h-.6zM385.8 158.7h.6v.6h-.6zM383.7 159.7h.6v.6h-.6zM374.8 161.8h.6v.6h-.6zM387.8 165.7h.6v.6h-.6zM373.4 165.3h.6v.6h-.6zM378.1 156.1h.6v.6h-.6zM382.0 167.6h.6v.6h-.6zM377.1 170.6h.6v.6h-.6zM360.7 159.7h.6v.6h-.6zM377.8 155.8h.6v.6h-.6z"/>
<ellipse cx="378.6" cy="157.3" rx="4.18" ry="3.08" fill="#f04040" fill-opacity="0.5" filter="url(#b1)" transform="rotate(-30 378.6 157.3)"/>
<ellipse cx="378.6" cy="157.3" rx="2.85" ry="2.10" fill="#e00808" filter="url(#b03)" transform="rotate(-30 378.6 157.3)"/>
</g>
<line x1="360.20" y1="147.40" x2="360.20" y2="172.00" stroke="#999" stroke-width="0.5" />
<line x1="360.20" y1="147.40" x2="388.00" y2="147.40" stroke="#aaa" stroke-width="0.5" />
<line x1="360.20" y1="172.00" x2="388.00" y2="172.00" stroke="#444" stroke-width="0.7" />
<line x1="388.00" y1="147.40" x2="388.00" y2="172.00" stroke="#444" stroke-width="0.7" />
<line x1="368.20" y1="147.40" x2="368.20" y2="172.00" stroke="#333" stroke-width="0.8" />
<line x1="358.70" y1="165.80" x2="388.00" y2="165.80" stroke="#333" stroke-width="0.9" />
<line x1="359.00" y1="172.00" x2="360.20" y2="172.00" stroke="#666" stroke-width="0.3" />
<text x="357.60" y="172.90" font-family='"Liberation Sans", sans-serif' font-size="2.5" font-weight="normal" font-style="normal" text-anchor="middle" fill="#777" >0</text>
<line x1="360.20" y1="172.00" x2="360.20" y2="173.20" stroke="#666" stroke-width="0.3" />
<text x="360.20" y="175.30" font-family='"Liberation Sans", sans-serif' font-size="2.5" font-weight="normal" font-style="normal" text-anchor="middle" fill="#777" >0</text>
<line x1="359.00" y1="165.85" x2="360.20" y2="165.85" stroke="#666" stroke-width="0.3" />
<text x="357.60" y="166.75" font-family='"Liberation Sans", sans-serif' font-size="2.5" font-weight="normal" font-style="normal" text-anchor="middle" fill="#777" >1</text>
<line x1="367.15" y1="172.00" x2="367.15" y2="173.20" stroke="#666" stroke-width="0.3" />
<text x="367.15" y="175.30" font-family='"Liberation Sans", sans-serif' font-size="2.5" font-weight="normal" font-style="normal" text-anchor="middle" fill="#777" >1</text>
<line x1="359.00" y1="159.70" x2="360.20" y2="159.70" stroke="#666" stroke-width="0.3" />
<text x="357.60" y="160.60" font-family='"Liberation Sans", sans-serif' font-size="2.5" font-weight="normal" font-style="normal" text-anchor="middle" fill="#777" >2</text>
<line x1="374.10" y1="172.00" x2="374.10" y2="173.20" stroke="#666" stroke-width="0.3" />
<text x="374.10" y="175.30" font-family='"Liberation Sans", sans-serif' font-size="2.5" font-weight="normal" font-style="normal" text-anchor="middle" fill="#777" >2</text>
<line x1="359.00" y1="153.55" x2="360.20" y2="153.55" stroke="#666" stroke-width="0.3" />
<text x="357.60" y="154.45" font-family='"Liberation Sans", sans-serif' font-size="2.5" font-weight="normal" font-style="normal" text-anchor="middle" fill="#777" >3</text>
<line x1="381.05" y1="172.00" x2="381.05" y2="173.20" stroke="#666" stroke-width="0.3" />
<text x="381.05" y="175.30" font-family='"Liberation Sans", sans-serif' font-size="2.5" font-weight="normal" font-style="normal" text-anchor="middle" fill="#777" >3</text>
<line x1="359.00" y1="147.40" x2="360.20" y2="147.40" stroke="#666" stroke-width="0.3" />
<text x="357.60" y="148.30" font-family='"Liberation Sans", sans-serif' font-size="2.5" font-weight="normal" font-style="normal" text-anchor="middle" fill="#777" >4</text>
<line x1="388.00" y1="172.00" x2="388.00" y2="173.20" stroke="#666" stroke-width="0.3" />
<text x="388.00" y="175.30" font-family='"Liberation Sans", sans-serif' font-size="2.5" font-weight="normal" font-style="normal" text-anchor="middle" fill="#777" >4</text>
<text transform="translate(355.4,160.3) rotate(-90)" font-family='"Liberation Sans", sans-serif' font-size="3" font-weight="bold" text-anchor="middle" fill="#333">SSC</text>
<text x="373.40" y="176.30" font-family='"Liberation Sans", sans-serif' font-size="2.8" font-weight="bold" font-style="normal" text-anchor="middle" fill="#333" >IgM</text>
<g transform="translate(383.40,55.90) rotate(54)"><rect x="0" y="-2.10" width="14.5" height="4.2" fill="#fff" stroke="#111" stroke-width="0.8"/><line x1="14.5" y1="0" x2="19.0" y2="0" stroke="#111" stroke-width="0.64"/></g>
<path d="M390.00,72.50 L429.00,72.50" fill="none" stroke="#555" stroke-width="0.7"/>
<path d="M402.80,72.50 Q416.60,61.70 428.40,72.50" fill="none" stroke="#111" stroke-width="0.8"/>
<path d="M421.73,68.10 L421.23,72.50" stroke="#333" stroke-width="0.55"/>
<text x="398.10" y="57.40" font-family='"Liberation Sans", sans-serif' font-size="5.0" font-weight="normal" fill="#333" textLength="16.10" lengthAdjust="spacingAndGlyphs">TUMOR</text>
<text x="398.10" y="63.80" font-family='"Liberation Sans", sans-serif' font-size="5.4" font-weight="normal" fill="#333" textLength="33.60" lengthAdjust="spacingAndGlyphs">IgM+B220+ cells</text>
<text x="402.10" y="78.20" font-family='"Liberation Sans", sans-serif' font-size="3.8" font-weight="bold" fill="#222" textLength="25.20" lengthAdjust="spacingAndGlyphs">RAG2-/-IL2γc-/-</text>
<text x="413.50" y="87.00" font-family='"Liberation Serif", serif' font-size="6.2" font-weight="normal" fill="#444" textLength="10.20" lengthAdjust="spacingAndGlyphs">n=30</text>
<text x="433.20" y="69.80" font-family='"Liberation Sans", sans-serif' font-size="4.4" font-weight="normal" fill="#222" textLength="16.00" lengthAdjust="spacingAndGlyphs">1 WEEK</text>
<line x1="432.40" y1="72.60" x2="446.70" y2="72.60" stroke="#111" stroke-width="2.0"/>
<path d="M452.20,72.60 L446.70,74.90 L446.70,70.30 Z" fill="#111"/>
<g transform="translate(383.40,105.40) rotate(54)"><rect x="0" y="-2.10" width="14.5" height="4.2" fill="#fff" stroke="#111" stroke-width="0.8"/><line x1="14.5" y1="0" x2="19.0" y2="0" stroke="#111" stroke-width="0.64"/></g>
<path d="M390.00,123.80 L429.00,123.80" fill="none" stroke="#555" stroke-width="0.7"/>
<path d="M402.80,123.80 Q416.60,112.00 428.40,123.80" fill="none" stroke="#111" stroke-width="0.8"/>
<path d="M421.73,118.90 L421.23,123.80" stroke="#333" stroke-width="0.55"/>
<text x="396.70" y="107.20" font-family='"Liberation Sans", sans-serif' font-size="5.0" font-weight="normal" fill="#333" textLength="16.10" lengthAdjust="spacingAndGlyphs">TUMOR</text>
<text x="396.70" y="113.10" font-family='"Liberation Sans", sans-serif' font-size="5.4" font-weight="normal" fill="#333" textLength="33.60" lengthAdjust="spacingAndGlyphs">IgM+B220+ cells</text>
<text x="400.70" y="131.00" font-family='"Liberation Sans", sans-serif' font-size="3.8" font-weight="bold" fill="#222" textLength="25.20" lengthAdjust="spacingAndGlyphs">RAG2-/-IL2γc-/-</text>
<text x="412.10" y="138.40" font-family='"Liberation Serif", serif' font-size="6.2" font-weight="normal" fill="#444" textLength="10.20" lengthAdjust="spacingAndGlyphs">n=30</text>
<text x="433.20" y="120.20" font-family='"Liberation Sans", sans-serif' font-size="4.4" font-weight="normal" fill="#222" textLength="16.00" lengthAdjust="spacingAndGlyphs">1 WEEK</text>
<line x1="432.40" y1="123.60" x2="446.70" y2="123.60" stroke="#111" stroke-width="2.0"/>
<path d="M452.20,123.60 L446.70,125.90 L446.70,121.30 Z" fill="#111"/>
<path d="M462.4,46.4 Q458.2,46.4 458.2,50.4 L458.2,68.8 Q458.2,72.0 454.8,72.0 Q458.2,72.0 458.2,75.2 L458.2,93.0 Q458.2,97.0 462.4,97.0" fill="none" stroke="#222" stroke-width="0.9"/>
<path d="M462.4,98.1 Q458.2,98.1 458.2,102.1 L458.2,119.39999999999999 Q458.2,122.6 454.8,122.6 Q458.2,122.6 458.2,125.8 L458.2,144.1 Q458.2,148.1 462.4,148.1" fill="none" stroke="#222" stroke-width="0.9"/>
<text x="462.30" y="57.30" font-family='"Liberation Sans", sans-serif' font-size="3.7" font-weight="normal" fill="#111" textLength="23.00" lengthAdjust="spacingAndGlyphs">DOXORUBICIN</text>
<g transform="translate(484.00,50.00) rotate(53)"><rect x="0" y="-1.70" width="11.5" height="3.4" fill="#fff" stroke="#111" stroke-width="0.75"/><line x1="11.5" y1="0" x2="14.5" y2="0" stroke="#111" stroke-width="0.60"/></g>
<path d="M483.20,66.00 L513.80,66.00" fill="none" stroke="#555" stroke-width="0.7"/>
<path d="M490.00,66.00 Q502.50,57.60 513.00,66.00" fill="none" stroke="#111" stroke-width="0.8"/>
<path d="M507.06,62.80 L506.56,66.00" stroke="#333" stroke-width="0.55"/>
<text x="489.40" y="69.60" font-family='"Liberation Sans", sans-serif' font-size="3.7" font-weight="bold" fill="#222" textLength="25.60" lengthAdjust="spacingAndGlyphs">RAG2-/-IL2γc-/-</text>
<text x="498.10" y="76.40" font-family='"Liberation Serif", serif' font-size="6.4" font-weight="normal" fill="#444" textLength="10.70" lengthAdjust="spacingAndGlyphs">n=15</text>
<text x="469.40" y="80.80" font-family='"Liberation Sans", sans-serif' font-size="3.7" font-weight="normal" fill="#111" textLength="14.10" lengthAdjust="spacingAndGlyphs">VEHICLE</text>
<g transform="translate(485.60,71.40) rotate(53)"><rect x="0" y="-1.70" width="11.5" height="3.4" fill="#fff" stroke="#111" stroke-width="0.75"/><line x1="11.5" y1="0" x2="14.5" y2="0" stroke="#111" stroke-width="0.60"/></g>
<path d="M483.20,89.30 L513.80,89.30" fill="none" stroke="#555" stroke-width="0.7"/>
<path d="M490.00,89.30 Q502.50,79.70 513.00,89.30" fill="none" stroke="#111" stroke-width="0.8"/>
<path d="M507.06,85.50 L506.56,89.30" stroke="#333" stroke-width="0.55"/>
<text x="488.80" y="93.30" font-family='"Liberation Sans", sans-serif' font-size="3.7" font-weight="bold" fill="#222" textLength="25.00" lengthAdjust="spacingAndGlyphs">RAG2-/-IL2γc-/-</text>
<text x="491.30" y="99.50" font-family='"Liberation Serif", serif' font-size="6.4" font-weight="normal" fill="#444" textLength="9.30" lengthAdjust="spacingAndGlyphs">n=15</text>
<text x="463.80" y="110.60" font-family='"Liberation Sans", sans-serif' font-size="3.7" font-weight="normal" fill="#111" textLength="23.10" lengthAdjust="spacingAndGlyphs">DOXORUBICIN</text>
<g transform="translate(485.60,101.30) rotate(53)"><rect x="0" y="-1.70" width="11.5" height="3.4" fill="#fff" stroke="#111" stroke-width="0.75"/><line x1="11.5" y1="0" x2="14.5" y2="0" stroke="#111" stroke-width="0.60"/></g>
<path d="M483.20,119.00 L513.80,119.00" fill="none" stroke="#555" stroke-width="0.7"/>
<path d="M492.50,119.00 Q503.75,110.60 513.00,119.00" fill="none" stroke="#111" stroke-width="0.8"/>
<path d="M507.76,115.80 L507.26,119.00" stroke="#333" stroke-width="0.55"/>
<text x="488.80" y="124.00" font-family='"Liberation Sans", sans-serif' font-size="3.7" font-weight="bold" fill="#222" textLength="25.00" lengthAdjust="spacingAndGlyphs">RAG2-/-IL2γc-/-</text>
<text x="498.80" y="131.30" font-family='"Liberation Serif", serif' font-size="6.4" font-weight="normal" fill="#444" textLength="10.00" lengthAdjust="spacingAndGlyphs">n=15</text>
<text x="470.60" y="135.30" font-family='"Liberation Sans", sans-serif' font-size="3.7" font-weight="normal" fill="#111" textLength="13.80" lengthAdjust="spacingAndGlyphs">VEHICLE</text>
<g transform="translate(484.40,127.50) rotate(53)"><rect x="0" y="-1.70" width="11.5" height="3.4" fill="#fff" stroke="#111" stroke-width="0.75"/><line x1="11.5" y1="0" x2="14.5" y2="0" stroke="#111" stroke-width="0.60"/></g>
<path d="M483.20,143.10 L513.80,143.10" fill="none" stroke="#555" stroke-width="0.7"/>
<path d="M492.50,143.10 Q503.75,134.50 513.00,143.10" fill="none" stroke="#111" stroke-width="0.8"/>
<path d="M507.76,139.80 L507.26,143.10" stroke="#333" stroke-width="0.55"/>
<text x="489.40" y="148.50" font-family='"Liberation Sans", sans-serif' font-size="3.7" font-weight="bold" fill="#222" textLength="24.40" lengthAdjust="spacingAndGlyphs">RAG2-/-IL2γc-/-</text>
<text x="498.10" y="155.60" font-family='"Liberation Serif", serif' font-size="6.4" font-weight="normal" fill="#444" textLength="10.70" lengthAdjust="spacingAndGlyphs">n=15</text>
<text x="230.40" y="246.60" font-family='"Liberation Sans", sans-serif' font-size="11.5" font-weight="bold" font-style="normal" text-anchor="start" fill="#111" >E</text>
<line x1="290.60" y1="240.00" x2="290.60" y2="325.30" stroke="#111" stroke-width="1.2" />
<line x1="290.00" y1="324.70" x2="417.20" y2="324.70" stroke="#111" stroke-width="1.2" />
<line x1="287.60" y1="324.70" x2="290.60" y2="324.70" stroke="#111" stroke-width="0.9" />
<text x="287.40" y="326.80" font-family='"Liberation Sans", sans-serif' font-size="5.9" font-weight="bold" font-style="normal" text-anchor="end" fill="#222" >0.00</text>
<line x1="287.60" y1="303.65" x2="290.60" y2="303.65" stroke="#111" stroke-width="0.9" />
<text x="287.40" y="305.75" font-family='"Liberation Sans", sans-serif' font-size="5.9" font-weight="bold" font-style="normal" text-anchor="end" fill="#222" >0.25</text>
<line x1="287.60" y1="282.60" x2="290.60" y2="282.60" stroke="#111" stroke-width="0.9" />
<text x="287.40" y="284.70" font-family='"Liberation Sans", sans-serif' font-size="5.9" font-weight="bold" font-style="normal" text-anchor="end" fill="#222" >0.50</text>
<line x1="287.60" y1="261.55" x2="290.60" y2="261.55" stroke="#111" stroke-width="0.9" />
<text x="287.40" y="263.65" font-family='"Liberation Sans", sans-serif' font-size="5.9" font-weight="bold" font-style="normal" text-anchor="end" fill="#222" >0.75</text>
<line x1="287.60" y1="240.50" x2="290.60" y2="240.50" stroke="#111" stroke-width="0.9" />
<text x="287.40" y="242.60" font-family='"Liberation Sans", sans-serif' font-size="5.9" font-weight="bold" font-style="normal" text-anchor="end" fill="#222" >1.00</text>
<line x1="290.60" y1="324.70" x2="290.60" y2="327.10" stroke="#111" stroke-width="0.9" />
<text x="290.60" y="332.80" font-family='"Liberation Sans", sans-serif' font-size="5.7" font-weight="bold" font-style="normal" text-anchor="middle" fill="#222" >0</text>
<line x1="303.20" y1="324.70" x2="303.20" y2="327.10" stroke="#111" stroke-width="0.9" />
<text x="303.20" y="332.80" font-family='"Liberation Sans", sans-serif' font-size="5.7" font-weight="bold" font-style="normal" text-anchor="middle" fill="#222" >10</text>
<line x1="315.80" y1="324.70" x2="315.80" y2="327.10" stroke="#111" stroke-width="0.9" />
<text x="315.80" y="332.80" font-family='"Liberation Sans", sans-serif' font-size="5.7" font-weight="bold" font-style="normal" text-anchor="middle" fill="#222" >20</text>
<line x1="328.40" y1="324.70" x2="328.40" y2="327.10" stroke="#111" stroke-width="0.9" />
<text x="328.40" y="332.80" font-family='"Liberation Sans", sans-serif' font-size="5.7" font-weight="bold" font-style="normal" text-anchor="middle" fill="#222" >30</text>
<line x1="341.00" y1="324.70" x2="341.00" y2="327.10" stroke="#111" stroke-width="0.9" />
<text x="341.00" y="332.80" font-family='"Liberation Sans", sans-serif' font-size="5.7" font-weight="bold" font-style="normal" text-anchor="middle" fill="#222" >40</text>
<line x1="353.60" y1="324.70" x2="353.60" y2="327.10" stroke="#111" stroke-width="0.9" />
<text x="353.60" y="332.80" font-family='"Liberation Sans", sans-serif' font-size="5.7" font-weight="bold" font-style="normal" text-anchor="middle" fill="#222" >50</text>
<line x1="366.20" y1="324.70" x2="366.20" y2="327.10" stroke="#111" stroke-width="0.9" />
<text x="366.20" y="332.80" font-family='"Liberation Sans", sans-serif' font-size="5.7" font-weight="bold" font-style="normal" text-anchor="middle" fill="#222" >60</text>
<line x1="378.80" y1="324.70" x2="378.80" y2="327.10" stroke="#111" stroke-width="0.9" />
<text x="378.80" y="332.80" font-family='"Liberation Sans", sans-serif' font-size="5.7" font-weight="bold" font-style="normal" text-anchor="middle" fill="#222" >70</text>
<line x1="391.40" y1="324.70" x2="391.40" y2="327.10" stroke="#111" stroke-width="0.9" />
<text x="391.40" y="332.80" font-family='"Liberation Sans", sans-serif' font-size="5.7" font-weight="bold" font-style="normal" text-anchor="middle" fill="#222" >80</text>
<line x1="404.00" y1="324.70" x2="404.00" y2="327.10" stroke="#111" stroke-width="0.9" />
<text x="404.00" y="332.80" font-family='"Liberation Sans", sans-serif' font-size="5.7" font-weight="bold" font-style="normal" text-anchor="middle" fill="#222" >90</text>
<line x1="416.60" y1="324.70" x2="416.60" y2="327.10" stroke="#111" stroke-width="0.9" />
<text x="416.60" y="332.80" font-family='"Liberation Sans", sans-serif' font-size="5.7" font-weight="bold" font-style="normal" text-anchor="middle" fill="#222" >100</text>
<text x="354.00" y="342.60" font-family='"Liberation Sans", sans-serif' font-size="7.0" font-weight="bold" font-style="normal" text-anchor="middle" fill="#222" >Days</text>
<text transform="translate(272.0,282.3) rotate(-90)" font-family='"Liberation Sans", sans-serif' font-size="7.0" font-weight="bold" text-anchor="middle" fill="#222">Fraction survival</text>
<polyline points="290.90,240.50 304.70,240.50 304.70,246.60 308.00,246.60 308.00,252.00 309.60,252.00 309.60,258.90 311.90,258.90 311.90,264.30 313.60,264.30 313.60,275.30 317.30,275.30 317.30,281.50 325.20,281.50 325.20,287.50 329.50,287.50 329.50,293.70 333.50,293.70 333.50,299.00 338.30,299.00 338.30,305.00 341.50,305.00 341.50,311.00 343.70,311.00 343.70,324.70" fill="none" stroke="#28b4c8" stroke-width="1.3" />
<polyline points="290.90,240.50 317.30,240.50 317.30,252.00 318.80,252.00 318.80,256.30 321.60,256.30 321.60,268.20 325.00,268.20 325.00,273.30 344.90,273.30 344.90,279.40 353.70,279.40 353.70,284.80 360.40,284.80 360.40,290.20 367.10,290.20 367.10,296.10 389.50,296.10 389.50,301.80 416.90,301.80" fill="none" stroke="#2a2a9a" stroke-width="1.3" />
<line x1="416.60" y1="300.30" x2="416.60" y2="303.30" stroke="#2a2a9a" stroke-width="1.2" />
<text x="296.3" y="321.8" font-family='"Liberation Serif", serif' font-size="7.8" fill="#333"><tspan font-style="italic">P</tspan> = .001</text>
<line x1="425.90" y1="246.40" x2="437.50" y2="246.40" stroke="#28b4c8" stroke-width="1.2" />
<line x1="431.70" y1="245.00" x2="431.70" y2="247.80" stroke="#28b4c8" stroke-width="1.0" />
<line x1="425.90" y1="255.30" x2="437.50" y2="255.30" stroke="#2a2a9a" stroke-width="1.2" />
<line x1="431.70" y1="253.90" x2="431.70" y2="256.70" stroke="#2a2a9a" stroke-width="1.0" />
<text x="441.3" y="248.9" fill="#333"><tspan font-size="7.4" font-family='"Liberation Serif", serif'>Eμ-<tspan font-style="italic">MYC</tspan></tspan><tspan font-size="7.0" font-family='"Liberation Sans", sans-serif'> Vehicle</tspan></text>
<text x="441.3" y="257.8" fill="#333"><tspan font-size="7.4" font-family='"Liberation Serif", serif'>Eμ-<tspan font-style="italic">MYC</tspan></tspan><tspan font-size="7.0" font-family='"Liberation Sans", sans-serif'> Doxorubicin</tspan></text>
<line x1="290.60" y1="353.70" x2="290.60" y2="438.50" stroke="#111" stroke-width="1.2" />
<line x1="290.00" y1="437.90" x2="417.20" y2="437.90" stroke="#111" stroke-width="1.2" />
<line x1="287.60" y1="437.90" x2="290.60" y2="437.90" stroke="#111" stroke-width="0.9" />
<text x="287.40" y="440.00" font-family='"Liberation Sans", sans-serif' font-size="5.9" font-weight="bold" font-style="normal" text-anchor="end" fill="#222" >0.00</text>
<line x1="287.60" y1="416.97" x2="290.60" y2="416.97" stroke="#111" stroke-width="0.9" />
<text x="287.40" y="419.07" font-family='"Liberation Sans", sans-serif' font-size="5.9" font-weight="bold" font-style="normal" text-anchor="end" fill="#222" >0.25</text>
<line x1="287.60" y1="396.05" x2="290.60" y2="396.05" stroke="#111" stroke-width="0.9" />
<text x="287.40" y="398.15" font-family='"Liberation Sans", sans-serif' font-size="5.9" font-weight="bold" font-style="normal" text-anchor="end" fill="#222" >0.50</text>
<line x1="287.60" y1="375.12" x2="290.60" y2="375.12" stroke="#111" stroke-width="0.9" />
<text x="287.40" y="377.23" font-family='"Liberation Sans", sans-serif' font-size="5.9" font-weight="bold" font-style="normal" text-anchor="end" fill="#222" >0.75</text>
<line x1="287.60" y1="354.20" x2="290.60" y2="354.20" stroke="#111" stroke-width="0.9" />
<text x="287.40" y="356.30" font-family='"Liberation Sans", sans-serif' font-size="5.9" font-weight="bold" font-style="normal" text-anchor="end" fill="#222" >1.00</text>
<line x1="290.60" y1="437.90" x2="290.60" y2="440.30" stroke="#111" stroke-width="0.9" />
<text x="290.60" y="446.00" font-family='"Liberation Sans", sans-serif' font-size="5.7" font-weight="bold" font-style="normal" text-anchor="middle" fill="#222" >0</text>
<line x1="303.20" y1="437.90" x2="303.20" y2="440.30" stroke="#111" stroke-width="0.9" />
<text x="303.20" y="446.00" font-family='"Liberation Sans", sans-serif' font-size="5.7" font-weight="bold" font-style="normal" text-anchor="middle" fill="#222" >10</text>
<line x1="315.80" y1="437.90" x2="315.80" y2="440.30" stroke="#111" stroke-width="0.9" />
<text x="315.80" y="446.00" font-family='"Liberation Sans", sans-serif' font-size="5.7" font-weight="bold" font-style="normal" text-anchor="middle" fill="#222" >20</text>
<line x1="328.40" y1="437.90" x2="328.40" y2="440.30" stroke="#111" stroke-width="0.9" />
<text x="328.40" y="446.00" font-family='"Liberation Sans", sans-serif' font-size="5.7" font-weight="bold" font-style="normal" text-anchor="middle" fill="#222" >30</text>
<line x1="341.00" y1="437.90" x2="341.00" y2="440.30" stroke="#111" stroke-width="0.9" />
<text x="341.00" y="446.00" font-family='"Liberation Sans", sans-serif' font-size="5.7" font-weight="bold" font-style="normal" text-anchor="middle" fill="#222" >40</text>
<line x1="353.60" y1="437.90" x2="353.60" y2="440.30" stroke="#111" stroke-width="0.9" />
<text x="353.60" y="446.00" font-family='"Liberation Sans", sans-serif' font-size="5.7" font-weight="bold" font-style="normal" text-anchor="middle" fill="#222" >50</text>
<line x1="366.20" y1="437.90" x2="366.20" y2="440.30" stroke="#111" stroke-width="0.9" />
<text x="366.20" y="446.00" font-family='"Liberation Sans", sans-serif' font-size="5.7" font-weight="bold" font-style="normal" text-anchor="middle" fill="#222" >60</text>
<line x1="378.80" y1="437.90" x2="378.80" y2="440.30" stroke="#111" stroke-width="0.9" />
<text x="378.80" y="446.00" font-family='"Liberation Sans", sans-serif' font-size="5.7" font-weight="bold" font-style="normal" text-anchor="middle" fill="#222" >70</text>
<line x1="391.40" y1="437.90" x2="391.40" y2="440.30" stroke="#111" stroke-width="0.9" />
<text x="391.40" y="446.00" font-family='"Liberation Sans", sans-serif' font-size="5.7" font-weight="bold" font-style="normal" text-anchor="middle" fill="#222" >80</text>
<line x1="404.00" y1="437.90" x2="404.00" y2="440.30" stroke="#111" stroke-width="0.9" />
<text x="404.00" y="446.00" font-family='"Liberation Sans", sans-serif' font-size="5.7" font-weight="bold" font-style="normal" text-anchor="middle" fill="#222" >90</text>
<line x1="416.60" y1="437.90" x2="416.60" y2="440.30" stroke="#111" stroke-width="0.9" />
<text x="416.60" y="446.00" font-family='"Liberation Sans", sans-serif' font-size="5.7" font-weight="bold" font-style="normal" text-anchor="middle" fill="#222" >100</text>
<text x="354.00" y="458.20" font-family='"Liberation Sans", sans-serif' font-size="7.0" font-weight="bold" font-style="normal" text-anchor="middle" fill="#222" >Days</text>
<text transform="translate(272.0,396.5) rotate(-90)" font-family='"Liberation Sans", sans-serif' font-size="7.0" font-weight="bold" text-anchor="middle" fill="#222">Fraction survival</text>
<polyline points="290.90,354.20 311.90,354.20 311.90,360.00 318.30,360.00 318.30,367.70 322.70,367.70 322.70,372.30 326.00,372.30 326.00,390.40 341.20,390.40 341.20,396.90 349.60,396.90 349.60,407.70 353.70,407.70 353.70,413.10 357.20,413.10 357.20,419.80 359.00,419.80 359.00,425.20 361.20,425.20 361.20,437.90" fill="none" stroke="#5aa0e0" stroke-width="1.2" />
<polyline points="290.90,354.20 324.60,354.20 324.60,358.80 332.70,358.80 332.70,364.20 338.00,364.20 338.00,370.00 339.20,370.00 339.20,379.50 341.70,379.50 341.70,384.00 344.00,384.00 344.00,389.30 349.10,389.30 349.10,398.30 355.50,398.30 355.50,403.70 364.40,403.70 364.40,409.00 372.50,409.00 372.50,423.30 380.60,423.30 380.60,427.90 416.90,427.90" fill="none" stroke="#22229a" stroke-width="1.3" />
<line x1="416.60" y1="426.40" x2="416.60" y2="429.40" stroke="#22229a" stroke-width="1.2" />
<text x="295.8" y="435.8" font-family='"Liberation Serif", serif' font-size="7.8" fill="#333"><tspan font-style="italic">P</tspan> = .03</text>
<line x1="422.70" y1="360.20" x2="434.30" y2="360.20" stroke="#5aa0e0" stroke-width="1.2" />
<line x1="428.50" y1="358.80" x2="428.50" y2="361.60" stroke="#5aa0e0" stroke-width="1.0" />
<line x1="418.00" y1="370.00" x2="431.20" y2="370.00" stroke="#22229a" stroke-width="1.3" />
<line x1="424.60" y1="368.60" x2="424.60" y2="371.40" stroke="#22229a" stroke-width="1.0" />
<text x="437.5" y="362.7" fill="#333"><tspan font-size="7.4" font-family='"Liberation Serif", serif'>Eμ-<tspan font-style="italic">MYC-BIM+/-</tspan></tspan><tspan font-size="7.0" font-family='"Liberation Sans", sans-serif'>Vehicle</tspan></text>
<text x="432.8" y="372.5" fill="#333"><tspan font-size="7.4" font-family='"Liberation Serif", serif'>Eμ-<tspan font-style="italic">MYC-BIM+/-</tspan></tspan><tspan font-size="7.0" font-family='"Liberation Sans", sans-serif'>Doxorubicin</tspan></text>
<text x="0.40" y="511.60" font-family='"Liberation Sans", sans-serif' font-size="11.5" font-weight="bold" font-style="normal" text-anchor="start" fill="#111" >F</text>
<rect x="1.8" y="513.2" width="243.4" height="116.3" fill="none" stroke="#444" stroke-width="0.9"/>
<rect x="274.5" y="513.3" width="243.3" height="113.8" fill="none" stroke="#444" stroke-width="0.9"/>
<text x="105.2" y="521.4" font-family='"Liberation Serif", serif' font-size="9.3" fill="#222">Eμ-<tspan font-style="italic">MYC</tspan></text>
<text x="365.6" y="522.2" font-family='"Liberation Serif", serif' font-size="9.3" fill="#222">Eμ-<tspan font-style="italic">MYC-BIM</tspan>+/-</text>
<text x="60.90" y="530.90" font-family='"Liberation Serif", serif' font-size="6.0" font-weight="bold" font-style="normal" text-anchor="middle" fill="#1a1a1a" >VEHICLE</text>
<text x="182.20" y="530.00" font-family='"Liberation Serif", serif' font-size="6.0" font-weight="bold" font-style="normal" text-anchor="middle" fill="#1a1a1a" >DOXORUBICIN</text>
<text x="330.30" y="529.00" font-family='"Liberation Serif", serif' font-size="6.0" font-weight="bold" font-style="normal" text-anchor="middle" fill="#1a1a1a" >VEHICLE</text>
<text x="459.70" y="529.00" font-family='"Liberation Serif", serif' font-size="6.0" font-weight="bold" font-style="normal" text-anchor="middle" fill="#1a1a1a" >DOXORUBICIN</text>
<line x1="20.00" y1="533.40" x2="100.60" y2="533.40" stroke="#333" stroke-width="0.9" />
<line x1="140.20" y1="532.40" x2="219.50" y2="532.40" stroke="#333" stroke-width="0.9" />
<line x1="293.00" y1="531.90" x2="372.90" y2="531.90" stroke="#333" stroke-width="0.9" />
<line x1="417.90" y1="531.90" x2="497.90" y2="531.90" stroke="#333" stroke-width="0.9" />
<line x1="62.20" y1="536.50" x2="62.20" y2="621.00" stroke="#999" stroke-width="1.0" />
<line x1="183.60" y1="536.50" x2="183.60" y2="621.00" stroke="#999" stroke-width="1.0" />
<line x1="335.40" y1="536.50" x2="335.40" y2="621.00" stroke="#999" stroke-width="1.0" />
<line x1="458.10" y1="536.50" x2="458.10" y2="621.00" stroke="#999" stroke-width="1.0" />
<rect x="5.6" y="537.2" width="55.8" height="84.0" fill="#000004"/>
<g clip-path="url(#pc1)">
<ellipse cx="33" cy="580" rx="18" ry="46" fill="#060e70" fill-opacity="1.0" filter="url(#b4)"/>
<ellipse cx="33" cy="580" rx="11" ry="40" fill="#0a1c9c" fill-opacity="0.9" filter="url(#b3)"/>
<ellipse cx="34.8" cy="563.3" rx="4.1" ry="5.6" fill="#1838c8" fill-opacity="0.43" filter="url(#b15)"/>
<ellipse cx="36.6" cy="564.3" rx="2.6" ry="2.5" fill="#1838c8" fill-opacity="0.48" filter="url(#b15)"/>
<ellipse cx="26.7" cy="600.6" rx="2.2" ry="2.1" fill="#1838c8" fill-opacity="0.35" filter="url(#b15)"/>
<ellipse cx="38.9" cy="571.6" rx="3.1" ry="3.1" fill="#1838c8" fill-opacity="0.47" filter="url(#b15)"/>
<ellipse cx="30.9" cy="564.0" rx="3.0" ry="3.0" fill="#1838c8" fill-opacity="0.35" filter="url(#b15)"/>
<ellipse cx="40.1" cy="586.6" rx="3.5" ry="4.6" fill="#1838c8" fill-opacity="0.42" filter="url(#b15)"/>
<ellipse cx="30.3" cy="574.3" rx="2.9" ry="3.5" fill="#1838c8" fill-opacity="0.33" filter="url(#b15)"/>
<ellipse cx="32.2" cy="579.7" rx="2.8" ry="2.3" fill="#1838c8" fill-opacity="0.49" filter="url(#b15)"/>
<ellipse cx="22.2" cy="581.1" rx="2.4" ry="2.0" fill="#1838c8" fill-opacity="0.37" filter="url(#b15)"/>
<ellipse cx="23.4" cy="561.2" rx="3.5" ry="4.4" fill="#1838c8" fill-opacity="0.41" filter="url(#b15)"/>
<ellipse cx="36.4" cy="576.8" rx="3.1" ry="4.2" fill="#1838c8" fill-opacity="0.4" filter="url(#b15)"/>
<ellipse cx="41.1" cy="587.2" rx="3.5" ry="2.8" fill="#1838c8" fill-opacity="0.35" filter="url(#b15)"/>
<ellipse cx="22.7" cy="570.6" rx="4.1" ry="5.4" fill="#1838c8" fill-opacity="0.51" filter="url(#b15)"/>
<ellipse cx="24.6" cy="587.9" rx="3.7" ry="4.8" fill="#1838c8" fill-opacity="0.5" filter="url(#b15)"/>
<ellipse cx="25.1" cy="562.6" rx="3.8" ry="4.7" fill="#1838c8" fill-opacity="0.53" filter="url(#b15)"/>
<ellipse cx="31.8" cy="596.7" rx="2.4" ry="3.3" fill="#1838c8" fill-opacity="0.52" filter="url(#b15)"/>
<ellipse cx="24" cy="540.8" rx="5.5" ry="3.6" fill="#22c8f4" fill-opacity="0.95" filter="url(#b15)"/>
<ellipse cx="40.5" cy="540.8" rx="5.5" ry="3.6" fill="#22c8f4" fill-opacity="0.95" filter="url(#b15)"/>
<ellipse cx="32" cy="539" rx="12" ry="3" fill="#1a90f0" fill-opacity="0.7" filter="url(#b2)"/>
<ellipse cx="32" cy="582" rx="6" ry="5" fill="#1850d8" fill-opacity="0.8" filter="url(#b2)"/>
<ellipse cx="23" cy="603" rx="2.6" ry="7" fill="#22c8f4" fill-opacity="0.95" filter="url(#b15)" transform="rotate(-40 23 603)"/>
<ellipse cx="43.5" cy="603.5" rx="2.6" ry="7" fill="#22c8f4" fill-opacity="0.95" filter="url(#b15)" transform="rotate(40 43.5 603.5)"/>
<ellipse cx="21" cy="619.5" rx="4" ry="2.5" fill="#1a80e8" fill-opacity="0.8" filter="url(#b15)"/>
<ellipse cx="45" cy="619.5" rx="4" ry="2.5" fill="#1a80e8" fill-opacity="0.8" filter="url(#b15)"/>
<ellipse cx="33" cy="597" rx="8.5" ry="8.5" fill="#1ea0f0" fill-opacity="0.95" filter="url(#b2)"/>
<ellipse cx="33" cy="606" rx="5" ry="5" fill="#1870e0" fill-opacity="0.8" filter="url(#b2)"/>
<ellipse cx="33.3" cy="596.4" rx="7.3" ry="7.3" fill="#20a0f0" fill-opacity="0.9" filter="url(#b2)"/>
<ellipse cx="33.3" cy="596.4" rx="5.6000000000000005" ry="5.6000000000000005" fill="#60e040" fill-opacity="1" filter="url(#b1)"/>
<ellipse cx="33.3" cy="596.4" rx="4.4" ry="4.4" fill="#f8e820" fill-opacity="1" filter="url(#b03)"/>
<ellipse cx="33.3" cy="596.4" rx="2.8" ry="2.8" fill="#000" fill-opacity="1" filter="url(#b03)"/>
<ellipse cx="32.6" cy="554.9" rx="14" ry="10" fill="none" stroke="#e85888" stroke-width="1.1" stroke-dasharray="1.8 1.3" opacity="1"/>
<text x="37.2" y="566.0" font-family='"Liberation Sans", sans-serif' font-size="5.0" font-weight="bold" fill="#f8f8ff">Liver</text>
<text x="37.2" y="571.7" font-family='"Liberation Sans", sans-serif' font-size="5.0" font-weight="bold" fill="#f8f8ff">SUV: 0.00</text>
</g>
<rect x="63.1" y="537.2" width="56.8" height="84.0" fill="#000004"/>
<g clip-path="url(#pc2)">
<ellipse cx="91" cy="590" rx="15" ry="40" fill="#060e70" fill-opacity="1.0" filter="url(#b4)"/>
<ellipse cx="91" cy="595" rx="10" ry="24" fill="#1030b8" fill-opacity="0.9" filter="url(#b3)"/>
<ellipse cx="84.7" cy="599.2" rx="2.5" ry="3.0" fill="#1a50d8" fill-opacity="0.51" filter="url(#b15)"/>
<ellipse cx="88.9" cy="599.2" rx="3.3" ry="2.7" fill="#1a50d8" fill-opacity="0.49" filter="url(#b15)"/>
<ellipse cx="93.2" cy="595.7" rx="3.9" ry="4.9" fill="#1a50d8" fill-opacity="0.45" filter="url(#b15)"/>
<ellipse cx="86.1" cy="581.6" rx="3.8" ry="4.6" fill="#1a50d8" fill-opacity="0.51" filter="url(#b15)"/>
<ellipse cx="90.0" cy="595.0" rx="2.6" ry="2.9" fill="#1a50d8" fill-opacity="0.39" filter="url(#b15)"/>
<ellipse cx="93.2" cy="599.7" rx="3.5" ry="3.3" fill="#1a50d8" fill-opacity="0.38" filter="url(#b15)"/>
<ellipse cx="88.0" cy="601.8" rx="3.2" ry="4.0" fill="#1a50d8" fill-opacity="0.46" filter="url(#b15)"/>
<ellipse cx="89.2" cy="609.7" rx="2.5" ry="2.3" fill="#1a50d8" fill-opacity="0.5" filter="url(#b15)"/>
<ellipse cx="93.4" cy="592.6" rx="3.3" ry="3.5" fill="#1a50d8" fill-opacity="0.52" filter="url(#b15)"/>
<ellipse cx="98.0" cy="606.7" rx="3.4" ry="3.7" fill="#1a50d8" fill-opacity="0.59" filter="url(#b15)"/>
<ellipse cx="91" cy="557" rx="20" ry="15" fill="#1cb0f0" fill-opacity="1" filter="url(#b3)"/>
<ellipse cx="90" cy="540" rx="13" ry="6" fill="#22c0f0" fill-opacity="1" filter="url(#b2)"/>
<ellipse cx="91" cy="558" rx="17" ry="12.5" fill="#38d880" fill-opacity="1" filter="url(#b2)"/>
<ellipse cx="90" cy="541" rx="9" ry="4.5" fill="#40d8a0" fill-opacity="1" filter="url(#b15)"/>
<ellipse cx="88" cy="557" rx="12" ry="10" fill="#b0e830" fill-opacity="1" filter="url(#b2)"/>
<ellipse cx="86" cy="556" rx="9" ry="9" fill="#e8e820" fill-opacity="0.95" filter="url(#b15)"/>
<ellipse cx="94" cy="542" rx="4.5" ry="4" fill="#d0e820" fill-opacity="1" filter="url(#b15)"/>
<ellipse cx="94.2" cy="542" rx="2" ry="2.2" fill="#f09020" fill-opacity="1" filter="url(#b1)"/>
<ellipse cx="83" cy="557" rx="5.5" ry="7.5" fill="#f07010" fill-opacity="1" filter="url(#b1)"/>
<ellipse cx="82.6" cy="557" rx="3.8" ry="5.8" fill="#e81010" fill-opacity="1" filter="url(#b03)"/>
<ellipse cx="82.2" cy="602.5" rx="5.5" ry="4" fill="#22c8f4" fill-opacity="1" filter="url(#b2)"/>
<ellipse cx="98" cy="602" rx="3.5" ry="3" fill="#1ab0f0" fill-opacity="0.9" filter="url(#b2)"/>
<ellipse cx="90.6" cy="617.5" rx="4" ry="3.5" fill="#22c8f4" fill-opacity="1" filter="url(#b2)"/>
<path d="M83,545.5 L100,544.5" stroke="#806030" stroke-width="0.6" stroke-dasharray="1.5 1.2" fill="none"/>
<text x="96.6" y="568.4" font-family='"Liberation Sans", sans-serif' font-size="5.0" font-weight="bold" fill="#f8f8ff">Liver</text>
<text x="96.6" y="574.1" font-family='"Liberation Sans", sans-serif' font-size="5.0" font-weight="bold" fill="#f8f8ff">SUV: 2.15</text>
</g>
<rect x="127.2" y="536.7" width="55.6" height="83.8" fill="#000004"/>
<g clip-path="url(#pc3)">
<ellipse cx="155" cy="580" rx="21" ry="46" fill="#060e70" fill-opacity="1.0" filter="url(#b4)"/>
<ellipse cx="155" cy="585" rx="13" ry="34" fill="#0c20a8" fill-opacity="0.9" filter="url(#b4)"/>
<ellipse cx="166.5" cy="577.6" rx="3.6" ry="4.5" fill="#1838c8" fill-opacity="0.34" filter="url(#b15)"/>
<ellipse cx="144.9" cy="585.8" rx="2.4" ry="2.4" fill="#1838c8" fill-opacity="0.48" filter="url(#b15)"/>
<ellipse cx="163.9" cy="558.6" rx="2.3" ry="2.1" fill="#1838c8" fill-opacity="0.47" filter="url(#b15)"/>
<ellipse cx="143.6" cy="564.6" rx="2.3" ry="2.0" fill="#1838c8" fill-opacity="0.4" filter="url(#b15)"/>
<ellipse cx="147.4" cy="574.9" rx="3.6" ry="4.5" fill="#1838c8" fill-opacity="0.38" filter="url(#b15)"/>
<ellipse cx="161.9" cy="584.1" rx="3.8" ry="3.6" fill="#1838c8" fill-opacity="0.37" filter="url(#b15)"/>
<ellipse cx="156.9" cy="605.0" rx="3.4" ry="3.7" fill="#1838c8" fill-opacity="0.35" filter="url(#b15)"/>
<ellipse cx="149.8" cy="564.1" rx="4.2" ry="5.6" fill="#1838c8" fill-opacity="0.48" filter="url(#b15)"/>
<ellipse cx="155.7" cy="591.7" rx="2.7" ry="3.0" fill="#1838c8" fill-opacity="0.33" filter="url(#b15)"/>
<ellipse cx="153.1" cy="566.2" rx="2.3" ry="3.1" fill="#1838c8" fill-opacity="0.32" filter="url(#b15)"/>
<ellipse cx="162.5" cy="591.2" rx="2.3" ry="2.5" fill="#1838c8" fill-opacity="0.5" filter="url(#b15)"/>
<ellipse cx="166.7" cy="583.5" rx="3.7" ry="4.6" fill="#1838c8" fill-opacity="0.36" filter="url(#b15)"/>
<ellipse cx="156.2" cy="585.4" rx="2.9" ry="3.8" fill="#1838c8" fill-opacity="0.39" filter="url(#b15)"/>
<ellipse cx="161.0" cy="555.6" rx="3.0" ry="2.5" fill="#1838c8" fill-opacity="0.43" filter="url(#b15)"/>
<ellipse cx="146" cy="537.5" rx="4" ry="2.5" fill="#22c8f4" fill-opacity="0.75" filter="url(#b15)"/>
<ellipse cx="161.3" cy="537.5" rx="4" ry="2.5" fill="#22c8f4" fill-opacity="0.75" filter="url(#b15)"/>
<ellipse cx="158" cy="601" rx="7.5" ry="7.5" fill="#1e90f0" fill-opacity="0.95" filter="url(#b2)"/>
<ellipse cx="158" cy="612" rx="8" ry="6" fill="#1438c8" fill-opacity="0.8" filter="url(#b3)"/>
<ellipse cx="158.1" cy="600.3" rx="6.4" ry="6.4" fill="#20a0f0" fill-opacity="0.9" filter="url(#b2)"/>
<ellipse cx="158.1" cy="600.3" rx="5.8" ry="5.8" fill="#30d0a0" fill-opacity="1" filter="url(#b1)"/>
<ellipse cx="158.1" cy="600.3" rx="4.6" ry="4.6" fill="#50e060" fill-opacity="1" filter="url(#b03)"/>
<ellipse cx="158.1" cy="600.3" rx="2.9" ry="2.9" fill="#000" fill-opacity="1" filter="url(#b03)"/>
<path d="M142,547.5 Q153,544.8 165,546.2 Q168.3,547.5 167.6,552 Q166.5,557 162,561.5 Q158,563.8 150,563.6 L145,563.2 Q140.5,562 139.8,556 Q139.8,549 142,547.5 Z" fill="none" stroke="#e85888" stroke-width="1.1" stroke-dasharray="1.8 1.3" opacity="1"/>
<text x="158.9" y="564.6" font-family='"Liberation Sans", sans-serif' font-size="5.0" font-weight="bold" fill="#f8f8ff">Liver</text>
<text x="158.9" y="570.6" font-family='"Liberation Sans", sans-serif' font-size="5.0" font-weight="bold" fill="#f8f8ff">SUV: 0.00</text>
</g>
<rect x="184.6" y="536.4" width="55.8" height="83.7" fill="#000004"/>
<g clip-path="url(#pc4)">
<ellipse cx="212" cy="580" rx="22" ry="46" fill="#060e70" fill-opacity="1.0" filter="url(#b4)"/>
<ellipse cx="212" cy="595" rx="15" ry="28" fill="#1440d0" fill-opacity="0.9" filter="url(#b4)"/>
<ellipse cx="224.0" cy="604.3" rx="3.6" ry="3.4" fill="#1c50e0" fill-opacity="0.4" filter="url(#b15)"/>
<ellipse cx="217.6" cy="600.9" rx="2.1" ry="1.9" fill="#1c50e0" fill-opacity="0.53" filter="url(#b15)"/>
<ellipse cx="202.1" cy="593.1" rx="2.8" ry="3.3" fill="#1c50e0" fill-opacity="0.52" filter="url(#b15)"/>
<ellipse cx="214.1" cy="579.3" rx="2.8" ry="3.3" fill="#1c50e0" fill-opacity="0.47" filter="url(#b15)"/>
<ellipse cx="209.6" cy="583.3" rx="3.2" ry="3.1" fill="#1c50e0" fill-opacity="0.37" filter="url(#b15)"/>
<ellipse cx="213.8" cy="564.2" rx="3.4" ry="4.3" fill="#1c50e0" fill-opacity="0.51" filter="url(#b15)"/>
<ellipse cx="205.6" cy="580.6" rx="4.0" ry="4.1" fill="#1c50e0" fill-opacity="0.55" filter="url(#b15)"/>
<ellipse cx="204.2" cy="602.7" rx="2.2" ry="2.6" fill="#1c50e0" fill-opacity="0.51" filter="url(#b15)"/>
<ellipse cx="213.2" cy="591.9" rx="4.0" ry="5.6" fill="#1c50e0" fill-opacity="0.37" filter="url(#b15)"/>
<ellipse cx="212.6" cy="561.1" rx="2.9" ry="2.6" fill="#1c50e0" fill-opacity="0.37" filter="url(#b15)"/>
<ellipse cx="215.2" cy="563.4" rx="2.4" ry="2.0" fill="#1c50e0" fill-opacity="0.51" filter="url(#b15)"/>
<ellipse cx="205.3" cy="562.8" rx="3.4" ry="4.2" fill="#1c50e0" fill-opacity="0.47" filter="url(#b15)"/>
<ellipse cx="213.2" cy="586.8" rx="3.6" ry="3.6" fill="#1c50e0" fill-opacity="0.52" filter="url(#b15)"/>
<ellipse cx="217.0" cy="603.6" rx="4.0" ry="5.2" fill="#1c50e0" fill-opacity="0.44" filter="url(#b15)"/>
<ellipse cx="200" cy="541" rx="3" ry="6" fill="#1a90f0" fill-opacity="0.75" filter="url(#b15)"/>
<ellipse cx="222.5" cy="541" rx="3" ry="6" fill="#1a90f0" fill-opacity="0.75" filter="url(#b15)"/>
<ellipse cx="200" cy="619" rx="5" ry="3.5" fill="#22c8f4" fill-opacity="1" filter="url(#b2)"/>
<ellipse cx="229.4" cy="619" rx="5" ry="3.5" fill="#22c8f4" fill-opacity="1" filter="url(#b2)"/>
<ellipse cx="213.8" cy="599" rx="9" ry="9" fill="#20b0f0" fill-opacity="0.95" filter="url(#b2)"/>
<ellipse cx="213.8" cy="598.5" rx="7.0" ry="7.0" fill="#20a0f0" fill-opacity="0.9" filter="url(#b2)"/>
<ellipse cx="213.8" cy="598.5" rx="5.8" ry="5.8" fill="#50e060" fill-opacity="1" filter="url(#b1)"/>
<ellipse cx="213.8" cy="598.5" rx="4.6" ry="4.6" fill="#f4f020" fill-opacity="1" filter="url(#b03)"/>
<ellipse cx="213.8" cy="598.5" rx="3.0" ry="3.0" fill="#000" fill-opacity="1" filter="url(#b03)"/>
<path d="M199,548 Q210,545.5 222,546.6 Q225.2,548 224.6,552.5 Q223.5,557.5 219,561.5 Q215,563.8 207,563.6 L202,563.2 Q197.5,562 196.8,556.5 Q196.8,549.5 199,548 Z" fill="none" stroke="#e85888" stroke-width="1.1" stroke-dasharray="1.8 1.3" opacity="1"/>
<text x="216.6" y="563.9" font-family='"Liberation Sans", sans-serif' font-size="5.0" font-weight="bold" fill="#f8f8ff">Liver</text>
<text x="216.6" y="570.2" font-family='"Liberation Sans", sans-serif' font-size="5.0" font-weight="bold" fill="#f8f8ff">SUV: 0.00</text>
</g>
<rect x="249.2" y="536.8" width="4.4" height="71.0" rx="2.2" fill="#a0a0a0"/>
<rect x="249.39999999999998" y="538.6" width="4.0" height="67.4" fill="url(#cbar)"/>
<rect x="266.4" y="536.8" width="4.4" height="71.0" rx="2.2" fill="#a0a0a0"/>
<rect x="266.59999999999997" y="538.6" width="4.0" height="67.4" fill="url(#cbar)"/>
<text x="260.20" y="529.70" font-family='"Liberation Sans", sans-serif' font-size="6.2" font-weight="normal" font-style="normal" text-anchor="middle" fill="#333" >4 SUV</text>
<text x="260.20" y="621.80" font-family='"Liberation Sans", sans-serif' font-size="6.2" font-weight="normal" font-style="normal" text-anchor="middle" fill="#333" >0 SUV</text>
<rect x="277.8" y="535.9" width="56.7" height="83.3" fill="#000004"/>
<g clip-path="url(#pc5)">
<ellipse cx="304" cy="578" rx="13" ry="46" fill="#050c68" fill-opacity="1.0" filter="url(#b3)"/>
<ellipse cx="304" cy="575" rx="8" ry="38" fill="#0a1890" fill-opacity="0.9" filter="url(#b3)"/>
<ellipse cx="310.0" cy="554.0" rx="3.2" ry="4.4" fill="#1a3ccc" fill-opacity="0.43" filter="url(#b15)"/>
<ellipse cx="308.3" cy="553.4" rx="2.1" ry="2.1" fill="#1a3ccc" fill-opacity="0.54" filter="url(#b15)"/>
<ellipse cx="298.4" cy="566.4" rx="2.4" ry="2.2" fill="#1a3ccc" fill-opacity="0.46" filter="url(#b15)"/>
<ellipse cx="302.2" cy="558.4" rx="3.4" ry="4.6" fill="#1a3ccc" fill-opacity="0.41" filter="url(#b15)"/>
<ellipse cx="311.8" cy="564.5" rx="3.5" ry="4.6" fill="#1a3ccc" fill-opacity="0.49" filter="url(#b15)"/>
<ellipse cx="300.0" cy="577.2" rx="3.6" ry="4.2" fill="#1a3ccc" fill-opacity="0.39" filter="url(#b15)"/>
<ellipse cx="309.2" cy="570.6" rx="3.4" ry="4.7" fill="#1a3ccc" fill-opacity="0.59" filter="url(#b15)"/>
<ellipse cx="307.8" cy="555.7" rx="2.8" ry="3.0" fill="#1a3ccc" fill-opacity="0.54" filter="url(#b15)"/>
<ellipse cx="306.0" cy="573.0" rx="2.7" ry="3.1" fill="#1a3ccc" fill-opacity="0.59" filter="url(#b15)"/>
<ellipse cx="308.7" cy="577.2" rx="3.1" ry="2.7" fill="#1a3ccc" fill-opacity="0.46" filter="url(#b15)"/>
<ellipse cx="300.7" cy="550.5" rx="2.0" ry="1.8" fill="#1a3ccc" fill-opacity="0.48" filter="url(#b15)"/>
<ellipse cx="308.5" cy="574.7" rx="3.5" ry="4.1" fill="#1a3ccc" fill-opacity="0.36" filter="url(#b15)"/>
<ellipse cx="296.7" cy="601.4" rx="2.2" ry="5.5" fill="#1aa0f0" fill-opacity="0.95" filter="url(#b1)" transform="rotate(-8 296.7 601.4)"/>
<ellipse cx="316.6" cy="599.3" rx="2.2" ry="5.5" fill="#1aa0f0" fill-opacity="0.95" filter="url(#b1)" transform="rotate(8 316.6 599.3)"/>
<ellipse cx="306" cy="612" rx="2.5" ry="4" fill="#1850e0" fill-opacity="0.9" filter="url(#b15)"/>
<ellipse cx="305" cy="591" rx="4" ry="3" fill="#1838c8" fill-opacity="0.7" filter="url(#b15)"/>
<ellipse cx="304.2" cy="581" rx="6.2" ry="6.2" fill="#20b8f0" fill-opacity="0.95" filter="url(#b15)"/>
<ellipse cx="304.2" cy="580.7" rx="5.0" ry="5.0" fill="#20a0f0" fill-opacity="0.9" filter="url(#b2)"/>
<ellipse cx="304.2" cy="580.7" rx="5.5" ry="5.5" fill="#40e070" fill-opacity="1" filter="url(#b1)"/>
<ellipse cx="304.2" cy="580.7" rx="4.3" ry="4.3" fill="#d8f030" fill-opacity="1" filter="url(#b03)"/>
<ellipse cx="304.2" cy="580.7" rx="2.5" ry="2.5" fill="#000" fill-opacity="1" filter="url(#b03)"/>
</g>
<rect x="336.2" y="535.9" width="57.4" height="83.2" fill="#000004"/>
<g clip-path="url(#pc6)">
<ellipse cx="369" cy="578" rx="16" ry="46" fill="#081690" fill-opacity="1.0" filter="url(#b4)"/>
<ellipse cx="370" cy="568" rx="11" ry="32" fill="#1458e0" fill-opacity="0.95" filter="url(#b3)"/>
<ellipse cx="374.2" cy="585.9" rx="2.1" ry="2.9" fill="#20a0f0" fill-opacity="0.74" filter="url(#b15)"/>
<ellipse cx="361.1" cy="580.9" rx="3.8" ry="3.5" fill="#20a0f0" fill-opacity="0.79" filter="url(#b15)"/>
<ellipse cx="367.3" cy="562.4" rx="3.5" ry="4.2" fill="#20a0f0" fill-opacity="0.72" filter="url(#b15)"/>
<ellipse cx="365.6" cy="564.2" rx="2.4" ry="2.3" fill="#20a0f0" fill-opacity="0.64" filter="url(#b15)"/>
<ellipse cx="361.5" cy="557.1" rx="3.8" ry="3.5" fill="#20a0f0" fill-opacity="0.62" filter="url(#b15)"/>
<ellipse cx="360.7" cy="577.4" rx="2.3" ry="2.1" fill="#20a0f0" fill-opacity="0.72" filter="url(#b15)"/>
<ellipse cx="368.8" cy="567.8" rx="3.4" ry="3.7" fill="#20a0f0" fill-opacity="0.62" filter="url(#b15)"/>
<ellipse cx="363.1" cy="546.4" rx="2.5" ry="2.4" fill="#20a0f0" fill-opacity="0.58" filter="url(#b15)"/>
<ellipse cx="377.8" cy="550.1" rx="2.4" ry="2.3" fill="#20a0f0" fill-opacity="0.52" filter="url(#b15)"/>
<ellipse cx="376.6" cy="588.6" rx="3.7" ry="5.1" fill="#20a0f0" fill-opacity="0.66" filter="url(#b15)"/>
<ellipse cx="369.1" cy="559.0" rx="3.5" ry="3.3" fill="#20a0f0" fill-opacity="0.65" filter="url(#b15)"/>
<ellipse cx="367.8" cy="573.8" rx="3.9" ry="4.7" fill="#20a0f0" fill-opacity="0.52" filter="url(#b15)"/>
<ellipse cx="371.9" cy="577.0" rx="3.2" ry="2.7" fill="#20a0f0" fill-opacity="0.51" filter="url(#b15)"/>
<ellipse cx="370.8" cy="576.3" rx="3.1" ry="3.9" fill="#20a0f0" fill-opacity="0.66" filter="url(#b15)"/>
<ellipse cx="382" cy="556" rx="5.5" ry="16" fill="#22c0f0" fill-opacity="0.95" filter="url(#b2)"/>
<ellipse cx="364" cy="539.5" rx="6" ry="5" fill="#40e0b0" fill-opacity="1" filter="url(#b2)"/>
<ellipse cx="358" cy="548" rx="4" ry="6" fill="#20b0f0" fill-opacity="0.9" filter="url(#b2)"/>
<ellipse cx="366" cy="554.4" rx="5" ry="4.6" fill="#40d890" fill-opacity="1" filter="url(#b15)"/>
<ellipse cx="366" cy="554.4" rx="2.5" ry="2.2" fill="#a0e840" fill-opacity="0.9" filter="url(#b1)"/>
<ellipse cx="375" cy="565" rx="3.8" ry="6.8" fill="#50e060" fill-opacity="1" filter="url(#b15)"/>
<ellipse cx="375" cy="565.1" rx="2.4" ry="5.0" fill="#f0f020" fill-opacity="1" filter="url(#b1)"/>
<ellipse cx="367.1" cy="581.5" rx="12.5" ry="11.5" fill="#22c8f0" fill-opacity="1" filter="url(#b2)"/>
<ellipse cx="367.1" cy="581.5" rx="10.2" ry="9.4" fill="#50e070" fill-opacity="1" filter="url(#b1)"/>
<ellipse cx="358.2" cy="596" rx="4.5" ry="4" fill="#22c8f4" fill-opacity="1" filter="url(#b2)"/>
<ellipse cx="369" cy="600" rx="6" ry="4.5" fill="#40e0a0" fill-opacity="1" filter="url(#b2)"/>
<ellipse cx="364" cy="606" rx="3.5" ry="3" fill="#22c8f4" fill-opacity="1" filter="url(#b15)"/>
<ellipse cx="367.1" cy="581.5" rx="8.6" ry="7.8" fill="#f4f020" fill-opacity="1" filter="url(#b03)"/>
<ellipse cx="367.1" cy="581.5" rx="6.2" ry="5.3" fill="#000" fill-opacity="1" filter="url(#b03)"/>
<ellipse cx="366.1" cy="554.4" rx="4.2" ry="3.8" fill="none" stroke="#206040" stroke-width="0.6" stroke-dasharray="1 1"/>
<ellipse cx="375" cy="565.1" rx="3" ry="5.6" fill="none" stroke="#405020" stroke-width="0.6" stroke-dasharray="1 1"/>
<text x="369.3" y="549.0" font-family='"Liberation Sans", sans-serif' font-size="5.0" font-weight="bold" fill="#f8f8ff">SUV:1.31</text>
<text x="346.5" y="565.3" font-family='"Liberation Sans", sans-serif' font-size="5.0" font-weight="bold" fill="#f8f8ff">Spleen</text>
<text x="346.5" y="571.5" font-family='"Liberation Sans", sans-serif' font-size="5.0" font-weight="bold" fill="#f8f8ff">SUV: 2.44</text>
</g>
<rect x="403.6" y="535.9" width="53.4" height="82.8" fill="#000004"/>
<g clip-path="url(#pc7)">
<ellipse cx="428" cy="578" rx="12" ry="46" fill="#050c68" fill-opacity="1.0" filter="url(#b3)"/>
<ellipse cx="428" cy="575" rx="7.5" ry="38" fill="#0a1890" fill-opacity="0.85" filter="url(#b3)"/>
<ellipse cx="424.5" cy="563.6" rx="3.6" ry="4.2" fill="#1a3ccc" fill-opacity="0.44" filter="url(#b15)"/>
<ellipse cx="425.3" cy="544.1" rx="3.6" ry="4.5" fill="#1a3ccc" fill-opacity="0.39" filter="url(#b15)"/>
<ellipse cx="429.3" cy="569.2" rx="3.4" ry="3.3" fill="#1a3ccc" fill-opacity="0.4" filter="url(#b15)"/>
<ellipse cx="423.6" cy="563.9" rx="3.5" ry="4.3" fill="#1a3ccc" fill-opacity="0.36" filter="url(#b15)"/>
<ellipse cx="426.2" cy="541.4" rx="2.1" ry="2.3" fill="#1a3ccc" fill-opacity="0.36" filter="url(#b15)"/>
<ellipse cx="424.8" cy="548.7" rx="2.6" ry="3.4" fill="#1a3ccc" fill-opacity="0.38" filter="url(#b15)"/>
<ellipse cx="429.6" cy="555.6" rx="2.3" ry="2.3" fill="#1a3ccc" fill-opacity="0.5" filter="url(#b15)"/>
<ellipse cx="432.8" cy="570.2" rx="3.4" ry="4.2" fill="#1a3ccc" fill-opacity="0.4" filter="url(#b15)"/>
<ellipse cx="424.3" cy="562.9" rx="2.9" ry="3.7" fill="#1a3ccc" fill-opacity="0.53" filter="url(#b15)"/>
<ellipse cx="432.2" cy="580.9" rx="3.0" ry="3.6" fill="#1a3ccc" fill-opacity="0.51" filter="url(#b15)"/>
<ellipse cx="428.0" cy="573.1" rx="3.4" ry="3.7" fill="#1a3ccc" fill-opacity="0.41" filter="url(#b15)"/>
<ellipse cx="426.3" cy="564.9" rx="2.8" ry="3.1" fill="#1a3ccc" fill-opacity="0.42" filter="url(#b15)"/>
<ellipse cx="423.5" cy="601.4" rx="2.2" ry="5.5" fill="#1890f0" fill-opacity="0.9" filter="url(#b1)" transform="rotate(-8 423.5 601.4)"/>
<ellipse cx="439.2" cy="602.8" rx="2.2" ry="5.5" fill="#1890f0" fill-opacity="0.9" filter="url(#b1)" transform="rotate(8 439.2 602.8)"/>
<ellipse cx="430.2" cy="582" rx="5.8" ry="5.8" fill="#20b0f0" fill-opacity="0.9" filter="url(#b15)"/>
<ellipse cx="430.2" cy="581.5" rx="4.699999999999999" ry="4.699999999999999" fill="#20a0f0" fill-opacity="0.9" filter="url(#b2)"/>
<ellipse cx="430.2" cy="581.5" rx="5.1" ry="5.1" fill="#40e0a0" fill-opacity="1" filter="url(#b1)"/>
<ellipse cx="430.2" cy="581.5" rx="3.9" ry="3.9" fill="#c8f040" fill-opacity="1" filter="url(#b03)"/>
<ellipse cx="430.2" cy="581.5" rx="2.3" ry="2.3" fill="#000" fill-opacity="1" filter="url(#b03)"/>
</g>
<rect x="458.9" y="535.9" width="57.0" height="82.8" fill="#000004"/>
<g clip-path="url(#pc8)">
<ellipse cx="488" cy="578" rx="15" ry="46" fill="#050c68" fill-opacity="1.0" filter="url(#b4)"/>
<ellipse cx="488" cy="570" rx="9" ry="30" fill="#0c1c98" fill-opacity="0.85" filter="url(#b3)"/>
<ellipse cx="483.3" cy="577.6" rx="3.4" ry="3.5" fill="#1838c8" fill-opacity="0.36" filter="url(#b15)"/>
<ellipse cx="484.5" cy="548.2" rx="2.2" ry="2.0" fill="#1838c8" fill-opacity="0.47" filter="url(#b15)"/>
<ellipse cx="484.4" cy="552.6" rx="3.5" ry="4.7" fill="#1838c8" fill-opacity="0.32" filter="url(#b15)"/>
<ellipse cx="486.8" cy="584.5" rx="2.5" ry="2.9" fill="#1838c8" fill-opacity="0.44" filter="url(#b15)"/>
<ellipse cx="492.6" cy="547.2" rx="3.1" ry="4.0" fill="#1838c8" fill-opacity="0.39" filter="url(#b15)"/>
<ellipse cx="487.2" cy="573.9" rx="3.6" ry="4.9" fill="#1838c8" fill-opacity="0.34" filter="url(#b15)"/>
<ellipse cx="494.7" cy="564.6" rx="3.6" ry="4.9" fill="#1838c8" fill-opacity="0.4" filter="url(#b15)"/>
<ellipse cx="497.2" cy="580.4" rx="2.0" ry="2.1" fill="#1838c8" fill-opacity="0.49" filter="url(#b15)"/>
<ellipse cx="485.2" cy="562.5" rx="2.9" ry="3.0" fill="#1838c8" fill-opacity="0.46" filter="url(#b15)"/>
<ellipse cx="484.3" cy="568.9" rx="2.8" ry="2.3" fill="#1838c8" fill-opacity="0.46" filter="url(#b15)"/>
<ellipse cx="488.4" cy="538" rx="12" ry="4.5" fill="#20b0f0" fill-opacity="1" filter="url(#b2)"/>
<ellipse cx="488.4" cy="537.5" rx="9.5" ry="3.2" fill="#40e080" fill-opacity="1" filter="url(#b1)"/>
<ellipse cx="488.4" cy="536.8" rx="8" ry="2.2" fill="#f0f020" fill-opacity="1" filter="url(#b1)"/>
<ellipse cx="492.5" cy="565" rx="10" ry="8.5" fill="#1860e0" fill-opacity="0.9" filter="url(#b2)"/>
<ellipse cx="493.1" cy="566.5" rx="7.5" ry="5.5" fill="#1a90f0" fill-opacity="1" filter="url(#b2)"/>
<ellipse cx="494" cy="567.5" rx="5.5" ry="4" fill="#30d0f0" fill-opacity="1" filter="url(#b15)"/>
<ellipse cx="488.8" cy="583.3" rx="8" ry="8" fill="#20b0f0" fill-opacity="0.95" filter="url(#b2)"/>
<ellipse cx="477.4" cy="599.3" rx="2.5" ry="3" fill="#1850e0" fill-opacity="0.8" filter="url(#b15)"/>
<ellipse cx="496.6" cy="599.3" rx="2.5" ry="3" fill="#1850e0" fill-opacity="0.8" filter="url(#b15)"/>
<ellipse cx="492" cy="564" rx="11" ry="10" fill="none" stroke="#c84878" stroke-width="0.6" stroke-dasharray="1.2 1.6" opacity="0.6"/>
<ellipse cx="488.8" cy="582.9" rx="6.4" ry="6.4" fill="#20a0f0" fill-opacity="0.9" filter="url(#b2)"/>
<ellipse cx="488.8" cy="582.9" rx="6.2" ry="6.2" fill="#50e070" fill-opacity="1" filter="url(#b1)"/>
<ellipse cx="488.8" cy="582.9" rx="5.0" ry="5.0" fill="#e8f028" fill-opacity="1" filter="url(#b03)"/>
<ellipse cx="488.8" cy="582.9" rx="3.4" ry="3.4" fill="#000" fill-opacity="1" filter="url(#b03)"/>
<text x="487.8" y="549.0" font-family='"Liberation Sans", sans-serif' font-size="5.0" font-weight="bold" fill="#f8f8ff">SUV: 0.82</text>
<text x="466.4" y="570.2" font-family='"Liberation Sans", sans-serif' font-size="5.0" font-weight="bold" fill="#f8f8ff">Spleen</text>
<text x="465.0" y="576.3" font-family='"Liberation Sans", sans-serif' font-size="5.0" font-weight="bold" fill="#f8f8ff">SUV: 1.1</text>
</g>
<text x="34.40" y="626.90" font-family='"Liberation Serif", serif' font-size="8.4" font-weight="normal" font-style="normal" text-anchor="middle" fill="#111" >7 Days</text>
<text x="90.20" y="626.90" font-family='"Liberation Serif", serif' font-size="8.4" font-weight="normal" font-style="normal" text-anchor="middle" fill="#111" >14 Days</text>
<text x="155.60" y="626.90" font-family='"Liberation Serif", serif' font-size="8.4" font-weight="normal" font-style="normal" text-anchor="middle" fill="#111" >7 Days</text>
<text x="211.90" y="626.90" font-family='"Liberation Serif", serif' font-size="8.4" font-weight="normal" font-style="normal" text-anchor="middle" fill="#111" >14 Days</text>
<text x="307.90" y="626.90" font-family='"Liberation Serif", serif' font-size="8.4" font-weight="normal" font-style="normal" text-anchor="middle" fill="#111" >7 Days</text>
<text x="364.00" y="626.90" font-family='"Liberation Serif", serif' font-size="8.4" font-weight="normal" font-style="normal" text-anchor="middle" fill="#111" >14 Days</text>
<text x="430.90" y="626.90" font-family='"Liberation Serif", serif' font-size="8.4" font-weight="normal" font-style="normal" text-anchor="middle" fill="#111" >7 Days</text>
<text x="486.90" y="626.90" font-family='"Liberation Serif", serif' font-size="8.4" font-weight="normal" font-style="normal" text-anchor="middle" fill="#111" >14 Days</text>
</svg>
</body></html>
